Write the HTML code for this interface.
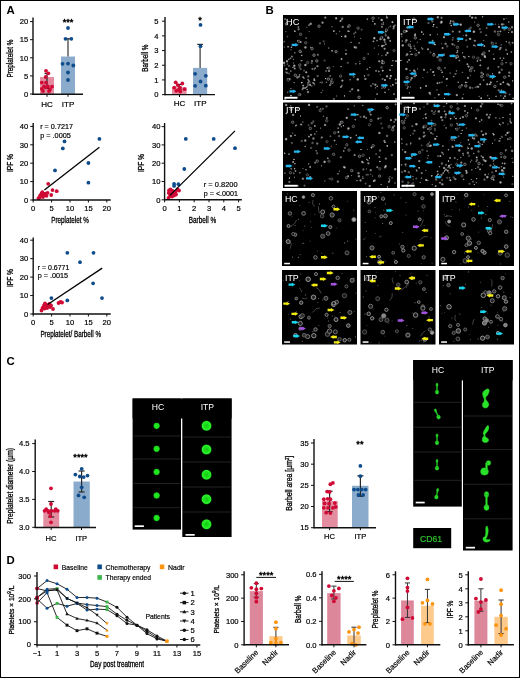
<!DOCTYPE html>
<html><head><meta charset="utf-8"><title>Figure</title>
<style>html,body{margin:0;padding:0;background:#fff;} svg{display:block;font-family:"Liberation Sans",sans-serif;will-change:transform;} text{stroke-linejoin:round;}</style>
</head><body>
<svg width="520" height="678" viewBox="0 0 520 678"><defs><radialGradient id="gc"><stop offset="0" stop-color="#22ee22"/><stop offset="0.6" stop-color="#1ee41e"/><stop offset="0.82" stop-color="#18c018"/><stop offset="1" stop-color="#064006"/></radialGradient><radialGradient id="gi"><stop offset="0" stop-color="#14c814"/><stop offset="0.55" stop-color="#1ee41e"/><stop offset="0.82" stop-color="#2cf42c"/><stop offset="1" stop-color="#065806"/></radialGradient><radialGradient id="spk"><stop offset="0" stop-color="#fff"/><stop offset="0.45" stop-color="#eee" stop-opacity="0.85"/><stop offset="1" stop-color="#ccc" stop-opacity="0"/></radialGradient><filter id="sp" x="0" y="0" width="100%" height="100%"><feGaussianBlur stdDeviation="0.8"/></filter><filter id="bl" x="-50%" y="-50%" width="200%" height="200%"><feGaussianBlur stdDeviation="0.8"/></filter></defs><rect x="0.5" y="0.5" width="519" height="677" fill="none" stroke="#000" stroke-width="1"/>
<text x="6.50" y="14.20" font-size="11.4" text-anchor="start" fill="#000" font-weight="bold" >A</text>
<text x="265.50" y="14.20" font-size="11.4" text-anchor="start" fill="#000" font-weight="bold" >B</text>
<text x="6.50" y="365.00" font-size="11.4" text-anchor="start" fill="#000" font-weight="bold" >C</text>
<text x="6.50" y="564.00" font-size="11.4" text-anchor="start" fill="#000" font-weight="bold" >D</text>
<rect x="40.00" y="76.99" width="14.00" height="17.31" fill="#e48ca0"/>
<rect x="61.00" y="56.53" width="14.00" height="37.77" fill="#8aabcb"/>
<line x1="47.00" y1="73.50" x2="47.00" y2="88.50" stroke="#2a2a2a" stroke-width="1.2"/>
<line x1="44.50" y1="73.50" x2="49.50" y2="73.50" stroke="#2a2a2a" stroke-width="1.2"/>
<line x1="44.50" y1="88.50" x2="49.50" y2="88.50" stroke="#2a2a2a" stroke-width="1.2"/>
<line x1="68.00" y1="38.80" x2="68.00" y2="56.53" stroke="#444" stroke-width="1.3"/>
<line x1="65.30" y1="38.80" x2="70.70" y2="38.80" stroke="#222" stroke-width="1.2"/>
<circle cx="46.00" cy="70.80" r="1.9" fill="#cf0a35"/>
<circle cx="48.30" cy="73.30" r="1.9" fill="#cf0a35"/>
<circle cx="45.70" cy="77.00" r="1.9" fill="#cf0a35"/>
<circle cx="41.80" cy="82.60" r="1.9" fill="#cf0a35"/>
<circle cx="46.00" cy="82.60" r="1.9" fill="#cf0a35"/>
<circle cx="44.00" cy="86.40" r="1.9" fill="#cf0a35"/>
<circle cx="47.90" cy="86.40" r="1.9" fill="#cf0a35"/>
<circle cx="52.10" cy="86.60" r="1.9" fill="#cf0a35"/>
<circle cx="41.80" cy="88.80" r="1.9" fill="#cf0a35"/>
<circle cx="50.00" cy="89.40" r="1.9" fill="#cf0a35"/>
<circle cx="46.20" cy="87.30" r="1.9" fill="#cf0a35"/>
<circle cx="43.00" cy="91.00" r="1.9" fill="#cf0a35"/>
<circle cx="49.00" cy="91.20" r="1.9" fill="#cf0a35"/>
<circle cx="68.00" cy="28.00" r="1.9" fill="#0f4c8c"/>
<circle cx="65.50" cy="38.80" r="1.9" fill="#0f4c8c"/>
<circle cx="71.30" cy="38.80" r="1.9" fill="#0f4c8c"/>
<circle cx="62.50" cy="63.80" r="1.9" fill="#0f4c8c"/>
<circle cx="68.00" cy="63.60" r="1.9" fill="#0f4c8c"/>
<circle cx="73.30" cy="65.50" r="1.9" fill="#0f4c8c"/>
<circle cx="68.00" cy="72.50" r="1.9" fill="#0f4c8c"/>
<circle cx="68.00" cy="80.00" r="1.9" fill="#0f4c8c"/>
<line x1="33.00" y1="17.50" x2="33.00" y2="94.90" stroke="#111" stroke-width="1.4"/>
<line x1="30.00" y1="94.00" x2="33.00" y2="94.00" stroke="#111" stroke-width="1.0"/>
<text x="28.30" y="96.72" font-size="7.6" text-anchor="end" fill="#000" font-weight="normal" stroke="#000" stroke-width="0.2" >0</text>
<line x1="30.00" y1="75.90" x2="33.00" y2="75.90" stroke="#111" stroke-width="1.0"/>
<text x="28.30" y="78.62" font-size="7.6" text-anchor="end" fill="#000" font-weight="normal" stroke="#000" stroke-width="0.2" >5</text>
<line x1="30.00" y1="57.80" x2="33.00" y2="57.80" stroke="#111" stroke-width="1.0"/>
<text x="28.30" y="60.52" font-size="7.6" text-anchor="end" fill="#000" font-weight="normal" stroke="#000" stroke-width="0.2" >10</text>
<line x1="30.00" y1="39.70" x2="33.00" y2="39.70" stroke="#111" stroke-width="1.0"/>
<text x="28.30" y="42.42" font-size="7.6" text-anchor="end" fill="#000" font-weight="normal" stroke="#000" stroke-width="0.2" >15</text>
<line x1="30.00" y1="21.60" x2="33.00" y2="21.60" stroke="#111" stroke-width="1.0"/>
<text x="28.30" y="24.32" font-size="7.6" text-anchor="end" fill="#000" font-weight="normal" stroke="#000" stroke-width="0.2" >20</text>
<line x1="32.40" y1="94.30" x2="83.00" y2="94.30" stroke="#111" stroke-width="1.4"/>
<line x1="47.00" y1="94.30" x2="47.00" y2="96.80" stroke="#111" stroke-width="1.0"/>
<line x1="68.00" y1="94.30" x2="68.00" y2="96.80" stroke="#111" stroke-width="1.0"/>
<text x="68.10" y="25.26" font-size="9.2" text-anchor="middle" fill="#000" stroke="#000" stroke-width="0.45">***</text>
<text x="47.00" y="106.66" font-size="8" text-anchor="middle" fill="#000" font-weight="normal" stroke="#000" stroke-width="0.2" >HC</text>
<text x="68.00" y="106.66" font-size="8" text-anchor="middle" fill="#000" font-weight="normal" stroke="#000" stroke-width="0.2" >ITP</text>
<text transform="translate(12.70,58.60) rotate(-90)" font-size="8.3" text-anchor="middle" fill="#000" stroke="#000" stroke-width="0.3" textLength="38.0" lengthAdjust="spacingAndGlyphs">Preplatelet %</text>
<rect x="172.00" y="87.26" width="14.60" height="7.34" fill="#e48ca0"/>
<rect x="193.00" y="67.88" width="14.20" height="26.72" fill="#8aabcb"/>
<line x1="200.10" y1="44.40" x2="200.10" y2="67.88" stroke="#444" stroke-width="1.3"/>
<line x1="197.30" y1="44.40" x2="202.90" y2="44.40" stroke="#222" stroke-width="1.2"/>
<line x1="179.30" y1="84.50" x2="179.30" y2="90.00" stroke="#2a2a2a" stroke-width="1.2"/>
<line x1="176.80" y1="84.50" x2="181.80" y2="84.50" stroke="#2a2a2a" stroke-width="1.2"/>
<line x1="176.80" y1="90.00" x2="181.80" y2="90.00" stroke="#2a2a2a" stroke-width="1.2"/>
<circle cx="175.70" cy="82.30" r="1.9" fill="#cf0a35"/>
<circle cx="182.30" cy="83.50" r="1.9" fill="#cf0a35"/>
<circle cx="177.70" cy="85.10" r="1.9" fill="#cf0a35"/>
<circle cx="174.20" cy="87.70" r="1.9" fill="#cf0a35"/>
<circle cx="180.00" cy="87.70" r="1.9" fill="#cf0a35"/>
<circle cx="184.60" cy="89.20" r="1.9" fill="#cf0a35"/>
<circle cx="176.20" cy="90.80" r="1.9" fill="#cf0a35"/>
<circle cx="180.30" cy="91.50" r="1.9" fill="#cf0a35"/>
<circle cx="178.50" cy="90.00" r="1.9" fill="#cf0a35"/>
<circle cx="200.50" cy="24.90" r="1.9" fill="#0f4c8c"/>
<circle cx="200.50" cy="46.20" r="1.9" fill="#0f4c8c"/>
<circle cx="195.10" cy="73.80" r="1.9" fill="#0f4c8c"/>
<circle cx="205.80" cy="75.80" r="1.9" fill="#0f4c8c"/>
<circle cx="200.50" cy="81.50" r="1.9" fill="#0f4c8c"/>
<circle cx="195.10" cy="85.80" r="1.9" fill="#0f4c8c"/>
<circle cx="205.80" cy="85.70" r="1.9" fill="#0f4c8c"/>
<line x1="165.00" y1="17.00" x2="165.00" y2="95.20" stroke="#111" stroke-width="1.4"/>
<line x1="162.00" y1="94.60" x2="165.00" y2="94.60" stroke="#111" stroke-width="1.0"/>
<text x="158.50" y="97.32" font-size="7.6" text-anchor="end" fill="#000" font-weight="normal" stroke="#000" stroke-width="0.2" >0</text>
<line x1="162.00" y1="79.92" x2="165.00" y2="79.92" stroke="#111" stroke-width="1.0"/>
<text x="158.50" y="82.64" font-size="7.6" text-anchor="end" fill="#000" font-weight="normal" stroke="#000" stroke-width="0.2" >1</text>
<line x1="162.00" y1="65.24" x2="165.00" y2="65.24" stroke="#111" stroke-width="1.0"/>
<text x="158.50" y="67.96" font-size="7.6" text-anchor="end" fill="#000" font-weight="normal" stroke="#000" stroke-width="0.2" >2</text>
<line x1="162.00" y1="50.56" x2="165.00" y2="50.56" stroke="#111" stroke-width="1.0"/>
<text x="158.50" y="53.28" font-size="7.6" text-anchor="end" fill="#000" font-weight="normal" stroke="#000" stroke-width="0.2" >3</text>
<line x1="162.00" y1="35.88" x2="165.00" y2="35.88" stroke="#111" stroke-width="1.0"/>
<text x="158.50" y="38.60" font-size="7.6" text-anchor="end" fill="#000" font-weight="normal" stroke="#000" stroke-width="0.2" >4</text>
<line x1="162.00" y1="21.20" x2="165.00" y2="21.20" stroke="#111" stroke-width="1.0"/>
<text x="158.50" y="23.92" font-size="7.6" text-anchor="end" fill="#000" font-weight="normal" stroke="#000" stroke-width="0.2" >5</text>
<line x1="164.40" y1="94.60" x2="215.00" y2="94.60" stroke="#111" stroke-width="1.4"/>
<line x1="179.50" y1="94.60" x2="179.50" y2="97.10" stroke="#111" stroke-width="1.0"/>
<line x1="200.30" y1="94.60" x2="200.30" y2="97.10" stroke="#111" stroke-width="1.0"/>
<text x="200.10" y="22.51" font-size="9.2" text-anchor="middle" fill="#000" stroke="#000" stroke-width="0.45">*</text>
<text x="179.50" y="106.46" font-size="8" text-anchor="middle" fill="#000" font-weight="normal" stroke="#000" stroke-width="0.2" >HC</text>
<text x="200.30" y="106.46" font-size="8" text-anchor="middle" fill="#000" font-weight="normal" stroke="#000" stroke-width="0.2" >ITP</text>
<text transform="translate(148.40,58.15) rotate(-90)" font-size="8.5" text-anchor="middle" fill="#000" stroke="#000" stroke-width="0.3" textLength="27.3" lengthAdjust="spacingAndGlyphs">Barbell %</text>
<circle cx="48.20" cy="183.80" r="1.9" fill="#cf0a35"/>
<circle cx="52.50" cy="190.10" r="1.9" fill="#cf0a35"/>
<circle cx="56.70" cy="191.20" r="1.9" fill="#cf0a35"/>
<circle cx="51.20" cy="195.00" r="1.9" fill="#cf0a35"/>
<circle cx="42.30" cy="192.20" r="1.9" fill="#cf0a35"/>
<circle cx="45.50" cy="193.70" r="1.9" fill="#cf0a35"/>
<circle cx="47.60" cy="192.80" r="1.9" fill="#cf0a35"/>
<circle cx="40.20" cy="195.40" r="1.9" fill="#cf0a35"/>
<circle cx="39.80" cy="197.50" r="1.9" fill="#cf0a35"/>
<circle cx="43.50" cy="195.50" r="1.9" fill="#cf0a35"/>
<circle cx="44.50" cy="194.00" r="1.9" fill="#cf0a35"/>
<circle cx="41.50" cy="193.50" r="1.9" fill="#cf0a35"/>
<circle cx="38.50" cy="198.20" r="1.9" fill="#cf0a35"/>
<circle cx="46.50" cy="195.80" r="1.9" fill="#cf0a35"/>
<circle cx="43.00" cy="197.00" r="1.9" fill="#cf0a35"/>
<circle cx="64.50" cy="141.40" r="1.9" fill="#0f4c8c"/>
<circle cx="62.80" cy="148.40" r="1.9" fill="#0f4c8c"/>
<circle cx="99.40" cy="138.90" r="1.9" fill="#0f4c8c"/>
<circle cx="88.40" cy="163.00" r="1.9" fill="#0f4c8c"/>
<circle cx="88.40" cy="182.70" r="1.9" fill="#0f4c8c"/>
<circle cx="55.00" cy="170.40" r="1.9" fill="#0f4c8c"/>
<line x1="44.40" y1="190.00" x2="99.40" y2="147.20" stroke="#000" stroke-width="1.3"/>
<line x1="33.20" y1="123.00" x2="33.20" y2="200.60" stroke="#111" stroke-width="1.4"/>
<line x1="30.20" y1="200.00" x2="33.20" y2="200.00" stroke="#111" stroke-width="1.0"/>
<text x="28.30" y="202.72" font-size="7.6" text-anchor="end" fill="#000" font-weight="normal" stroke="#000" stroke-width="0.2" >0</text>
<line x1="30.20" y1="181.60" x2="33.20" y2="181.60" stroke="#111" stroke-width="1.0"/>
<text x="28.30" y="184.32" font-size="7.6" text-anchor="end" fill="#000" font-weight="normal" stroke="#000" stroke-width="0.2" >10</text>
<line x1="30.20" y1="163.20" x2="33.20" y2="163.20" stroke="#111" stroke-width="1.0"/>
<text x="28.30" y="165.92" font-size="7.6" text-anchor="end" fill="#000" font-weight="normal" stroke="#000" stroke-width="0.2" >20</text>
<line x1="30.20" y1="144.80" x2="33.20" y2="144.80" stroke="#111" stroke-width="1.0"/>
<text x="28.30" y="147.52" font-size="7.6" text-anchor="end" fill="#000" font-weight="normal" stroke="#000" stroke-width="0.2" >30</text>
<line x1="30.20" y1="126.40" x2="33.20" y2="126.40" stroke="#111" stroke-width="1.0"/>
<text x="28.30" y="129.12" font-size="7.6" text-anchor="end" fill="#000" font-weight="normal" stroke="#000" stroke-width="0.2" >40</text>
<line x1="32.60" y1="200.00" x2="110.70" y2="200.00" stroke="#111" stroke-width="1.4"/>
<line x1="33.20" y1="200.00" x2="33.20" y2="202.50" stroke="#111" stroke-width="1.0"/>
<line x1="51.60" y1="200.00" x2="51.60" y2="202.50" stroke="#111" stroke-width="1.0"/>
<line x1="70.00" y1="200.00" x2="70.00" y2="202.50" stroke="#111" stroke-width="1.0"/>
<line x1="88.40" y1="200.00" x2="88.40" y2="202.50" stroke="#111" stroke-width="1.0"/>
<line x1="106.80" y1="200.00" x2="106.80" y2="202.50" stroke="#111" stroke-width="1.0"/>
<text x="33.20" y="210.72" font-size="7.6" text-anchor="middle" fill="#000" font-weight="normal" stroke="#000" stroke-width="0.2" >0</text>
<text x="51.60" y="210.72" font-size="7.6" text-anchor="middle" fill="#000" font-weight="normal" stroke="#000" stroke-width="0.2" >5</text>
<text x="70.00" y="210.72" font-size="7.6" text-anchor="middle" fill="#000" font-weight="normal" stroke="#000" stroke-width="0.2" >10</text>
<text x="88.40" y="210.72" font-size="7.6" text-anchor="middle" fill="#000" font-weight="normal" stroke="#000" stroke-width="0.2" >15</text>
<text x="106.80" y="210.72" font-size="7.6" text-anchor="middle" fill="#000" font-weight="normal" stroke="#000" stroke-width="0.2" >20</text>
<text x="40.20" y="128.81" font-size="7.8" fill="#000" stroke="#000" stroke-width="0.2" textLength="32.8" lengthAdjust="spacingAndGlyphs">r = 0.7217</text>
<text x="40.20" y="137.81" font-size="7.8" fill="#000" stroke="#000" stroke-width="0.2" textLength="30.7" lengthAdjust="spacingAndGlyphs">p = .0005</text>
<text x="70.00" y="222.69" font-size="8.3" text-anchor="middle" fill="#000" stroke="#000" stroke-width="0.3" textLength="37.5" lengthAdjust="spacingAndGlyphs">Preplatelet %</text>
<text transform="translate(12.70,163.00) rotate(-90)" font-size="8.2" text-anchor="middle" fill="#000" stroke="#000" stroke-width="0.3" textLength="18.0" lengthAdjust="spacingAndGlyphs">IPF %</text>
<circle cx="169.00" cy="190.50" r="1.9" fill="#cf0a35"/>
<circle cx="170.50" cy="189.50" r="1.9" fill="#cf0a35"/>
<circle cx="172.50" cy="191.00" r="1.9" fill="#cf0a35"/>
<circle cx="168.80" cy="193.00" r="1.9" fill="#cf0a35"/>
<circle cx="171.00" cy="194.00" r="1.9" fill="#cf0a35"/>
<circle cx="173.50" cy="193.50" r="1.9" fill="#cf0a35"/>
<circle cx="175.50" cy="192.00" r="1.9" fill="#cf0a35"/>
<circle cx="177.50" cy="189.50" r="1.9" fill="#cf0a35"/>
<circle cx="179.00" cy="190.50" r="1.9" fill="#cf0a35"/>
<circle cx="170.00" cy="196.00" r="1.9" fill="#cf0a35"/>
<circle cx="168.50" cy="198.00" r="1.9" fill="#cf0a35"/>
<circle cx="172.00" cy="196.50" r="1.9" fill="#cf0a35"/>
<circle cx="174.00" cy="195.50" r="1.9" fill="#cf0a35"/>
<circle cx="176.00" cy="194.50" r="1.9" fill="#cf0a35"/>
<circle cx="185.80" cy="138.90" r="1.9" fill="#0f4c8c"/>
<circle cx="213.70" cy="138.90" r="1.9" fill="#0f4c8c"/>
<circle cx="235.00" cy="148.20" r="1.9" fill="#0f4c8c"/>
<circle cx="184.30" cy="169.00" r="1.9" fill="#0f4c8c"/>
<circle cx="174.10" cy="183.80" r="1.9" fill="#0f4c8c"/>
<circle cx="174.10" cy="185.90" r="1.9" fill="#0f4c8c"/>
<circle cx="178.40" cy="184.20" r="1.9" fill="#0f4c8c"/>
<line x1="169.90" y1="195.40" x2="235.00" y2="130.90" stroke="#000" stroke-width="1.3"/>
<line x1="164.60" y1="123.00" x2="164.60" y2="200.40" stroke="#111" stroke-width="1.4"/>
<line x1="161.60" y1="199.80" x2="164.60" y2="199.80" stroke="#111" stroke-width="1.0"/>
<text x="160.40" y="202.52" font-size="7.6" text-anchor="end" fill="#000" font-weight="normal" stroke="#000" stroke-width="0.2" >0</text>
<line x1="161.60" y1="181.50" x2="164.60" y2="181.50" stroke="#111" stroke-width="1.0"/>
<text x="160.40" y="184.22" font-size="7.6" text-anchor="end" fill="#000" font-weight="normal" stroke="#000" stroke-width="0.2" >10</text>
<line x1="161.60" y1="163.20" x2="164.60" y2="163.20" stroke="#111" stroke-width="1.0"/>
<text x="160.40" y="165.92" font-size="7.6" text-anchor="end" fill="#000" font-weight="normal" stroke="#000" stroke-width="0.2" >20</text>
<line x1="161.60" y1="144.90" x2="164.60" y2="144.90" stroke="#111" stroke-width="1.0"/>
<text x="160.40" y="147.62" font-size="7.6" text-anchor="end" fill="#000" font-weight="normal" stroke="#000" stroke-width="0.2" >30</text>
<line x1="161.60" y1="126.60" x2="164.60" y2="126.60" stroke="#111" stroke-width="1.0"/>
<text x="160.40" y="129.32" font-size="7.6" text-anchor="end" fill="#000" font-weight="normal" stroke="#000" stroke-width="0.2" >40</text>
<line x1="164.00" y1="199.80" x2="241.80" y2="199.80" stroke="#111" stroke-width="1.4"/>
<line x1="164.60" y1="199.80" x2="164.60" y2="202.30" stroke="#111" stroke-width="1.0"/>
<line x1="179.40" y1="199.80" x2="179.40" y2="202.30" stroke="#111" stroke-width="1.0"/>
<line x1="194.20" y1="199.80" x2="194.20" y2="202.30" stroke="#111" stroke-width="1.0"/>
<line x1="209.00" y1="199.80" x2="209.00" y2="202.30" stroke="#111" stroke-width="1.0"/>
<line x1="223.80" y1="199.80" x2="223.80" y2="202.30" stroke="#111" stroke-width="1.0"/>
<line x1="238.60" y1="199.80" x2="238.60" y2="202.30" stroke="#111" stroke-width="1.0"/>
<text x="164.60" y="210.72" font-size="7.6" text-anchor="middle" fill="#000" font-weight="normal" stroke="#000" stroke-width="0.2" >0</text>
<text x="179.40" y="210.72" font-size="7.6" text-anchor="middle" fill="#000" font-weight="normal" stroke="#000" stroke-width="0.2" >1</text>
<text x="194.20" y="210.72" font-size="7.6" text-anchor="middle" fill="#000" font-weight="normal" stroke="#000" stroke-width="0.2" >2</text>
<text x="209.00" y="210.72" font-size="7.6" text-anchor="middle" fill="#000" font-weight="normal" stroke="#000" stroke-width="0.2" >3</text>
<text x="223.80" y="210.72" font-size="7.6" text-anchor="middle" fill="#000" font-weight="normal" stroke="#000" stroke-width="0.2" >4</text>
<text x="238.60" y="210.72" font-size="7.6" text-anchor="middle" fill="#000" font-weight="normal" stroke="#000" stroke-width="0.2" >5</text>
<text x="203.80" y="186.61" font-size="7.8" fill="#000" stroke="#000" stroke-width="0.2" textLength="33.8" lengthAdjust="spacingAndGlyphs">r = 0.8200</text>
<text x="203.80" y="195.61" font-size="7.8" fill="#000" stroke="#000" stroke-width="0.2" textLength="34.2" lengthAdjust="spacingAndGlyphs">p = &lt;.0001</text>
<text x="202.40" y="222.99" font-size="8.3" text-anchor="middle" fill="#000" stroke="#000" stroke-width="0.3" textLength="27.4" lengthAdjust="spacingAndGlyphs">Barbell %</text>
<text transform="translate(143.80,163.00) rotate(-90)" font-size="8.2" text-anchor="middle" fill="#000" stroke="#000" stroke-width="0.3" textLength="18.0" lengthAdjust="spacingAndGlyphs">IPF %</text>
<circle cx="41.50" cy="310.50" r="1.9" fill="#cf0a35"/>
<circle cx="42.50" cy="308.00" r="1.9" fill="#cf0a35"/>
<circle cx="44.00" cy="305.50" r="1.9" fill="#cf0a35"/>
<circle cx="45.00" cy="303.50" r="1.9" fill="#cf0a35"/>
<circle cx="46.50" cy="305.00" r="1.9" fill="#cf0a35"/>
<circle cx="48.00" cy="306.50" r="1.9" fill="#cf0a35"/>
<circle cx="49.50" cy="304.00" r="1.9" fill="#cf0a35"/>
<circle cx="51.00" cy="305.50" r="1.9" fill="#cf0a35"/>
<circle cx="47.00" cy="308.00" r="1.9" fill="#cf0a35"/>
<circle cx="44.50" cy="308.50" r="1.9" fill="#cf0a35"/>
<circle cx="53.00" cy="309.00" r="1.9" fill="#cf0a35"/>
<circle cx="58.50" cy="303.00" r="1.9" fill="#cf0a35"/>
<circle cx="60.50" cy="302.00" r="1.9" fill="#cf0a35"/>
<circle cx="62.00" cy="302.50" r="1.9" fill="#cf0a35"/>
<circle cx="50.00" cy="307.00" r="1.9" fill="#cf0a35"/>
<circle cx="67.30" cy="252.80" r="1.9" fill="#0f4c8c"/>
<circle cx="93.50" cy="252.80" r="1.9" fill="#0f4c8c"/>
<circle cx="80.00" cy="262.20" r="1.9" fill="#0f4c8c"/>
<circle cx="93.10" cy="283.30" r="1.9" fill="#0f4c8c"/>
<circle cx="102.00" cy="298.10" r="1.9" fill="#0f4c8c"/>
<circle cx="51.40" cy="298.10" r="1.9" fill="#0f4c8c"/>
<circle cx="67.30" cy="300.40" r="1.9" fill="#0f4c8c"/>
<line x1="47.60" y1="304.50" x2="102.20" y2="268.10" stroke="#000" stroke-width="1.3"/>
<line x1="33.20" y1="237.50" x2="33.20" y2="314.60" stroke="#111" stroke-width="1.4"/>
<line x1="30.20" y1="314.00" x2="33.20" y2="314.00" stroke="#111" stroke-width="1.0"/>
<text x="28.30" y="316.72" font-size="7.6" text-anchor="end" fill="#000" font-weight="normal" stroke="#000" stroke-width="0.2" >0</text>
<line x1="30.20" y1="295.55" x2="33.20" y2="295.55" stroke="#111" stroke-width="1.0"/>
<text x="28.30" y="298.27" font-size="7.6" text-anchor="end" fill="#000" font-weight="normal" stroke="#000" stroke-width="0.2" >10</text>
<line x1="30.20" y1="277.10" x2="33.20" y2="277.10" stroke="#111" stroke-width="1.0"/>
<text x="28.30" y="279.82" font-size="7.6" text-anchor="end" fill="#000" font-weight="normal" stroke="#000" stroke-width="0.2" >20</text>
<line x1="30.20" y1="258.65" x2="33.20" y2="258.65" stroke="#111" stroke-width="1.0"/>
<text x="28.30" y="261.37" font-size="7.6" text-anchor="end" fill="#000" font-weight="normal" stroke="#000" stroke-width="0.2" >30</text>
<line x1="30.20" y1="240.20" x2="33.20" y2="240.20" stroke="#111" stroke-width="1.0"/>
<text x="28.30" y="242.92" font-size="7.6" text-anchor="end" fill="#000" font-weight="normal" stroke="#000" stroke-width="0.2" >40</text>
<line x1="32.60" y1="314.00" x2="110.70" y2="314.00" stroke="#111" stroke-width="1.4"/>
<line x1="33.20" y1="314.00" x2="33.20" y2="316.50" stroke="#111" stroke-width="1.0"/>
<line x1="51.60" y1="314.00" x2="51.60" y2="316.50" stroke="#111" stroke-width="1.0"/>
<line x1="70.00" y1="314.00" x2="70.00" y2="316.50" stroke="#111" stroke-width="1.0"/>
<line x1="88.40" y1="314.00" x2="88.40" y2="316.50" stroke="#111" stroke-width="1.0"/>
<line x1="106.80" y1="314.00" x2="106.80" y2="316.50" stroke="#111" stroke-width="1.0"/>
<text x="33.20" y="325.42" font-size="7.6" text-anchor="middle" fill="#000" font-weight="normal" stroke="#000" stroke-width="0.2" >0</text>
<text x="51.60" y="325.42" font-size="7.6" text-anchor="middle" fill="#000" font-weight="normal" stroke="#000" stroke-width="0.2" >5</text>
<text x="70.00" y="325.42" font-size="7.6" text-anchor="middle" fill="#000" font-weight="normal" stroke="#000" stroke-width="0.2" >10</text>
<text x="88.40" y="325.42" font-size="7.6" text-anchor="middle" fill="#000" font-weight="normal" stroke="#000" stroke-width="0.2" >15</text>
<text x="106.80" y="325.42" font-size="7.6" text-anchor="middle" fill="#000" font-weight="normal" stroke="#000" stroke-width="0.2" >20</text>
<text x="37.70" y="269.81" font-size="7.8" fill="#000" stroke="#000" stroke-width="0.2" textLength="31.7" lengthAdjust="spacingAndGlyphs">r = 0.6771</text>
<text x="37.70" y="278.31" font-size="7.8" fill="#000" stroke="#000" stroke-width="0.2" textLength="30.4" lengthAdjust="spacingAndGlyphs">p = .0015</text>
<text x="70.70" y="337.19" font-size="8.3" text-anchor="middle" fill="#000" stroke="#000" stroke-width="0.3" textLength="60.6" lengthAdjust="spacingAndGlyphs">Preplatelet/ Barbell %</text>
<text transform="translate(12.70,278.00) rotate(-90)" font-size="8.2" text-anchor="middle" fill="#000" stroke="#000" stroke-width="0.3" textLength="18.0" lengthAdjust="spacingAndGlyphs">IPF %</text>
<rect x="283.00" y="15.00" width="114.00" height="85.00" fill="#000"/>
<circle cx="354.1" cy="33.6" r="1.44" fill="url(#spk)" opacity="0.38"/>
<circle cx="384.6" cy="92.1" r="1.16" fill="url(#spk)" opacity="0.34"/>
<circle cx="371.0" cy="85.9" r="1.25" fill="url(#spk)" opacity="0.50"/>
<circle cx="309.1" cy="25.2" r="1.57" fill="url(#spk)" opacity="0.45"/>
<circle cx="317.5" cy="66.2" r="1.62" fill="url(#spk)" opacity="0.56"/>
<circle cx="382.0" cy="55.8" r="1.05" fill="url(#spk)" opacity="0.41"/>
<circle cx="284.4" cy="65.4" r="1.59" fill="url(#spk)" opacity="0.30"/>
<circle cx="376.1" cy="70.8" r="1.65" fill="url(#spk)" opacity="0.44"/>
<circle cx="373.4" cy="41.4" r="1.36" fill="url(#spk)" opacity="0.63"/>
<circle cx="336.4" cy="96.0" r="1.05" fill="url(#spk)" opacity="0.40"/>
<circle cx="317.9" cy="54.7" r="1.55" fill="url(#spk)" opacity="0.47"/>
<circle cx="315.1" cy="68.2" r="1.20" fill="url(#spk)" opacity="0.63"/>
<circle cx="312.4" cy="68.8" r="1.51" fill="url(#spk)" opacity="0.47"/>
<circle cx="333.8" cy="31.1" r="1.30" fill="url(#spk)" opacity="0.70"/>
<circle cx="340.5" cy="21.0" r="1.51" fill="url(#spk)" opacity="0.71"/>
<circle cx="346.0" cy="50.1" r="1.21" fill="url(#spk)" opacity="0.43"/>
<circle cx="395.7" cy="79.5" r="1.38" fill="url(#spk)" opacity="0.63"/>
<circle cx="372.9" cy="83.8" r="1.42" fill="url(#spk)" opacity="0.40"/>
<circle cx="353.7" cy="76.7" r="1.50" fill="url(#spk)" opacity="0.35"/>
<circle cx="395.0" cy="25.2" r="1.16" fill="url(#spk)" opacity="0.49"/>
<circle cx="308.0" cy="92.0" r="1.77" fill="url(#spk)" opacity="0.56"/>
<circle cx="301.8" cy="82.7" r="1.23" fill="url(#spk)" opacity="0.72"/>
<circle cx="352.6" cy="89.0" r="1.24" fill="url(#spk)" opacity="0.35"/>
<circle cx="288.7" cy="59.4" r="1.21" fill="url(#spk)" opacity="0.61"/>
<circle cx="287.8" cy="92.2" r="1.05" fill="url(#spk)" opacity="0.50"/>
<circle cx="341.7" cy="19.7" r="1.34" fill="url(#spk)" opacity="0.34"/>
<circle cx="336.2" cy="18.3" r="1.62" fill="url(#spk)" opacity="0.74"/>
<circle cx="386.9" cy="17.5" r="1.57" fill="url(#spk)" opacity="0.61"/>
<circle cx="354.5" cy="36.9" r="1.16" fill="url(#spk)" opacity="0.34"/>
<circle cx="341.6" cy="36.5" r="1.11" fill="url(#spk)" opacity="0.71"/>
<circle cx="339.6" cy="31.4" r="1.26" fill="url(#spk)" opacity="0.33"/>
<circle cx="311.6" cy="63.1" r="1.61" fill="url(#spk)" opacity="0.32"/>
<circle cx="285.1" cy="19.1" r="1.39" fill="url(#spk)" opacity="0.44"/>
<circle cx="305.4" cy="65.0" r="1.74" fill="url(#spk)" opacity="0.72"/>
<circle cx="361.6" cy="29.6" r="1.53" fill="url(#spk)" opacity="0.30"/>
<circle cx="306.3" cy="72.3" r="1.50" fill="url(#spk)" opacity="0.71"/>
<circle cx="325.3" cy="17.6" r="1.61" fill="url(#spk)" opacity="0.57"/>
<circle cx="284.2" cy="41.7" r="1.60" fill="url(#spk)" opacity="0.31"/>
<circle cx="377.1" cy="94.1" r="1.28" fill="url(#spk)" opacity="0.55"/>
<circle cx="301.2" cy="60.7" r="1.21" fill="url(#spk)" opacity="0.50"/>
<circle cx="313.9" cy="83.5" r="1.35" fill="url(#spk)" opacity="0.55"/>
<circle cx="382.7" cy="70.7" r="1.39" fill="url(#spk)" opacity="0.63"/>
<circle cx="341.1" cy="66.7" r="1.11" fill="url(#spk)" opacity="0.60"/>
<circle cx="379.0" cy="31.8" r="1.35" fill="url(#spk)" opacity="0.75"/>
<circle cx="355.7" cy="63.7" r="1.51" fill="url(#spk)" opacity="0.35"/>
<circle cx="367.2" cy="19.1" r="1.11" fill="url(#spk)" opacity="0.66"/>
<circle cx="294.1" cy="82.7" r="1.11" fill="url(#spk)" opacity="0.47"/>
<circle cx="344.6" cy="95.9" r="1.14" fill="url(#spk)" opacity="0.65"/>
<circle cx="340.9" cy="87.0" r="1.23" fill="url(#spk)" opacity="0.70"/>
<circle cx="381.7" cy="20.0" r="1.77" fill="url(#spk)" opacity="0.75"/>
<circle cx="324.4" cy="44.0" r="1.02" fill="url(#spk)" opacity="0.41"/>
<circle cx="351.0" cy="42.3" r="1.15" fill="url(#spk)" opacity="0.49"/>
<circle cx="290.5" cy="25.2" r="1.13" fill="url(#spk)" opacity="0.72"/>
<circle cx="327.4" cy="68.1" r="1.38" fill="url(#spk)" opacity="0.72"/>
<circle cx="320.1" cy="82.3" r="1.01" fill="url(#spk)" opacity="0.46"/>
<circle cx="300.7" cy="42.0" r="1.37" fill="url(#spk)" opacity="0.72"/>
<circle cx="375.6" cy="87.8" r="1.13" fill="url(#spk)" opacity="0.47"/>
<circle cx="326.4" cy="82.3" r="1.22" fill="url(#spk)" opacity="0.46"/>
<circle cx="393.8" cy="26.6" r="1.63" fill="url(#spk)" opacity="0.64"/>
<circle cx="350.1" cy="79.8" r="1.15" fill="url(#spk)" opacity="0.50"/>
<circle cx="351.8" cy="89.4" r="1.49" fill="url(#spk)" opacity="0.49"/>
<circle cx="355.5" cy="32.3" r="1.33" fill="url(#spk)" opacity="0.46"/>
<circle cx="359.8" cy="63.6" r="1.33" fill="url(#spk)" opacity="0.48"/>
<circle cx="300.7" cy="69.1" r="1.65" fill="url(#spk)" opacity="0.35"/>
<circle cx="333.3" cy="66.6" r="1.13" fill="url(#spk)" opacity="0.31"/>
<circle cx="310.7" cy="23.8" r="1.74" fill="url(#spk)" opacity="0.63"/>
<circle cx="329.0" cy="70.9" r="1.71" fill="url(#spk)" opacity="0.55"/>
<circle cx="294.7" cy="68.5" r="1.53" fill="url(#spk)" opacity="0.60"/>
<circle cx="392.6" cy="84.5" r="1.04" fill="url(#spk)" opacity="0.66"/>
<circle cx="308.0" cy="82.8" r="1.53" fill="url(#spk)" opacity="0.39"/>
<circle cx="359.3" cy="43.1" r="1.48" fill="url(#spk)" opacity="0.39"/>
<circle cx="317.6" cy="76.0" r="1.62" fill="url(#spk)" opacity="0.41"/>
<circle cx="382.0" cy="88.1" r="1.17" fill="url(#spk)" opacity="0.42"/>
<circle cx="358.2" cy="90.3" r="1.76" fill="url(#spk)" opacity="0.64"/>
<circle cx="298.6" cy="29.3" r="1.71" fill="url(#spk)" opacity="0.46"/>
<circle cx="378.8" cy="18.0" r="1.09" fill="url(#spk)" opacity="0.43"/>
<circle cx="390.0" cy="70.1" r="1.25" fill="url(#spk)" opacity="0.58"/>
<circle cx="385.4" cy="33.7" r="1.03" fill="url(#spk)" opacity="0.37"/>
<circle cx="347.8" cy="62.8" r="1.66" fill="url(#spk)" opacity="0.33"/>
<circle cx="300.1" cy="94.6" r="1.73" fill="url(#spk)" opacity="0.61"/>
<circle cx="305.4" cy="47.4" r="1.79" fill="url(#spk)" opacity="0.64"/>
<circle cx="388.1" cy="36.9" r="1.49" fill="url(#spk)" opacity="0.42"/>
<circle cx="345.9" cy="53.9" r="1.53" fill="url(#spk)" opacity="0.58"/>
<circle cx="304.1" cy="70.6" r="1.54" fill="url(#spk)" opacity="0.30"/>
<circle cx="383.2" cy="24.2" r="1.46" fill="url(#spk)" opacity="0.47"/>
<circle cx="355.9" cy="47.5" r="1.76" fill="url(#spk)" opacity="0.55"/>
<circle cx="347.8" cy="27.0" r="1.49" fill="url(#spk)" opacity="0.40"/>
<circle cx="326.1" cy="71.0" r="1.27" fill="url(#spk)" opacity="0.44"/>
<circle cx="330.0" cy="85.1" r="1.41" fill="url(#spk)" opacity="0.57"/>
<circle cx="310.7" cy="47.2" r="1.01" fill="url(#spk)" opacity="0.56"/>
<circle cx="288.1" cy="46.8" r="1.58" fill="url(#spk)" opacity="0.35"/>
<circle cx="382.3" cy="60.8" r="1.56" fill="url(#spk)" opacity="0.61"/>
<circle cx="336.4" cy="33.7" r="1.34" fill="url(#spk)" opacity="0.32"/>
<circle cx="345.4" cy="36.4" r="1.68" fill="url(#spk)" opacity="0.74"/>
<circle cx="320.0" cy="43.3" r="1.60" fill="url(#spk)" opacity="0.38"/>
<circle cx="368.2" cy="53.9" r="1.27" fill="url(#spk)" opacity="0.40"/>
<circle cx="286.6" cy="22.6" r="1.06" fill="url(#spk)" opacity="0.37"/>
<circle cx="325.6" cy="78.6" r="1.11" fill="url(#spk)" opacity="0.75"/>
<circle cx="287.2" cy="64.1" r="1.15" fill="url(#spk)" opacity="0.41"/>
<circle cx="297.6" cy="40.8" r="1.24" fill="url(#spk)" opacity="0.56"/>
<circle cx="392.5" cy="22.3" r="1.36" fill="url(#spk)" opacity="0.75"/>
<circle cx="357.7" cy="79.4" r="1.74" fill="url(#spk)" opacity="0.73"/>
<circle cx="331.9" cy="26.7" r="1.22" fill="url(#spk)" opacity="0.30"/>
<circle cx="342.7" cy="26.9" r="1.72" fill="url(#spk)" opacity="0.52"/>
<circle cx="381.9" cy="26.7" r="1.54" fill="url(#spk)" opacity="0.56"/>
<circle cx="322.5" cy="22.6" r="1.68" fill="url(#spk)" opacity="0.61"/>
<circle cx="350.1" cy="91.4" r="1.32" fill="url(#spk)" opacity="0.44"/>
<circle cx="360.6" cy="38.3" r="1.00" fill="url(#spk)" opacity="0.43"/>
<circle cx="323.7" cy="41.4" r="1.63" fill="url(#spk)" opacity="0.28"/>
<circle cx="342.1" cy="85.3" r="1.20" fill="url(#spk)" opacity="0.30"/>
<circle cx="369.8" cy="67.5" r="1.11" fill="url(#spk)" opacity="0.54"/>
<circle cx="386.0" cy="31.4" r="1.64" fill="url(#spk)" opacity="0.32"/>
<circle cx="300.8" cy="52.1" r="1.55" fill="url(#spk)" opacity="0.38"/>
<circle cx="388.7" cy="89.5" r="1.17" fill="url(#spk)" opacity="0.44"/>
<circle cx="284.4" cy="47.1" r="1.21" fill="url(#spk)" opacity="0.31"/>
<circle cx="368.4" cy="75.1" r="1.75" fill="url(#spk)" opacity="0.29"/>
<circle cx="374.9" cy="23.9" r="1.21" fill="url(#spk)" opacity="0.72"/>
<circle cx="299.2" cy="76.5" r="1.56" fill="url(#spk)" opacity="0.48"/>
<circle cx="330.9" cy="80.6" r="1.10" fill="url(#spk)" opacity="0.38"/>
<circle cx="375.4" cy="84.7" r="1.65" fill="url(#spk)" opacity="0.61"/>
<circle cx="285.4" cy="72.0" r="1.09" fill="url(#spk)" opacity="0.28"/>
<circle cx="354.4" cy="46.7" r="1.41" fill="url(#spk)" opacity="0.40"/>
<circle cx="372.9" cy="21.2" r="1.03" fill="url(#spk)" opacity="0.73"/>
<circle cx="341.5" cy="59.1" r="1.44" fill="url(#spk)" opacity="0.70"/>
<circle cx="365.4" cy="79.0" r="1.68" fill="url(#spk)" opacity="0.58"/>
<circle cx="309.2" cy="31.7" r="1.07" fill="url(#spk)" opacity="0.32"/>
<circle cx="306.1" cy="38.0" r="1.22" fill="url(#spk)" opacity="0.43"/>
<circle cx="324.6" cy="60.5" r="1.61" fill="url(#spk)" opacity="0.29"/>
<circle cx="304.0" cy="78.2" r="1.49" fill="url(#spk)" opacity="0.38"/>
<circle cx="322.7" cy="90.6" r="1.25" fill="url(#spk)" opacity="0.29"/>
<circle cx="390.4" cy="26.3" r="1.50" fill="url(#spk)" opacity="0.34"/>
<circle cx="348.2" cy="31.2" r="1.36" fill="url(#spk)" opacity="0.58"/>
<circle cx="322.0" cy="82.5" r="1.69" fill="url(#spk)" opacity="0.33"/>
<circle cx="314.3" cy="69.6" r="1.23" fill="url(#spk)" opacity="0.35"/>
<circle cx="390.8" cy="75.9" r="1.61" fill="url(#spk)" opacity="0.70"/>
<circle cx="333.8" cy="98.9" r="1.51" fill="url(#spk)" opacity="0.44"/>
<circle cx="394.0" cy="94.1" r="1.59" fill="url(#spk)" opacity="0.44"/>
<circle cx="341.7" cy="86.1" r="1.30" fill="url(#spk)" opacity="0.32"/>
<circle cx="342.4" cy="80.6" r="1.58" fill="url(#spk)" opacity="0.65"/>
<circle cx="384.6" cy="48.7" r="1.56" fill="url(#spk)" opacity="0.60"/>
<circle cx="367.3" cy="69.3" r="1.31" fill="url(#spk)" opacity="0.54"/>
<circle cx="349.1" cy="31.2" r="1.02" fill="url(#spk)" opacity="0.57"/>
<circle cx="331.8" cy="79.1" r="1.77" fill="url(#spk)" opacity="0.33"/>
<circle cx="382.5" cy="79.0" r="1.57" fill="url(#spk)" opacity="0.40"/>
<circle cx="330.1" cy="76.0" r="1.16" fill="url(#spk)" opacity="0.55"/>
<circle cx="387.5" cy="52.9" r="1.58" fill="url(#spk)" opacity="0.73"/>
<circle cx="291.5" cy="47.3" r="1.22" fill="url(#spk)" opacity="0.66"/>
<circle cx="332.1" cy="50.8" r="1.38" fill="url(#spk)" opacity="0.58"/>
<circle cx="342.2" cy="18.6" r="1.69" fill="url(#spk)" opacity="0.52"/>
<circle cx="390.7" cy="86.2" r="1.36" fill="url(#spk)" opacity="0.29"/>
<circle cx="312.0" cy="61.0" r="1.23" fill="url(#spk)" opacity="0.70"/>
<circle cx="374.4" cy="48.1" r="1.24" fill="url(#spk)" opacity="0.31"/>
<circle cx="359.8" cy="61.5" r="1.06" fill="url(#spk)" opacity="0.34"/>
<circle cx="364.4" cy="76.0" r="1.18" fill="url(#spk)" opacity="0.61"/>
<circle cx="354.6" cy="47.6" r="1.22" fill="url(#spk)" opacity="0.66"/>
<circle cx="393.0" cy="85.1" r="1.14" fill="url(#spk)" opacity="0.65"/>
<circle cx="321.2" cy="92.5" r="1.05" fill="url(#spk)" opacity="0.49"/>
<circle cx="328.6" cy="48.1" r="1.37" fill="url(#spk)" opacity="0.36"/>
<circle cx="306.6" cy="27.3" r="1.17" fill="url(#spk)" opacity="0.30"/>
<circle cx="289.5" cy="79.2" r="1.59" fill="url(#spk)" opacity="0.68"/>
<circle cx="284.0" cy="62.8" r="1.74" fill="url(#spk)" opacity="0.74"/>
<circle cx="290.8" cy="88.6" r="1.22" fill="url(#spk)" opacity="0.39"/>
<circle cx="287.7" cy="79.3" r="1.46" fill="url(#spk)" opacity="0.69"/>
<circle cx="296.4" cy="45.0" r="1.41" fill="url(#spk)" opacity="0.47"/>
<circle cx="288.1" cy="46.6" r="1.06" fill="url(#spk)" opacity="0.43"/>
<circle cx="294.9" cy="52.9" r="1.10" fill="url(#spk)" opacity="0.52"/>
<circle cx="299.6" cy="67.3" r="1.71" fill="url(#spk)" opacity="0.28"/>
<circle cx="290.4" cy="58.3" r="1.38" fill="url(#spk)" opacity="0.49"/>
<circle cx="289.0" cy="65.9" r="1.64" fill="url(#spk)" opacity="0.37"/>
<circle cx="293.0" cy="67.3" r="1.05" fill="url(#spk)" opacity="0.61"/>
<circle cx="292.0" cy="56.6" r="1.48" fill="url(#spk)" opacity="0.52"/>
<circle cx="287.0" cy="61.3" r="1.69" fill="url(#spk)" opacity="0.69"/>
<circle cx="294.3" cy="65.7" r="1.69" fill="url(#spk)" opacity="0.70"/>
<circle cx="302.1" cy="60.5" r="1.00" fill="url(#spk)" opacity="0.43"/>
<circle cx="290.7" cy="71.1" r="1.42" fill="url(#spk)" opacity="0.41"/>
<circle cx="291.0" cy="95.7" r="1.30" fill="url(#spk)" opacity="0.72"/>
<circle cx="286.8" cy="72.7" r="1.61" fill="url(#spk)" opacity="0.52"/>
<circle cx="293.6" cy="63.0" r="1.06" fill="url(#spk)" opacity="0.33"/>
<circle cx="285.8" cy="31.6" r="1.21" fill="url(#spk)" opacity="0.30"/>
<circle cx="286.5" cy="69.0" r="1.65" fill="url(#spk)" opacity="0.75"/>
<circle cx="298.4" cy="27.0" r="1.38" fill="url(#spk)" opacity="0.55"/>
<circle cx="287.5" cy="36.6" r="1.36" fill="url(#spk)" opacity="0.31"/>
<circle cx="297.4" cy="77.4" r="1.77" fill="url(#spk)" opacity="0.52"/>
<circle cx="299.6" cy="74.7" r="1.26" fill="url(#spk)" opacity="0.52"/>
<circle cx="293.3" cy="59.3" r="1.03" fill="url(#spk)" opacity="0.48"/>
<circle cx="294.8" cy="31.2" r="1.31" fill="url(#spk)" opacity="0.73"/>
<circle cx="301.8" cy="55.3" r="1.12" fill="url(#spk)" opacity="0.73"/>
<circle cx="291.0" cy="49.8" r="1.07" fill="url(#spk)" opacity="0.34"/>
<circle cx="289.0" cy="73.5" r="1.45" fill="url(#spk)" opacity="0.35"/>
<circle cx="285.2" cy="99.0" r="1.76" fill="url(#spk)" opacity="0.47"/>
<circle cx="310.1" cy="84.9" r="1.46" fill="url(#spk)" opacity="0.67"/>
<circle cx="305.1" cy="88.0" r="1.52" fill="url(#spk)" opacity="0.57"/>
<circle cx="303.1" cy="77.1" r="1.26" fill="url(#spk)" opacity="0.62"/>
<circle cx="308.7" cy="80.9" r="1.46" fill="url(#spk)" opacity="0.55"/>
<circle cx="308.1" cy="84.7" r="1.60" fill="url(#spk)" opacity="0.38"/>
<circle cx="303.2" cy="85.6" r="1.47" fill="url(#spk)" opacity="0.66"/>
<circle cx="309.6" cy="82.5" r="1.64" fill="url(#spk)" opacity="0.29"/>
<circle cx="303.2" cy="88.1" r="1.44" fill="url(#spk)" opacity="0.61"/>
<circle cx="314.6" cy="84.8" r="1.16" fill="url(#spk)" opacity="0.37"/>
<circle cx="314.3" cy="79.1" r="1.47" fill="url(#spk)" opacity="0.50"/>
<circle cx="314.4" cy="80.3" r="1.39" fill="url(#spk)" opacity="0.74"/>
<circle cx="306.6" cy="87.2" r="1.13" fill="url(#spk)" opacity="0.53"/>
<circle cx="311.6" cy="85.9" r="1.50" fill="url(#spk)" opacity="0.31"/>
<circle cx="308.3" cy="76.4" r="1.65" fill="url(#spk)" opacity="0.48"/>
<circle cx="307.1" cy="89.4" r="1.11" fill="url(#spk)" opacity="0.59"/>
<circle cx="307.3" cy="86.4" r="1.44" fill="url(#spk)" opacity="0.31"/>
<circle cx="302.5" cy="89.4" r="1.59" fill="url(#spk)" opacity="0.40"/>
<circle cx="301.8" cy="82.5" r="1.32" fill="url(#spk)" opacity="0.29"/>
<circle cx="313.0" cy="82.8" r="1.22" fill="url(#spk)" opacity="0.53"/>
<circle cx="308.0" cy="79.5" r="1.30" fill="url(#spk)" opacity="0.46"/>
<circle cx="396.0" cy="83.1" r="1.43" fill="url(#spk)" opacity="0.52"/>
<circle cx="384.8" cy="42.1" r="1.55" fill="url(#spk)" opacity="0.42"/>
<circle cx="396.0" cy="61.1" r="1.45" fill="url(#spk)" opacity="0.59"/>
<circle cx="381.5" cy="24.1" r="1.09" fill="url(#spk)" opacity="0.36"/>
<circle cx="387.1" cy="76.3" r="1.65" fill="url(#spk)" opacity="0.71"/>
<circle cx="374.3" cy="38.2" r="1.74" fill="url(#spk)" opacity="0.73"/>
<circle cx="383.3" cy="22.3" r="1.08" fill="url(#spk)" opacity="0.51"/>
<circle cx="392.9" cy="60.7" r="1.20" fill="url(#spk)" opacity="0.50"/>
<circle cx="377.2" cy="86.3" r="1.14" fill="url(#spk)" opacity="0.68"/>
<circle cx="393.5" cy="28.5" r="1.68" fill="url(#spk)" opacity="0.42"/>
<circle cx="388.4" cy="38.1" r="1.73" fill="url(#spk)" opacity="0.66"/>
<circle cx="378.7" cy="45.6" r="1.04" fill="url(#spk)" opacity="0.42"/>
<circle cx="382.5" cy="37.2" r="1.27" fill="url(#spk)" opacity="0.62"/>
<circle cx="382.8" cy="70.3" r="1.15" fill="url(#spk)" opacity="0.44"/>
<circle cx="385.7" cy="44.2" r="1.38" fill="url(#spk)" opacity="0.56"/>
<circle cx="382.2" cy="46.1" r="1.74" fill="url(#spk)" opacity="0.72"/>
<circle cx="380.2" cy="74.8" r="1.06" fill="url(#spk)" opacity="0.31"/>
<circle cx="383.9" cy="45.4" r="1.14" fill="url(#spk)" opacity="0.66"/>
<circle cx="378.8" cy="71.5" r="1.39" fill="url(#spk)" opacity="0.53"/>
<circle cx="377.0" cy="40.6" r="1.42" fill="url(#spk)" opacity="0.46"/>
<circle cx="385.7" cy="35.3" r="1.60" fill="url(#spk)" opacity="0.44"/>
<circle cx="392.2" cy="21.6" r="1.35" fill="url(#spk)" opacity="0.31"/>
<circle cx="375.3" cy="99.0" r="1.11" fill="url(#spk)" opacity="0.40"/>
<circle cx="386.0" cy="55.0" r="1.28" fill="url(#spk)" opacity="0.57"/>
<circle cx="381.5" cy="67.4" r="1.79" fill="url(#spk)" opacity="0.33"/>
<circle cx="379.2" cy="61.3" r="1.60" fill="url(#spk)" opacity="0.59"/>
<circle cx="392.0" cy="65.5" r="1.09" fill="url(#spk)" opacity="0.73"/>
<circle cx="382.4" cy="63.1" r="1.65" fill="url(#spk)" opacity="0.74"/>
<circle cx="396.0" cy="99.0" r="1.25" fill="url(#spk)" opacity="0.70"/>
<circle cx="380.5" cy="39.1" r="1.63" fill="url(#spk)" opacity="0.66"/>
<circle cx="388.7" cy="27.7" r="1.01" fill="url(#spk)" opacity="0.36"/>
<circle cx="384.4" cy="39.7" r="1.70" fill="url(#spk)" opacity="0.74"/>
<circle cx="380.7" cy="32.6" r="1.13" fill="url(#spk)" opacity="0.38"/>
<circle cx="390.1" cy="78.4" r="1.36" fill="url(#spk)" opacity="0.69"/>
<circle cx="384.9" cy="80.0" r="1.53" fill="url(#spk)" opacity="0.69"/>
<circle cx="390.2" cy="40.9" r="1.41" fill="url(#spk)" opacity="0.57"/>
<circle cx="385.7" cy="31.4" r="1.13" fill="url(#spk)" opacity="0.53"/>
<circle cx="378.4" cy="54.2" r="1.11" fill="url(#spk)" opacity="0.37"/>
<circle cx="385.3" cy="92.6" r="1.23" fill="url(#spk)" opacity="0.52"/>
<circle cx="386.4" cy="16.0" r="1.04" fill="url(#spk)" opacity="0.42"/>
<circle cx="298.8" cy="41.4" r="1.25" fill="rgb(30,30,30)" stroke="rgb(148,148,148)" stroke-width="0.55"/>
<circle cx="299.1" cy="94.7" r="1.25" fill="rgb(30,30,30)" stroke="rgb(115,115,115)" stroke-width="0.55"/>
<circle cx="373.1" cy="18.2" r="1.25" fill="rgb(30,30,30)" stroke="rgb(174,174,174)" stroke-width="0.55"/>
<circle cx="386.5" cy="30.1" r="1.25" fill="rgb(30,30,30)" stroke="rgb(157,157,157)" stroke-width="0.55"/>
<circle cx="300.6" cy="34.3" r="1.25" fill="rgb(30,30,30)" stroke="rgb(151,151,151)" stroke-width="0.55"/>
<circle cx="286.5" cy="24.0" r="1.25" fill="rgb(30,30,30)" stroke="rgb(164,164,164)" stroke-width="0.55"/>
<circle cx="314.0" cy="55.2" r="1.25" fill="rgb(30,30,30)" stroke="rgb(189,189,189)" stroke-width="0.55"/>
<circle cx="299.8" cy="65.0" r="1.25" fill="rgb(30,30,30)" stroke="rgb(146,146,146)" stroke-width="0.55"/>
<circle cx="305.7" cy="42.8" r="1.25" fill="rgb(30,30,30)" stroke="rgb(134,134,134)" stroke-width="0.55"/>
<circle cx="349.2" cy="25.8" r="1.25" fill="rgb(30,30,30)" stroke="rgb(178,178,178)" stroke-width="0.55"/>
<circle cx="331.5" cy="82.7" r="1.25" fill="rgb(30,30,30)" stroke="rgb(158,158,158)" stroke-width="0.55"/>
<circle cx="332.2" cy="82.2" r="1.25" fill="rgb(30,30,30)" stroke="rgb(142,142,142)" stroke-width="0.55"/>
<circle cx="307.6" cy="62.5" r="1.25" fill="rgb(30,30,30)" stroke="rgb(116,116,116)" stroke-width="0.55"/>
<circle cx="358.1" cy="28.2" r="1.25" fill="rgb(30,30,30)" stroke="rgb(141,141,141)" stroke-width="0.55"/>
<circle cx="316.8" cy="60.9" r="1.25" fill="rgb(30,30,30)" stroke="rgb(184,184,184)" stroke-width="0.55"/>
<circle cx="328.9" cy="68.0" r="1.25" fill="rgb(30,30,30)" stroke="rgb(125,125,125)" stroke-width="0.55"/>
<circle cx="336.0" cy="51.7" r="1.25" fill="rgb(30,30,30)" stroke="rgb(186,186,186)" stroke-width="0.55"/>
<circle cx="384.5" cy="87.0" r="1.25" fill="rgb(30,30,30)" stroke="rgb(182,182,182)" stroke-width="0.55"/>
<circle cx="312.1" cy="48.6" r="1.25" fill="rgb(30,30,30)" stroke="rgb(176,176,176)" stroke-width="0.55"/>
<circle cx="364.1" cy="58.4" r="1.25" fill="rgb(30,30,30)" stroke="rgb(128,128,128)" stroke-width="0.55"/>
<circle cx="319.0" cy="26.2" r="1.25" fill="rgb(30,30,30)" stroke="rgb(171,171,171)" stroke-width="0.55"/>
<circle cx="383.4" cy="62.6" r="1.25" fill="rgb(30,30,30)" stroke="rgb(162,162,162)" stroke-width="0.55"/>
<circle cx="328.3" cy="79.1" r="1.25" fill="rgb(30,30,30)" stroke="rgb(180,180,180)" stroke-width="0.55"/>
<circle cx="340.6" cy="76.2" r="1.25" fill="rgb(30,30,30)" stroke="rgb(136,136,136)" stroke-width="0.55"/>
<circle cx="381.5" cy="37.8" r="1.25" fill="rgb(30,30,30)" stroke="rgb(155,155,155)" stroke-width="0.55"/>
<circle cx="359.0" cy="97.3" r="1.25" fill="rgb(30,30,30)" stroke="rgb(184,184,184)" stroke-width="0.55"/>
<circle cx="295.4" cy="75.3" r="1.25" fill="rgb(30,30,30)" stroke="rgb(182,182,182)" stroke-width="0.55"/>
<circle cx="300.1" cy="51.3" r="1.25" fill="rgb(30,30,30)" stroke="rgb(185,185,185)" stroke-width="0.55"/>
<circle cx="394.0" cy="50.6" r="1.25" fill="rgb(30,30,30)" stroke="rgb(109,109,109)" stroke-width="0.55"/>
<circle cx="288.2" cy="80.1" r="1.25" fill="rgb(30,30,30)" stroke="rgb(102,102,102)" stroke-width="0.55"/>
<polygon points="377.95,31.10 381.71,31.10 381.71,30.46 384.95,32.26 381.71,34.06 381.71,33.41 377.95,33.41" fill="#25b5ec"/>
<polygon points="291.67,43.72 295.43,43.72 295.43,43.07 298.67,44.87 295.43,46.67 295.43,46.02 291.67,46.02" fill="#25b5ec"/>
<polygon points="349.19,73.14 352.95,73.14 352.95,72.49 356.19,74.29 352.95,76.09 352.95,75.44 349.19,75.44" fill="#25b5ec"/>
<polygon points="381.27,84.20 385.03,84.20 385.03,83.55 388.27,85.35 385.03,87.15 385.03,86.51 381.27,86.51" fill="#25b5ec"/>
<polygon points="289.46,90.18 293.22,90.18 293.22,89.53 296.46,91.33 293.22,93.13 293.22,92.48 289.46,92.48" fill="#25b5ec"/>
<text x="286.00" y="25.00" font-size="9.2" text-anchor="start" fill="#fff" font-weight="normal" >HC</text>
<rect x="284.50" y="96.80" width="13.00" height="1.90" fill="#fff"/>
<rect x="400.00" y="15.00" width="114.00" height="85.00" fill="#000"/>
<circle cx="512.6" cy="42.7" r="1.54" fill="url(#spk)" opacity="0.49"/>
<circle cx="468.8" cy="56.5" r="1.22" fill="url(#spk)" opacity="0.62"/>
<circle cx="409.1" cy="60.0" r="1.30" fill="url(#spk)" opacity="0.65"/>
<circle cx="456.7" cy="73.7" r="1.00" fill="url(#spk)" opacity="0.29"/>
<circle cx="406.4" cy="69.0" r="1.67" fill="url(#spk)" opacity="0.72"/>
<circle cx="462.5" cy="72.4" r="1.22" fill="url(#spk)" opacity="0.40"/>
<circle cx="421.6" cy="47.8" r="1.06" fill="url(#spk)" opacity="0.42"/>
<circle cx="442.2" cy="72.3" r="1.25" fill="url(#spk)" opacity="0.67"/>
<circle cx="435.0" cy="44.6" r="1.26" fill="url(#spk)" opacity="0.70"/>
<circle cx="468.5" cy="66.5" r="1.58" fill="url(#spk)" opacity="0.63"/>
<circle cx="493.2" cy="54.1" r="1.00" fill="url(#spk)" opacity="0.44"/>
<circle cx="506.1" cy="62.7" r="1.18" fill="url(#spk)" opacity="0.50"/>
<circle cx="437.8" cy="17.3" r="1.72" fill="url(#spk)" opacity="0.67"/>
<circle cx="464.8" cy="57.4" r="1.68" fill="url(#spk)" opacity="0.45"/>
<circle cx="401.5" cy="34.1" r="1.50" fill="url(#spk)" opacity="0.66"/>
<circle cx="442.6" cy="48.0" r="1.45" fill="url(#spk)" opacity="0.65"/>
<circle cx="508.8" cy="22.0" r="1.18" fill="url(#spk)" opacity="0.50"/>
<circle cx="414.2" cy="70.6" r="1.70" fill="url(#spk)" opacity="0.70"/>
<circle cx="498.6" cy="90.3" r="1.61" fill="url(#spk)" opacity="0.46"/>
<circle cx="474.1" cy="45.4" r="1.41" fill="url(#spk)" opacity="0.63"/>
<circle cx="433.8" cy="24.6" r="1.13" fill="url(#spk)" opacity="0.58"/>
<circle cx="488.3" cy="67.5" r="1.17" fill="url(#spk)" opacity="0.44"/>
<circle cx="433.3" cy="26.4" r="1.30" fill="url(#spk)" opacity="0.53"/>
<circle cx="501.4" cy="90.2" r="1.26" fill="url(#spk)" opacity="0.56"/>
<circle cx="410.1" cy="26.0" r="1.05" fill="url(#spk)" opacity="0.53"/>
<circle cx="414.2" cy="46.0" r="1.33" fill="url(#spk)" opacity="0.33"/>
<circle cx="485.1" cy="57.1" r="1.36" fill="url(#spk)" opacity="0.75"/>
<circle cx="451.3" cy="25.6" r="1.23" fill="url(#spk)" opacity="0.73"/>
<circle cx="417.4" cy="42.4" r="1.31" fill="url(#spk)" opacity="0.30"/>
<circle cx="458.5" cy="38.8" r="1.27" fill="url(#spk)" opacity="0.72"/>
<circle cx="434.2" cy="75.3" r="1.30" fill="url(#spk)" opacity="0.53"/>
<circle cx="462.5" cy="98.1" r="1.50" fill="url(#spk)" opacity="0.34"/>
<circle cx="484.4" cy="46.1" r="1.40" fill="url(#spk)" opacity="0.67"/>
<circle cx="497.1" cy="81.7" r="1.16" fill="url(#spk)" opacity="0.48"/>
<circle cx="407.4" cy="27.5" r="1.64" fill="url(#spk)" opacity="0.62"/>
<circle cx="467.4" cy="64.2" r="1.41" fill="url(#spk)" opacity="0.67"/>
<circle cx="511.4" cy="51.9" r="1.37" fill="url(#spk)" opacity="0.53"/>
<circle cx="452.5" cy="39.8" r="1.57" fill="url(#spk)" opacity="0.30"/>
<circle cx="487.3" cy="84.3" r="1.60" fill="url(#spk)" opacity="0.67"/>
<circle cx="411.7" cy="78.1" r="1.68" fill="url(#spk)" opacity="0.61"/>
<circle cx="499.0" cy="27.0" r="1.65" fill="url(#spk)" opacity="0.71"/>
<circle cx="466.2" cy="40.2" r="1.54" fill="url(#spk)" opacity="0.41"/>
<circle cx="500.6" cy="84.1" r="1.58" fill="url(#spk)" opacity="0.65"/>
<circle cx="489.3" cy="98.6" r="1.13" fill="url(#spk)" opacity="0.69"/>
<circle cx="498.5" cy="66.8" r="1.56" fill="url(#spk)" opacity="0.45"/>
<circle cx="407.2" cy="88.5" r="1.20" fill="url(#spk)" opacity="0.47"/>
<circle cx="481.2" cy="97.9" r="1.21" fill="url(#spk)" opacity="0.44"/>
<circle cx="422.9" cy="77.6" r="1.10" fill="url(#spk)" opacity="0.28"/>
<circle cx="430.7" cy="69.6" r="1.32" fill="url(#spk)" opacity="0.39"/>
<circle cx="437.3" cy="34.3" r="1.02" fill="url(#spk)" opacity="0.44"/>
<circle cx="467.3" cy="46.7" r="1.53" fill="url(#spk)" opacity="0.33"/>
<circle cx="471.4" cy="67.8" r="1.60" fill="url(#spk)" opacity="0.64"/>
<circle cx="505.5" cy="93.1" r="1.62" fill="url(#spk)" opacity="0.48"/>
<circle cx="402.2" cy="41.0" r="1.10" fill="url(#spk)" opacity="0.55"/>
<circle cx="422.5" cy="48.8" r="1.51" fill="url(#spk)" opacity="0.41"/>
<circle cx="441.5" cy="17.7" r="1.67" fill="url(#spk)" opacity="0.45"/>
<circle cx="492.7" cy="73.9" r="1.03" fill="url(#spk)" opacity="0.63"/>
<circle cx="462.6" cy="52.8" r="1.15" fill="url(#spk)" opacity="0.50"/>
<circle cx="458.3" cy="82.3" r="1.21" fill="url(#spk)" opacity="0.56"/>
<circle cx="486.2" cy="35.3" r="1.37" fill="url(#spk)" opacity="0.48"/>
<circle cx="474.4" cy="70.8" r="1.14" fill="url(#spk)" opacity="0.54"/>
<circle cx="433.4" cy="71.9" r="1.43" fill="url(#spk)" opacity="0.70"/>
<circle cx="410.6" cy="54.5" r="1.28" fill="url(#spk)" opacity="0.41"/>
<circle cx="452.8" cy="31.5" r="1.52" fill="url(#spk)" opacity="0.52"/>
<circle cx="499.7" cy="49.4" r="1.43" fill="url(#spk)" opacity="0.60"/>
<circle cx="468.0" cy="77.9" r="1.55" fill="url(#spk)" opacity="0.32"/>
<circle cx="406.8" cy="31.6" r="1.20" fill="url(#spk)" opacity="0.73"/>
<circle cx="450.3" cy="23.3" r="1.57" fill="url(#spk)" opacity="0.51"/>
<circle cx="444.0" cy="54.4" r="1.59" fill="url(#spk)" opacity="0.40"/>
<circle cx="466.3" cy="35.4" r="1.58" fill="url(#spk)" opacity="0.64"/>
<circle cx="466.8" cy="82.6" r="1.05" fill="url(#spk)" opacity="0.66"/>
<circle cx="507.7" cy="84.0" r="1.76" fill="url(#spk)" opacity="0.58"/>
<circle cx="438.8" cy="94.6" r="1.46" fill="url(#spk)" opacity="0.71"/>
<circle cx="446.7" cy="85.8" r="1.22" fill="url(#spk)" opacity="0.32"/>
<circle cx="469.8" cy="69.8" r="1.35" fill="url(#spk)" opacity="0.53"/>
<circle cx="500.4" cy="31.4" r="1.41" fill="url(#spk)" opacity="0.63"/>
<circle cx="480.2" cy="84.4" r="1.41" fill="url(#spk)" opacity="0.71"/>
<circle cx="453.7" cy="76.5" r="1.20" fill="url(#spk)" opacity="0.58"/>
<circle cx="492.4" cy="78.1" r="1.21" fill="url(#spk)" opacity="0.56"/>
<circle cx="455.3" cy="74.0" r="1.29" fill="url(#spk)" opacity="0.46"/>
<circle cx="509.1" cy="85.0" r="1.62" fill="url(#spk)" opacity="0.55"/>
<circle cx="432.6" cy="40.6" r="1.35" fill="url(#spk)" opacity="0.54"/>
<circle cx="415.1" cy="71.9" r="1.03" fill="url(#spk)" opacity="0.71"/>
<circle cx="494.1" cy="58.9" r="1.36" fill="url(#spk)" opacity="0.67"/>
<circle cx="434.2" cy="44.0" r="1.16" fill="url(#spk)" opacity="0.63"/>
<circle cx="496.0" cy="43.1" r="1.01" fill="url(#spk)" opacity="0.71"/>
<circle cx="469.3" cy="28.8" r="1.78" fill="url(#spk)" opacity="0.31"/>
<circle cx="458.0" cy="56.8" r="1.23" fill="url(#spk)" opacity="0.64"/>
<circle cx="410.6" cy="46.6" r="1.43" fill="url(#spk)" opacity="0.50"/>
<circle cx="489.2" cy="51.0" r="1.29" fill="url(#spk)" opacity="0.63"/>
<circle cx="408.2" cy="86.8" r="1.04" fill="url(#spk)" opacity="0.42"/>
<circle cx="509.3" cy="72.6" r="1.72" fill="url(#spk)" opacity="0.50"/>
<circle cx="499.4" cy="72.5" r="1.75" fill="url(#spk)" opacity="0.67"/>
<circle cx="434.9" cy="97.9" r="1.15" fill="url(#spk)" opacity="0.30"/>
<circle cx="415.2" cy="34.0" r="1.33" fill="url(#spk)" opacity="0.42"/>
<circle cx="500.3" cy="58.2" r="1.30" fill="url(#spk)" opacity="0.51"/>
<circle cx="454.7" cy="23.5" r="1.13" fill="url(#spk)" opacity="0.68"/>
<circle cx="414.8" cy="48.6" r="1.53" fill="url(#spk)" opacity="0.41"/>
<circle cx="456.8" cy="95.1" r="1.63" fill="url(#spk)" opacity="0.67"/>
<circle cx="428.5" cy="23.0" r="1.61" fill="url(#spk)" opacity="0.39"/>
<circle cx="446.6" cy="79.0" r="1.54" fill="url(#spk)" opacity="0.42"/>
<circle cx="472.8" cy="88.0" r="1.01" fill="url(#spk)" opacity="0.54"/>
<circle cx="503.7" cy="58.2" r="1.18" fill="url(#spk)" opacity="0.59"/>
<circle cx="490.8" cy="82.3" r="1.41" fill="url(#spk)" opacity="0.69"/>
<circle cx="418.9" cy="52.6" r="1.56" fill="url(#spk)" opacity="0.69"/>
<circle cx="454.5" cy="45.3" r="1.31" fill="url(#spk)" opacity="0.40"/>
<circle cx="456.1" cy="58.0" r="1.36" fill="url(#spk)" opacity="0.63"/>
<circle cx="512.0" cy="32.0" r="1.67" fill="url(#spk)" opacity="0.58"/>
<circle cx="410.6" cy="41.4" r="1.02" fill="url(#spk)" opacity="0.46"/>
<circle cx="458.2" cy="41.3" r="1.21" fill="url(#spk)" opacity="0.64"/>
<circle cx="503.6" cy="98.2" r="1.23" fill="url(#spk)" opacity="0.70"/>
<circle cx="445.6" cy="43.8" r="1.79" fill="url(#spk)" opacity="0.51"/>
<circle cx="430.2" cy="34.9" r="1.18" fill="url(#spk)" opacity="0.71"/>
<circle cx="463.3" cy="94.2" r="1.04" fill="url(#spk)" opacity="0.34"/>
<circle cx="436.8" cy="27.4" r="1.33" fill="url(#spk)" opacity="0.36"/>
<circle cx="505.0" cy="96.3" r="1.52" fill="url(#spk)" opacity="0.64"/>
<circle cx="410.3" cy="87.0" r="1.12" fill="url(#spk)" opacity="0.42"/>
<circle cx="424.0" cy="69.8" r="1.67" fill="url(#spk)" opacity="0.56"/>
<circle cx="410.2" cy="51.5" r="1.16" fill="url(#spk)" opacity="0.51"/>
<circle cx="480.8" cy="32.2" r="1.56" fill="url(#spk)" opacity="0.35"/>
<circle cx="433.7" cy="24.7" r="1.13" fill="url(#spk)" opacity="0.63"/>
<circle cx="502.0" cy="24.4" r="1.71" fill="url(#spk)" opacity="0.63"/>
<circle cx="501.2" cy="44.9" r="1.16" fill="url(#spk)" opacity="0.35"/>
<circle cx="506.0" cy="49.8" r="1.59" fill="url(#spk)" opacity="0.40"/>
<circle cx="429.6" cy="92.8" r="1.67" fill="url(#spk)" opacity="0.66"/>
<circle cx="400.9" cy="60.5" r="1.20" fill="url(#spk)" opacity="0.71"/>
<circle cx="444.4" cy="98.4" r="1.07" fill="url(#spk)" opacity="0.69"/>
<circle cx="509.0" cy="75.9" r="1.47" fill="url(#spk)" opacity="0.52"/>
<circle cx="486.6" cy="28.0" r="1.40" fill="url(#spk)" opacity="0.45"/>
<circle cx="407.5" cy="62.0" r="1.38" fill="url(#spk)" opacity="0.49"/>
<circle cx="479.8" cy="29.1" r="1.63" fill="url(#spk)" opacity="0.36"/>
<circle cx="503.9" cy="19.1" r="1.37" fill="url(#spk)" opacity="0.51"/>
<circle cx="509.6" cy="94.5" r="1.40" fill="url(#spk)" opacity="0.39"/>
<circle cx="481.3" cy="44.0" r="1.39" fill="url(#spk)" opacity="0.36"/>
<circle cx="497.8" cy="31.6" r="1.36" fill="url(#spk)" opacity="0.46"/>
<circle cx="495.4" cy="24.3" r="1.32" fill="url(#spk)" opacity="0.31"/>
<circle cx="441.1" cy="70.2" r="1.13" fill="url(#spk)" opacity="0.50"/>
<circle cx="411.9" cy="54.3" r="1.24" fill="url(#spk)" opacity="0.61"/>
<circle cx="482.6" cy="16.8" r="1.21" fill="url(#spk)" opacity="0.59"/>
<circle cx="416.2" cy="75.4" r="1.20" fill="url(#spk)" opacity="0.74"/>
<circle cx="444.0" cy="37.2" r="1.63" fill="url(#spk)" opacity="0.70"/>
<circle cx="512.7" cy="80.9" r="1.09" fill="url(#spk)" opacity="0.58"/>
<circle cx="463.7" cy="56.5" r="1.16" fill="url(#spk)" opacity="0.70"/>
<circle cx="459.4" cy="60.5" r="1.42" fill="url(#spk)" opacity="0.49"/>
<circle cx="507.3" cy="53.9" r="1.25" fill="url(#spk)" opacity="0.66"/>
<circle cx="432.7" cy="72.2" r="1.19" fill="url(#spk)" opacity="0.41"/>
<circle cx="513.1" cy="98.4" r="1.30" fill="url(#spk)" opacity="0.53"/>
<circle cx="503.3" cy="82.3" r="1.40" fill="url(#spk)" opacity="0.74"/>
<circle cx="441.7" cy="21.6" r="1.54" fill="url(#spk)" opacity="0.56"/>
<circle cx="437.6" cy="57.1" r="1.78" fill="url(#spk)" opacity="0.52"/>
<circle cx="415.0" cy="35.3" r="1.68" fill="url(#spk)" opacity="0.65"/>
<circle cx="503.7" cy="24.3" r="1.34" fill="url(#spk)" opacity="0.43"/>
<circle cx="421.7" cy="32.1" r="1.36" fill="url(#spk)" opacity="0.67"/>
<circle cx="401.8" cy="36.5" r="1.33" fill="url(#spk)" opacity="0.29"/>
<circle cx="500.8" cy="95.8" r="1.19" fill="url(#spk)" opacity="0.39"/>
<circle cx="468.0" cy="77.9" r="1.76" fill="url(#spk)" opacity="0.36"/>
<circle cx="476.3" cy="86.9" r="1.05" fill="url(#spk)" opacity="0.40"/>
<circle cx="483.2" cy="74.1" r="1.16" fill="url(#spk)" opacity="0.72"/>
<circle cx="405.6" cy="42.1" r="1.53" fill="url(#spk)" opacity="0.29"/>
<circle cx="411.1" cy="48.4" r="1.47" fill="url(#spk)" opacity="0.42"/>
<circle cx="457.0" cy="52.6" r="1.22" fill="url(#spk)" opacity="0.55"/>
<circle cx="406.4" cy="40.3" r="1.75" fill="url(#spk)" opacity="0.61"/>
<circle cx="457.5" cy="50.9" r="1.33" fill="url(#spk)" opacity="0.64"/>
<circle cx="483.6" cy="80.1" r="1.48" fill="url(#spk)" opacity="0.46"/>
<circle cx="474.7" cy="22.1" r="1.07" fill="url(#spk)" opacity="0.38"/>
<circle cx="470.1" cy="38.9" r="1.71" fill="url(#spk)" opacity="0.68"/>
<circle cx="406.0" cy="55.8" r="1.08" fill="url(#spk)" opacity="0.34"/>
<circle cx="427.4" cy="72.2" r="1.32" fill="url(#spk)" opacity="0.31"/>
<circle cx="501.7" cy="69.7" r="1.71" fill="url(#spk)" opacity="0.39"/>
<circle cx="414.6" cy="76.3" r="1.76" fill="url(#spk)" opacity="0.51"/>
<circle cx="460.7" cy="24.6" r="1.72" fill="url(#spk)" opacity="0.72"/>
<circle cx="406.4" cy="30.9" r="1.66" fill="url(#spk)" opacity="0.62"/>
<circle cx="506.4" cy="41.6" r="1.19" fill="url(#spk)" opacity="0.55"/>
<circle cx="420.1" cy="39.3" r="1.03" fill="url(#spk)" opacity="0.52"/>
<circle cx="446.9" cy="78.8" r="1.36" fill="url(#spk)" opacity="0.61"/>
<circle cx="462.3" cy="98.6" r="1.05" fill="url(#spk)" opacity="0.57"/>
<circle cx="481.6" cy="72.8" r="1.77" fill="url(#spk)" opacity="0.44"/>
<circle cx="506.2" cy="18.6" r="1.01" fill="url(#spk)" opacity="0.32"/>
<circle cx="483.6" cy="40.6" r="1.26" fill="url(#spk)" opacity="0.37"/>
<circle cx="439.8" cy="82.8" r="1.16" fill="url(#spk)" opacity="0.65"/>
<circle cx="409.3" cy="92.9" r="1.01" fill="url(#spk)" opacity="0.58"/>
<circle cx="480.3" cy="65.4" r="1.40" fill="url(#spk)" opacity="0.65"/>
<circle cx="510.1" cy="44.9" r="1.06" fill="url(#spk)" opacity="0.30"/>
<circle cx="402.7" cy="45.4" r="1.72" fill="url(#spk)" opacity="0.70"/>
<circle cx="487.9" cy="68.6" r="1.55" fill="url(#spk)" opacity="0.46"/>
<circle cx="420.6" cy="87.9" r="1.30" fill="url(#spk)" opacity="0.72"/>
<circle cx="452.5" cy="44.2" r="1.67" fill="url(#spk)" opacity="0.56"/>
<circle cx="459.5" cy="31.7" r="1.64" fill="url(#spk)" opacity="0.54"/>
<circle cx="469.9" cy="16.0" r="1.26" fill="url(#spk)" opacity="0.66"/>
<circle cx="512.0" cy="27.3" r="1.68" fill="url(#spk)" opacity="0.57"/>
<circle cx="478.1" cy="86.8" r="1.74" fill="url(#spk)" opacity="0.60"/>
<circle cx="444.9" cy="67.9" r="1.50" fill="url(#spk)" opacity="0.35"/>
<circle cx="481.2" cy="98.4" r="1.28" fill="url(#spk)" opacity="0.56"/>
<circle cx="453.3" cy="21.6" r="1.72" fill="url(#spk)" opacity="0.45"/>
<circle cx="447.2" cy="46.3" r="1.75" fill="url(#spk)" opacity="0.32"/>
<circle cx="441.9" cy="82.2" r="1.28" fill="url(#spk)" opacity="0.34"/>
<circle cx="456.3" cy="70.9" r="1.07" fill="url(#spk)" opacity="0.51"/>
<circle cx="432.4" cy="21.4" r="1.69" fill="url(#spk)" opacity="0.40"/>
<circle cx="428.0" cy="49.3" r="1.53" fill="url(#spk)" opacity="0.64"/>
<circle cx="417.5" cy="69.0" r="1.19" fill="url(#spk)" opacity="0.34"/>
<circle cx="450.3" cy="73.2" r="1.45" fill="url(#spk)" opacity="0.29"/>
<circle cx="433.8" cy="53.5" r="1.25" fill="url(#spk)" opacity="0.75"/>
<circle cx="494.9" cy="31.5" r="1.74" fill="url(#spk)" opacity="0.43"/>
<circle cx="496.1" cy="96.4" r="1.27" fill="url(#spk)" opacity="0.52"/>
<circle cx="439.5" cy="54.7" r="1.16" fill="url(#spk)" opacity="0.38"/>
<circle cx="470.4" cy="75.6" r="1.03" fill="url(#spk)" opacity="0.38"/>
<circle cx="502.2" cy="60.4" r="1.27" fill="url(#spk)" opacity="0.47"/>
<circle cx="441.2" cy="22.5" r="1.79" fill="url(#spk)" opacity="0.65"/>
<circle cx="463.2" cy="35.5" r="1.17" fill="url(#spk)" opacity="0.30"/>
<circle cx="450.7" cy="21.1" r="1.37" fill="url(#spk)" opacity="0.67"/>
<circle cx="473.9" cy="31.7" r="1.78" fill="url(#spk)" opacity="0.75"/>
<circle cx="508.7" cy="32.5" r="1.01" fill="url(#spk)" opacity="0.54"/>
<circle cx="416.4" cy="50.4" r="1.24" fill="url(#spk)" opacity="0.45"/>
<circle cx="509.3" cy="42.6" r="1.66" fill="url(#spk)" opacity="0.39"/>
<circle cx="475.6" cy="46.0" r="1.08" fill="url(#spk)" opacity="0.37"/>
<circle cx="490.3" cy="83.9" r="1.74" fill="url(#spk)" opacity="0.43"/>
<circle cx="472.2" cy="17.6" r="1.67" fill="url(#spk)" opacity="0.68"/>
<circle cx="498.6" cy="24.4" r="1.11" fill="url(#spk)" opacity="0.28"/>
<circle cx="437.5" cy="83.2" r="1.47" fill="url(#spk)" opacity="0.65"/>
<circle cx="480.4" cy="60.3" r="1.44" fill="url(#spk)" opacity="0.59"/>
<circle cx="430.5" cy="52.4" r="1.55" fill="url(#spk)" opacity="0.29"/>
<circle cx="458.0" cy="38.1" r="1.25" fill="url(#spk)" opacity="0.31"/>
<circle cx="477.4" cy="61.0" r="1.31" fill="url(#spk)" opacity="0.63"/>
<circle cx="423.4" cy="34.3" r="1.19" fill="url(#spk)" opacity="0.60"/>
<circle cx="407.7" cy="87.4" r="1.23" fill="url(#spk)" opacity="0.43"/>
<circle cx="489.7" cy="84.5" r="1.14" fill="url(#spk)" opacity="0.68"/>
<circle cx="491.7" cy="42.6" r="1.72" fill="url(#spk)" opacity="0.38"/>
<circle cx="475.6" cy="17.8" r="1.71" fill="url(#spk)" opacity="0.48"/>
<circle cx="436.9" cy="89.8" r="1.29" fill="url(#spk)" opacity="0.33"/>
<circle cx="474.8" cy="40.7" r="1.55" fill="url(#spk)" opacity="0.58"/>
<circle cx="410.2" cy="70.6" r="1.39" fill="url(#spk)" opacity="0.32"/>
<circle cx="475.3" cy="87.4" r="1.22" fill="url(#spk)" opacity="0.36"/>
<circle cx="465.6" cy="82.4" r="1.28" fill="url(#spk)" opacity="0.64"/>
<circle cx="470.2" cy="87.7" r="1.77" fill="url(#spk)" opacity="0.52"/>
<circle cx="451.0" cy="56.6" r="1.27" fill="url(#spk)" opacity="0.59"/>
<circle cx="426.1" cy="86.0" r="1.46" fill="url(#spk)" opacity="0.62"/>
<circle cx="482.4" cy="54.3" r="1.76" fill="url(#spk)" opacity="0.57"/>
<circle cx="453.0" cy="37.8" r="1.24" fill="url(#spk)" opacity="0.37"/>
<circle cx="484.6" cy="55.9" r="1.65" fill="url(#spk)" opacity="0.61"/>
<circle cx="441.7" cy="43.8" r="1.09" fill="url(#spk)" opacity="0.33"/>
<circle cx="410.7" cy="79.8" r="1.59" fill="url(#spk)" opacity="0.41"/>
<circle cx="461.8" cy="85.2" r="1.65" fill="url(#spk)" opacity="0.49"/>
<circle cx="470.8" cy="27.6" r="1.67" fill="url(#spk)" opacity="0.33"/>
<circle cx="504.4" cy="29.5" r="1.78" fill="url(#spk)" opacity="0.33"/>
<circle cx="500.6" cy="47.8" r="1.57" fill="url(#spk)" opacity="0.59"/>
<circle cx="407.2" cy="54.4" r="1.78" fill="url(#spk)" opacity="0.63"/>
<circle cx="487.6" cy="95.6" r="1.22" fill="url(#spk)" opacity="0.45"/>
<circle cx="430.2" cy="94.3" r="1.42" fill="url(#spk)" opacity="0.46"/>
<circle cx="479.2" cy="96.5" r="1.17" fill="url(#spk)" opacity="0.38"/>
<circle cx="443.5" cy="76.7" r="1.07" fill="url(#spk)" opacity="0.53"/>
<circle cx="465.8" cy="85.9" r="1.25" fill="rgb(30,30,30)" stroke="rgb(186,186,186)" stroke-width="0.55"/>
<circle cx="504.7" cy="77.2" r="1.25" fill="rgb(30,30,30)" stroke="rgb(162,162,162)" stroke-width="0.55"/>
<circle cx="406.5" cy="84.6" r="1.25" fill="rgb(30,30,30)" stroke="rgb(105,105,105)" stroke-width="0.55"/>
<circle cx="502.0" cy="63.8" r="1.25" fill="rgb(30,30,30)" stroke="rgb(128,128,128)" stroke-width="0.55"/>
<circle cx="511.0" cy="63.7" r="1.25" fill="rgb(30,30,30)" stroke="rgb(127,127,127)" stroke-width="0.55"/>
<circle cx="440.1" cy="60.0" r="1.25" fill="rgb(30,30,30)" stroke="rgb(151,151,151)" stroke-width="0.55"/>
<circle cx="481.8" cy="76.5" r="1.25" fill="rgb(30,30,30)" stroke="rgb(189,189,189)" stroke-width="0.55"/>
<circle cx="492.7" cy="43.7" r="1.25" fill="rgb(30,30,30)" stroke="rgb(123,123,123)" stroke-width="0.55"/>
<circle cx="473.6" cy="57.2" r="1.25" fill="rgb(30,30,30)" stroke="rgb(115,115,115)" stroke-width="0.55"/>
<circle cx="433.8" cy="55.1" r="1.25" fill="rgb(30,30,30)" stroke="rgb(167,167,167)" stroke-width="0.55"/>
<circle cx="470.5" cy="70.6" r="1.25" fill="rgb(30,30,30)" stroke="rgb(156,156,156)" stroke-width="0.55"/>
<circle cx="498.5" cy="34.5" r="1.25" fill="rgb(30,30,30)" stroke="rgb(133,133,133)" stroke-width="0.55"/>
<circle cx="413.8" cy="19.0" r="1.25" fill="rgb(30,30,30)" stroke="rgb(162,162,162)" stroke-width="0.55"/>
<circle cx="454.8" cy="24.2" r="1.25" fill="rgb(30,30,30)" stroke="rgb(143,143,143)" stroke-width="0.55"/>
<circle cx="404.5" cy="31.5" r="1.25" fill="rgb(30,30,30)" stroke="rgb(179,179,179)" stroke-width="0.55"/>
<circle cx="494.9" cy="86.4" r="1.25" fill="rgb(30,30,30)" stroke="rgb(183,183,183)" stroke-width="0.55"/>
<circle cx="487.6" cy="75.1" r="1.25" fill="rgb(30,30,30)" stroke="rgb(128,128,128)" stroke-width="0.55"/>
<circle cx="407.1" cy="77.7" r="1.25" fill="rgb(30,30,30)" stroke="rgb(164,164,164)" stroke-width="0.55"/>
<circle cx="484.0" cy="53.0" r="1.25" fill="rgb(30,30,30)" stroke="rgb(145,145,145)" stroke-width="0.55"/>
<circle cx="478.1" cy="25.3" r="1.25" fill="rgb(30,30,30)" stroke="rgb(166,166,166)" stroke-width="0.55"/>
<circle cx="415.9" cy="54.7" r="1.25" fill="rgb(30,30,30)" stroke="rgb(133,133,133)" stroke-width="0.55"/>
<circle cx="459.8" cy="86.9" r="1.25" fill="rgb(30,30,30)" stroke="rgb(130,130,130)" stroke-width="0.55"/>
<circle cx="477.8" cy="58.2" r="1.25" fill="rgb(30,30,30)" stroke="rgb(101,101,101)" stroke-width="0.55"/>
<circle cx="438.9" cy="68.2" r="1.25" fill="rgb(30,30,30)" stroke="rgb(175,175,175)" stroke-width="0.55"/>
<circle cx="457.4" cy="47.3" r="1.25" fill="rgb(30,30,30)" stroke="rgb(146,146,146)" stroke-width="0.55"/>
<circle cx="509.4" cy="29.2" r="1.25" fill="rgb(30,30,30)" stroke="rgb(134,134,134)" stroke-width="0.55"/>
<circle cx="471.9" cy="67.8" r="1.25" fill="rgb(30,30,30)" stroke="rgb(148,148,148)" stroke-width="0.55"/>
<circle cx="457.2" cy="56.3" r="1.25" fill="rgb(30,30,30)" stroke="rgb(188,188,188)" stroke-width="0.55"/>
<circle cx="409.3" cy="45.0" r="1.25" fill="rgb(30,30,30)" stroke="rgb(174,174,174)" stroke-width="0.55"/>
<circle cx="415.3" cy="37.9" r="1.25" fill="rgb(30,30,30)" stroke="rgb(180,180,180)" stroke-width="0.55"/>
<polygon points="427.47,17.83 431.23,17.83 431.23,17.18 434.47,18.98 431.23,20.78 431.23,20.13 427.47,20.13" fill="#25b5ec"/>
<polygon points="413.46,26.02 409.70,26.02 409.70,25.37 406.46,27.17 409.70,28.97 409.70,28.32 413.46,28.32" fill="#25b5ec"/>
<polygon points="452.92,23.14 456.68,23.14 456.68,22.49 459.92,24.29 456.68,26.09 456.68,25.44 452.92,25.44" fill="#25b5ec"/>
<polygon points="487.21,23.14 490.97,23.14 490.97,22.49 494.21,24.29 490.97,26.09 490.97,25.44 487.21,25.44" fill="#25b5ec"/>
<polygon points="501.59,26.46 505.35,26.46 505.35,25.81 508.59,27.61 505.35,29.41 505.35,28.76 501.59,28.76" fill="#25b5ec"/>
<polygon points="470.98,29.78 467.22,29.78 467.22,29.13 463.98,30.93 467.22,32.73 467.22,32.08 470.98,32.08" fill="#25b5ec"/>
<polygon points="444.07,33.10 447.83,33.10 447.83,32.45 451.07,34.25 447.83,36.05 447.83,35.40 444.07,35.40" fill="#25b5ec"/>
<polygon points="463.23,37.74 459.47,37.74 459.47,37.09 456.23,38.89 459.47,40.69 459.47,40.05 463.23,40.05" fill="#25b5ec"/>
<polygon points="428.58,41.50 432.34,41.50 432.34,40.85 435.58,42.65 432.34,44.45 432.34,43.81 428.58,43.81" fill="#25b5ec"/>
<polygon points="477.25,43.72 481.01,43.72 481.01,43.07 484.25,44.87 481.01,46.67 481.01,46.02 477.25,46.02" fill="#25b5ec"/>
<polygon points="491.63,45.49 495.39,45.49 495.39,44.84 498.63,46.64 495.39,48.44 495.39,47.79 491.63,47.79" fill="#25b5ec"/>
<polygon points="438.09,54.11 441.85,54.11 441.85,53.47 445.09,55.27 441.85,57.07 441.85,56.42 438.09,56.42" fill="#25b5ec"/>
<polygon points="449.60,54.78 453.36,54.78 453.36,54.13 456.60,55.93 453.36,57.73 453.36,57.08 449.60,57.08" fill="#25b5ec"/>
<polygon points="416.33,72.48 412.57,72.48 412.57,71.83 409.33,73.63 412.57,75.43 412.57,74.78 416.33,74.78" fill="#25b5ec"/>
<polygon points="489.42,75.35 493.18,75.35 493.18,74.70 496.42,76.50 493.18,78.30 493.18,77.66 489.42,77.66" fill="#25b5ec"/>
<polygon points="403.58,80.66 407.34,80.66 407.34,80.01 410.58,81.81 407.34,83.61 407.34,82.97 403.58,82.97" fill="#25b5ec"/>
<polygon points="444.07,93.05 447.83,93.05 447.83,92.40 451.07,94.20 447.83,96.00 447.83,95.36 444.07,95.36" fill="#25b5ec"/>
<polygon points="499.38,90.84 503.14,90.84 503.14,90.19 506.38,91.99 503.14,93.79 503.14,93.14 499.38,93.14" fill="#25b5ec"/>
<text x="403.00" y="25.00" font-size="9.2" text-anchor="start" fill="#fff" font-weight="normal" >ITP</text>
<rect x="401.50" y="96.80" width="13.00" height="1.90" fill="#fff"/>
<rect x="283.00" y="102.50" width="114.00" height="85.50" fill="#000"/>
<circle cx="357.9" cy="114.7" r="1.23" fill="url(#spk)" opacity="0.68"/>
<circle cx="377.3" cy="167.2" r="1.51" fill="url(#spk)" opacity="0.56"/>
<circle cx="345.0" cy="148.0" r="1.65" fill="url(#spk)" opacity="0.35"/>
<circle cx="366.2" cy="117.9" r="1.49" fill="url(#spk)" opacity="0.47"/>
<circle cx="297.8" cy="185.7" r="1.53" fill="url(#spk)" opacity="0.41"/>
<circle cx="394.9" cy="183.1" r="1.49" fill="url(#spk)" opacity="0.29"/>
<circle cx="373.7" cy="181.1" r="1.20" fill="url(#spk)" opacity="0.73"/>
<circle cx="299.8" cy="172.7" r="1.30" fill="url(#spk)" opacity="0.50"/>
<circle cx="311.1" cy="147.9" r="1.68" fill="url(#spk)" opacity="0.34"/>
<circle cx="348.4" cy="128.5" r="1.76" fill="url(#spk)" opacity="0.70"/>
<circle cx="369.5" cy="158.0" r="1.14" fill="url(#spk)" opacity="0.74"/>
<circle cx="300.5" cy="116.0" r="1.01" fill="url(#spk)" opacity="0.66"/>
<circle cx="391.8" cy="155.1" r="1.77" fill="url(#spk)" opacity="0.40"/>
<circle cx="322.7" cy="108.8" r="1.69" fill="url(#spk)" opacity="0.37"/>
<circle cx="395.6" cy="104.4" r="1.49" fill="url(#spk)" opacity="0.53"/>
<circle cx="368.4" cy="163.3" r="1.65" fill="url(#spk)" opacity="0.55"/>
<circle cx="338.4" cy="132.1" r="1.48" fill="url(#spk)" opacity="0.69"/>
<circle cx="324.6" cy="161.8" r="1.72" fill="url(#spk)" opacity="0.73"/>
<circle cx="294.6" cy="168.7" r="1.19" fill="url(#spk)" opacity="0.71"/>
<circle cx="293.7" cy="173.4" r="1.36" fill="url(#spk)" opacity="0.44"/>
<circle cx="354.6" cy="155.0" r="1.54" fill="url(#spk)" opacity="0.56"/>
<circle cx="370.7" cy="174.3" r="1.17" fill="url(#spk)" opacity="0.34"/>
<circle cx="385.8" cy="158.6" r="1.57" fill="url(#spk)" opacity="0.52"/>
<circle cx="324.8" cy="181.1" r="1.21" fill="url(#spk)" opacity="0.31"/>
<circle cx="389.2" cy="178.5" r="1.57" fill="url(#spk)" opacity="0.33"/>
<circle cx="317.2" cy="106.9" r="1.64" fill="url(#spk)" opacity="0.34"/>
<circle cx="389.4" cy="125.8" r="1.34" fill="url(#spk)" opacity="0.42"/>
<circle cx="387.1" cy="135.9" r="1.79" fill="url(#spk)" opacity="0.43"/>
<circle cx="301.2" cy="124.5" r="1.51" fill="url(#spk)" opacity="0.61"/>
<circle cx="380.6" cy="118.1" r="1.61" fill="url(#spk)" opacity="0.32"/>
<circle cx="362.9" cy="176.6" r="1.02" fill="url(#spk)" opacity="0.33"/>
<circle cx="362.8" cy="105.4" r="1.09" fill="url(#spk)" opacity="0.59"/>
<circle cx="378.3" cy="118.6" r="1.57" fill="url(#spk)" opacity="0.60"/>
<circle cx="344.1" cy="167.1" r="1.75" fill="url(#spk)" opacity="0.61"/>
<circle cx="340.8" cy="122.0" r="1.50" fill="url(#spk)" opacity="0.62"/>
<circle cx="325.1" cy="125.0" r="1.73" fill="url(#spk)" opacity="0.59"/>
<circle cx="381.1" cy="184.5" r="1.05" fill="url(#spk)" opacity="0.54"/>
<circle cx="385.1" cy="167.3" r="1.71" fill="url(#spk)" opacity="0.63"/>
<circle cx="301.8" cy="140.9" r="1.70" fill="url(#spk)" opacity="0.32"/>
<circle cx="370.6" cy="114.7" r="1.50" fill="url(#spk)" opacity="0.38"/>
<circle cx="314.8" cy="125.9" r="1.34" fill="url(#spk)" opacity="0.63"/>
<circle cx="304.5" cy="185.6" r="1.56" fill="url(#spk)" opacity="0.37"/>
<circle cx="306.0" cy="169.7" r="1.20" fill="url(#spk)" opacity="0.53"/>
<circle cx="348.2" cy="109.2" r="1.53" fill="url(#spk)" opacity="0.40"/>
<circle cx="315.2" cy="162.6" r="1.56" fill="url(#spk)" opacity="0.48"/>
<circle cx="311.0" cy="134.8" r="1.43" fill="url(#spk)" opacity="0.67"/>
<circle cx="294.9" cy="163.7" r="1.21" fill="url(#spk)" opacity="0.59"/>
<circle cx="320.3" cy="128.1" r="1.00" fill="url(#spk)" opacity="0.49"/>
<circle cx="370.8" cy="114.2" r="1.16" fill="url(#spk)" opacity="0.41"/>
<circle cx="286.2" cy="105.0" r="1.67" fill="url(#spk)" opacity="0.66"/>
<circle cx="338.1" cy="128.1" r="1.17" fill="url(#spk)" opacity="0.59"/>
<circle cx="351.6" cy="175.5" r="1.06" fill="url(#spk)" opacity="0.49"/>
<circle cx="289.4" cy="178.1" r="1.20" fill="url(#spk)" opacity="0.69"/>
<circle cx="316.8" cy="160.6" r="1.42" fill="url(#spk)" opacity="0.61"/>
<circle cx="385.7" cy="166.0" r="1.47" fill="url(#spk)" opacity="0.74"/>
<circle cx="395.6" cy="119.6" r="1.70" fill="url(#spk)" opacity="0.59"/>
<circle cx="379.4" cy="133.0" r="1.68" fill="url(#spk)" opacity="0.70"/>
<circle cx="302.9" cy="178.7" r="1.77" fill="url(#spk)" opacity="0.54"/>
<circle cx="369.7" cy="186.0" r="1.71" fill="url(#spk)" opacity="0.61"/>
<circle cx="334.5" cy="140.5" r="1.36" fill="url(#spk)" opacity="0.68"/>
<circle cx="303.0" cy="168.4" r="1.11" fill="url(#spk)" opacity="0.32"/>
<circle cx="337.9" cy="181.6" r="1.76" fill="url(#spk)" opacity="0.50"/>
<circle cx="387.5" cy="186.9" r="1.18" fill="url(#spk)" opacity="0.56"/>
<circle cx="382.4" cy="128.1" r="1.50" fill="url(#spk)" opacity="0.31"/>
<circle cx="327.8" cy="158.2" r="1.21" fill="url(#spk)" opacity="0.65"/>
<circle cx="290.9" cy="136.0" r="1.65" fill="url(#spk)" opacity="0.62"/>
<circle cx="385.0" cy="142.3" r="1.16" fill="url(#spk)" opacity="0.72"/>
<circle cx="394.7" cy="142.1" r="1.34" fill="url(#spk)" opacity="0.45"/>
<circle cx="341.3" cy="126.7" r="1.18" fill="url(#spk)" opacity="0.50"/>
<circle cx="309.1" cy="104.9" r="1.69" fill="url(#spk)" opacity="0.71"/>
<circle cx="344.9" cy="167.6" r="1.50" fill="url(#spk)" opacity="0.47"/>
<circle cx="362.1" cy="161.7" r="1.50" fill="url(#spk)" opacity="0.67"/>
<circle cx="338.0" cy="173.8" r="1.25" fill="url(#spk)" opacity="0.48"/>
<circle cx="323.4" cy="116.2" r="1.14" fill="url(#spk)" opacity="0.44"/>
<circle cx="311.7" cy="123.2" r="1.69" fill="url(#spk)" opacity="0.41"/>
<circle cx="317.2" cy="153.3" r="1.61" fill="url(#spk)" opacity="0.38"/>
<circle cx="289.4" cy="181.9" r="1.59" fill="url(#spk)" opacity="0.48"/>
<circle cx="312.5" cy="142.9" r="1.80" fill="url(#spk)" opacity="0.36"/>
<circle cx="390.9" cy="120.1" r="1.45" fill="url(#spk)" opacity="0.67"/>
<circle cx="284.7" cy="153.2" r="1.14" fill="url(#spk)" opacity="0.74"/>
<circle cx="365.6" cy="183.6" r="1.49" fill="url(#spk)" opacity="0.33"/>
<circle cx="372.5" cy="176.1" r="1.23" fill="url(#spk)" opacity="0.31"/>
<circle cx="329.3" cy="178.7" r="1.41" fill="url(#spk)" opacity="0.28"/>
<circle cx="350.7" cy="137.7" r="1.37" fill="url(#spk)" opacity="0.72"/>
<circle cx="308.6" cy="125.3" r="1.45" fill="url(#spk)" opacity="0.31"/>
<circle cx="358.9" cy="176.3" r="1.74" fill="url(#spk)" opacity="0.60"/>
<circle cx="363.4" cy="169.4" r="1.65" fill="url(#spk)" opacity="0.42"/>
<circle cx="366.4" cy="174.7" r="1.33" fill="url(#spk)" opacity="0.37"/>
<circle cx="339.1" cy="136.1" r="1.65" fill="url(#spk)" opacity="0.40"/>
<circle cx="392.9" cy="127.3" r="1.69" fill="url(#spk)" opacity="0.60"/>
<circle cx="381.2" cy="123.5" r="1.62" fill="url(#spk)" opacity="0.29"/>
<circle cx="348.1" cy="176.3" r="1.44" fill="url(#spk)" opacity="0.69"/>
<circle cx="360.5" cy="180.4" r="1.72" fill="url(#spk)" opacity="0.55"/>
<circle cx="314.7" cy="134.1" r="1.39" fill="url(#spk)" opacity="0.39"/>
<circle cx="389.9" cy="176.7" r="1.08" fill="url(#spk)" opacity="0.38"/>
<circle cx="356.3" cy="135.3" r="1.22" fill="url(#spk)" opacity="0.59"/>
<circle cx="384.4" cy="140.9" r="1.53" fill="url(#spk)" opacity="0.58"/>
<circle cx="316.2" cy="150.8" r="1.30" fill="url(#spk)" opacity="0.43"/>
<circle cx="394.2" cy="121.9" r="1.34" fill="url(#spk)" opacity="0.44"/>
<circle cx="295.7" cy="125.7" r="1.32" fill="url(#spk)" opacity="0.50"/>
<circle cx="343.4" cy="125.7" r="1.15" fill="url(#spk)" opacity="0.71"/>
<circle cx="296.2" cy="125.1" r="1.07" fill="url(#spk)" opacity="0.53"/>
<circle cx="305.1" cy="146.6" r="1.04" fill="url(#spk)" opacity="0.67"/>
<circle cx="369.7" cy="111.7" r="1.54" fill="url(#spk)" opacity="0.58"/>
<circle cx="291.2" cy="168.8" r="1.26" fill="url(#spk)" opacity="0.54"/>
<circle cx="326.8" cy="118.0" r="1.37" fill="url(#spk)" opacity="0.51"/>
<circle cx="305.3" cy="140.5" r="1.75" fill="url(#spk)" opacity="0.60"/>
<circle cx="379.4" cy="157.1" r="1.50" fill="url(#spk)" opacity="0.51"/>
<circle cx="293.1" cy="114.9" r="1.65" fill="url(#spk)" opacity="0.62"/>
<circle cx="321.6" cy="137.6" r="1.61" fill="url(#spk)" opacity="0.37"/>
<circle cx="380.0" cy="150.5" r="1.76" fill="url(#spk)" opacity="0.43"/>
<circle cx="361.0" cy="149.5" r="1.05" fill="url(#spk)" opacity="0.69"/>
<circle cx="362.9" cy="178.2" r="1.31" fill="url(#spk)" opacity="0.47"/>
<circle cx="395.2" cy="169.2" r="1.76" fill="url(#spk)" opacity="0.68"/>
<circle cx="286.4" cy="113.4" r="1.37" fill="url(#spk)" opacity="0.72"/>
<circle cx="358.5" cy="173.2" r="1.76" fill="url(#spk)" opacity="0.55"/>
<circle cx="367.5" cy="149.4" r="1.15" fill="url(#spk)" opacity="0.33"/>
<circle cx="367.9" cy="160.2" r="1.05" fill="url(#spk)" opacity="0.64"/>
<circle cx="364.1" cy="116.7" r="1.72" fill="url(#spk)" opacity="0.59"/>
<circle cx="291.9" cy="142.9" r="1.33" fill="url(#spk)" opacity="0.42"/>
<circle cx="293.2" cy="162.0" r="1.41" fill="url(#spk)" opacity="0.69"/>
<circle cx="370.7" cy="170.2" r="1.75" fill="url(#spk)" opacity="0.51"/>
<circle cx="352.6" cy="170.9" r="1.18" fill="url(#spk)" opacity="0.31"/>
<circle cx="313.3" cy="121.5" r="1.77" fill="url(#spk)" opacity="0.31"/>
<circle cx="284.8" cy="173.2" r="1.32" fill="url(#spk)" opacity="0.39"/>
<circle cx="343.8" cy="151.0" r="1.20" fill="url(#spk)" opacity="0.57"/>
<circle cx="294.0" cy="159.4" r="1.19" fill="url(#spk)" opacity="0.66"/>
<circle cx="367.9" cy="174.7" r="1.41" fill="url(#spk)" opacity="0.33"/>
<circle cx="322.1" cy="137.3" r="1.37" fill="url(#spk)" opacity="0.29"/>
<circle cx="374.6" cy="180.5" r="1.71" fill="url(#spk)" opacity="0.57"/>
<circle cx="294.5" cy="177.2" r="1.04" fill="url(#spk)" opacity="0.47"/>
<circle cx="339.3" cy="171.1" r="1.04" fill="url(#spk)" opacity="0.49"/>
<circle cx="295.0" cy="135.2" r="1.12" fill="url(#spk)" opacity="0.67"/>
<circle cx="371.5" cy="147.6" r="1.48" fill="url(#spk)" opacity="0.71"/>
<circle cx="346.7" cy="117.8" r="1.63" fill="url(#spk)" opacity="0.73"/>
<circle cx="310.2" cy="167.0" r="1.38" fill="url(#spk)" opacity="0.65"/>
<circle cx="392.0" cy="178.0" r="1.49" fill="url(#spk)" opacity="0.28"/>
<circle cx="360.5" cy="116.8" r="1.51" fill="url(#spk)" opacity="0.35"/>
<circle cx="321.6" cy="165.8" r="1.02" fill="url(#spk)" opacity="0.56"/>
<circle cx="379.9" cy="161.5" r="1.20" fill="url(#spk)" opacity="0.73"/>
<circle cx="326.5" cy="106.4" r="1.80" fill="url(#spk)" opacity="0.32"/>
<circle cx="389.7" cy="180.2" r="1.26" fill="url(#spk)" opacity="0.52"/>
<circle cx="317.2" cy="143.5" r="1.76" fill="url(#spk)" opacity="0.47"/>
<circle cx="394.4" cy="125.9" r="1.39" fill="url(#spk)" opacity="0.47"/>
<circle cx="290.8" cy="105.8" r="1.18" fill="url(#spk)" opacity="0.41"/>
<circle cx="366.4" cy="168.9" r="1.00" fill="url(#spk)" opacity="0.41"/>
<circle cx="316.6" cy="131.6" r="1.17" fill="url(#spk)" opacity="0.39"/>
<circle cx="331.4" cy="146.4" r="1.26" fill="url(#spk)" opacity="0.33"/>
<circle cx="355.3" cy="119.6" r="1.35" fill="url(#spk)" opacity="0.54"/>
<circle cx="289.0" cy="154.2" r="1.36" fill="url(#spk)" opacity="0.49"/>
<circle cx="308.9" cy="136.6" r="1.44" fill="url(#spk)" opacity="0.62"/>
<circle cx="295.5" cy="171.0" r="1.38" fill="url(#spk)" opacity="0.58"/>
<circle cx="366.9" cy="159.2" r="1.03" fill="url(#spk)" opacity="0.73"/>
<circle cx="308.7" cy="163.9" r="1.21" fill="url(#spk)" opacity="0.44"/>
<circle cx="339.8" cy="124.4" r="1.77" fill="url(#spk)" opacity="0.69"/>
<circle cx="320.7" cy="108.7" r="1.02" fill="url(#spk)" opacity="0.46"/>
<circle cx="310.3" cy="177.1" r="1.59" fill="url(#spk)" opacity="0.59"/>
<circle cx="388.9" cy="181.8" r="1.38" fill="url(#spk)" opacity="0.66"/>
<circle cx="340.8" cy="157.3" r="1.57" fill="url(#spk)" opacity="0.47"/>
<circle cx="356.9" cy="180.6" r="1.27" fill="url(#spk)" opacity="0.49"/>
<circle cx="363.0" cy="162.6" r="1.30" fill="url(#spk)" opacity="0.58"/>
<circle cx="376.1" cy="154.1" r="1.41" fill="url(#spk)" opacity="0.33"/>
<circle cx="313.4" cy="138.5" r="1.73" fill="url(#spk)" opacity="0.53"/>
<circle cx="292.6" cy="133.1" r="1.26" fill="url(#spk)" opacity="0.32"/>
<circle cx="336.3" cy="144.4" r="1.07" fill="url(#spk)" opacity="0.39"/>
<circle cx="302.9" cy="122.0" r="1.03" fill="url(#spk)" opacity="0.57"/>
<circle cx="286.1" cy="139.2" r="1.71" fill="url(#spk)" opacity="0.74"/>
<circle cx="387.2" cy="145.9" r="1.25" fill="url(#spk)" opacity="0.75"/>
<circle cx="354.2" cy="105.9" r="1.10" fill="url(#spk)" opacity="0.40"/>
<circle cx="330.4" cy="136.3" r="1.48" fill="url(#spk)" opacity="0.35"/>
<circle cx="342.0" cy="122.2" r="1.25" fill="rgb(30,30,30)" stroke="rgb(157,157,157)" stroke-width="0.55"/>
<circle cx="333.6" cy="154.3" r="1.25" fill="rgb(30,30,30)" stroke="rgb(149,149,149)" stroke-width="0.55"/>
<circle cx="326.7" cy="120.7" r="1.25" fill="rgb(30,30,30)" stroke="rgb(124,124,124)" stroke-width="0.55"/>
<circle cx="369.5" cy="124.7" r="1.25" fill="rgb(30,30,30)" stroke="rgb(104,104,104)" stroke-width="0.55"/>
<circle cx="363.1" cy="155.3" r="1.25" fill="rgb(30,30,30)" stroke="rgb(105,105,105)" stroke-width="0.55"/>
<circle cx="346.8" cy="144.8" r="1.25" fill="rgb(30,30,30)" stroke="rgb(138,138,138)" stroke-width="0.55"/>
<circle cx="353.4" cy="126.4" r="1.25" fill="rgb(30,30,30)" stroke="rgb(142,142,142)" stroke-width="0.55"/>
<circle cx="349.0" cy="150.1" r="1.25" fill="rgb(30,30,30)" stroke="rgb(133,133,133)" stroke-width="0.55"/>
<circle cx="359.5" cy="156.2" r="1.25" fill="rgb(30,30,30)" stroke="rgb(176,176,176)" stroke-width="0.55"/>
<circle cx="387.1" cy="107.7" r="1.25" fill="rgb(30,30,30)" stroke="rgb(189,189,189)" stroke-width="0.55"/>
<circle cx="389.1" cy="126.8" r="1.25" fill="rgb(30,30,30)" stroke="rgb(108,108,108)" stroke-width="0.55"/>
<circle cx="392.7" cy="129.6" r="1.25" fill="rgb(30,30,30)" stroke="rgb(161,161,161)" stroke-width="0.55"/>
<circle cx="379.6" cy="176.1" r="1.25" fill="rgb(30,30,30)" stroke="rgb(165,165,165)" stroke-width="0.55"/>
<circle cx="296.5" cy="108.7" r="1.25" fill="rgb(30,30,30)" stroke="rgb(136,136,136)" stroke-width="0.55"/>
<circle cx="334.7" cy="132.8" r="1.25" fill="rgb(30,30,30)" stroke="rgb(135,135,135)" stroke-width="0.55"/>
<circle cx="371.0" cy="120.4" r="1.25" fill="rgb(30,30,30)" stroke="rgb(132,132,132)" stroke-width="0.55"/>
<circle cx="317.4" cy="161.2" r="1.25" fill="rgb(30,30,30)" stroke="rgb(136,136,136)" stroke-width="0.55"/>
<circle cx="351.7" cy="170.6" r="1.25" fill="rgb(30,30,30)" stroke="rgb(169,169,169)" stroke-width="0.55"/>
<circle cx="291.1" cy="109.2" r="1.25" fill="rgb(30,30,30)" stroke="rgb(180,180,180)" stroke-width="0.55"/>
<circle cx="307.4" cy="174.9" r="1.25" fill="rgb(30,30,30)" stroke="rgb(108,108,108)" stroke-width="0.55"/>
<circle cx="329.0" cy="161.2" r="1.25" fill="rgb(30,30,30)" stroke="rgb(112,112,112)" stroke-width="0.55"/>
<circle cx="292.7" cy="122.2" r="1.25" fill="rgb(30,30,30)" stroke="rgb(173,173,173)" stroke-width="0.55"/>
<circle cx="331.7" cy="179.1" r="1.25" fill="rgb(30,30,30)" stroke="rgb(111,111,111)" stroke-width="0.55"/>
<circle cx="310.3" cy="128.4" r="1.25" fill="rgb(30,30,30)" stroke="rgb(160,160,160)" stroke-width="0.55"/>
<circle cx="379.8" cy="168.8" r="1.25" fill="rgb(30,30,30)" stroke="rgb(105,105,105)" stroke-width="0.55"/>
<circle cx="320.1" cy="110.6" r="1.25" fill="rgb(30,30,30)" stroke="rgb(139,139,139)" stroke-width="0.55"/>
<circle cx="326.9" cy="141.7" r="1.25" fill="rgb(30,30,30)" stroke="rgb(103,103,103)" stroke-width="0.55"/>
<circle cx="373.2" cy="145.7" r="1.25" fill="rgb(30,30,30)" stroke="rgb(163,163,163)" stroke-width="0.55"/>
<circle cx="346.6" cy="177.6" r="1.25" fill="rgb(30,30,30)" stroke="rgb(150,150,150)" stroke-width="0.55"/>
<circle cx="290.5" cy="172.7" r="1.25" fill="rgb(30,30,30)" stroke="rgb(135,135,135)" stroke-width="0.55"/>
<polygon points="367.55,108.43 371.31,108.43 371.31,107.78 374.55,109.58 371.31,111.38 371.31,110.73 367.55,110.73" fill="#25b5ec"/>
<polygon points="350.74,113.52 354.50,113.52 354.50,112.87 357.74,114.67 354.50,116.47 354.50,115.82 350.74,115.82" fill="#25b5ec"/>
<polygon points="342.55,135.64 346.31,135.64 346.31,134.99 349.55,136.79 346.31,138.59 346.31,137.94 342.55,137.94" fill="#25b5ec"/>
<polygon points="363.93,136.75 360.17,136.75 360.17,136.10 356.93,137.90 360.17,139.70 360.17,139.05 363.93,139.05" fill="#25b5ec"/>
<polygon points="361.72,140.73 357.96,140.73 357.96,140.08 354.72,141.88 357.96,143.68 357.96,143.03 361.72,143.03" fill="#25b5ec"/>
<polygon points="323.75,147.37 327.51,147.37 327.51,146.72 330.75,148.52 327.51,150.32 327.51,149.67 323.75,149.67" fill="#25b5ec"/>
<polygon points="293.88,150.46 297.64,150.46 297.64,149.82 300.88,151.62 297.64,153.42 297.64,152.77 293.88,152.77" fill="#25b5ec"/>
<polygon points="285.69,164.84 289.45,164.84 289.45,164.20 292.69,166.00 289.45,167.80 289.45,167.15 285.69,167.15" fill="#25b5ec"/>
<polygon points="306.05,177.23 309.81,177.23 309.81,176.58 313.05,178.38 309.81,180.18 309.81,179.54 306.05,179.54" fill="#25b5ec"/>
<text x="286.00" y="112.50" font-size="9.2" text-anchor="start" fill="#fff" font-weight="normal" >ITP</text>
<rect x="284.50" y="184.80" width="13.00" height="1.90" fill="#fff"/>
<rect x="400.00" y="102.50" width="114.00" height="85.50" fill="#000"/>
<circle cx="416.9" cy="170.9" r="1.12" fill="url(#spk)" opacity="0.62"/>
<circle cx="447.7" cy="170.7" r="1.48" fill="url(#spk)" opacity="0.73"/>
<circle cx="406.6" cy="144.4" r="1.62" fill="url(#spk)" opacity="0.36"/>
<circle cx="410.6" cy="175.6" r="1.10" fill="url(#spk)" opacity="0.39"/>
<circle cx="450.1" cy="158.0" r="1.43" fill="url(#spk)" opacity="0.57"/>
<circle cx="493.5" cy="160.8" r="1.43" fill="url(#spk)" opacity="0.47"/>
<circle cx="423.7" cy="125.9" r="1.09" fill="url(#spk)" opacity="0.43"/>
<circle cx="457.1" cy="123.6" r="1.42" fill="url(#spk)" opacity="0.52"/>
<circle cx="510.8" cy="122.4" r="1.22" fill="url(#spk)" opacity="0.61"/>
<circle cx="493.8" cy="179.9" r="1.16" fill="url(#spk)" opacity="0.71"/>
<circle cx="502.2" cy="170.4" r="1.79" fill="url(#spk)" opacity="0.72"/>
<circle cx="476.7" cy="178.7" r="1.07" fill="url(#spk)" opacity="0.67"/>
<circle cx="467.0" cy="172.3" r="1.27" fill="url(#spk)" opacity="0.44"/>
<circle cx="466.2" cy="170.8" r="1.49" fill="url(#spk)" opacity="0.70"/>
<circle cx="468.4" cy="139.9" r="1.32" fill="url(#spk)" opacity="0.61"/>
<circle cx="453.1" cy="167.5" r="1.01" fill="url(#spk)" opacity="0.36"/>
<circle cx="441.3" cy="117.3" r="1.69" fill="url(#spk)" opacity="0.73"/>
<circle cx="427.6" cy="158.3" r="1.19" fill="url(#spk)" opacity="0.40"/>
<circle cx="408.1" cy="106.9" r="1.33" fill="url(#spk)" opacity="0.60"/>
<circle cx="442.3" cy="184.3" r="1.73" fill="url(#spk)" opacity="0.61"/>
<circle cx="487.3" cy="177.1" r="1.78" fill="url(#spk)" opacity="0.71"/>
<circle cx="462.9" cy="117.1" r="1.73" fill="url(#spk)" opacity="0.59"/>
<circle cx="419.2" cy="167.8" r="1.33" fill="url(#spk)" opacity="0.74"/>
<circle cx="492.3" cy="172.4" r="1.60" fill="url(#spk)" opacity="0.31"/>
<circle cx="405.5" cy="106.8" r="1.68" fill="url(#spk)" opacity="0.30"/>
<circle cx="505.5" cy="150.8" r="1.16" fill="url(#spk)" opacity="0.37"/>
<circle cx="474.1" cy="138.5" r="1.78" fill="url(#spk)" opacity="0.55"/>
<circle cx="463.3" cy="155.2" r="1.08" fill="url(#spk)" opacity="0.48"/>
<circle cx="447.2" cy="177.7" r="1.53" fill="url(#spk)" opacity="0.32"/>
<circle cx="493.5" cy="164.0" r="1.19" fill="url(#spk)" opacity="0.37"/>
<circle cx="401.6" cy="121.0" r="1.17" fill="url(#spk)" opacity="0.55"/>
<circle cx="402.6" cy="149.8" r="1.11" fill="url(#spk)" opacity="0.47"/>
<circle cx="459.3" cy="150.4" r="1.75" fill="url(#spk)" opacity="0.64"/>
<circle cx="434.2" cy="104.3" r="1.10" fill="url(#spk)" opacity="0.50"/>
<circle cx="445.9" cy="114.4" r="1.73" fill="url(#spk)" opacity="0.69"/>
<circle cx="461.1" cy="133.5" r="1.13" fill="url(#spk)" opacity="0.64"/>
<circle cx="405.7" cy="118.2" r="1.26" fill="url(#spk)" opacity="0.51"/>
<circle cx="511.3" cy="123.2" r="1.17" fill="url(#spk)" opacity="0.45"/>
<circle cx="477.0" cy="160.0" r="1.79" fill="url(#spk)" opacity="0.38"/>
<circle cx="411.9" cy="184.0" r="1.07" fill="url(#spk)" opacity="0.42"/>
<circle cx="483.8" cy="141.7" r="1.69" fill="url(#spk)" opacity="0.45"/>
<circle cx="460.7" cy="157.5" r="1.24" fill="url(#spk)" opacity="0.45"/>
<circle cx="478.0" cy="167.2" r="1.76" fill="url(#spk)" opacity="0.36"/>
<circle cx="483.7" cy="159.8" r="1.60" fill="url(#spk)" opacity="0.50"/>
<circle cx="512.2" cy="158.4" r="1.21" fill="url(#spk)" opacity="0.33"/>
<circle cx="414.1" cy="103.4" r="1.41" fill="url(#spk)" opacity="0.69"/>
<circle cx="512.8" cy="176.3" r="1.13" fill="url(#spk)" opacity="0.54"/>
<circle cx="454.4" cy="116.8" r="1.33" fill="url(#spk)" opacity="0.32"/>
<circle cx="423.4" cy="118.4" r="1.02" fill="url(#spk)" opacity="0.43"/>
<circle cx="442.8" cy="146.1" r="1.55" fill="url(#spk)" opacity="0.40"/>
<circle cx="441.7" cy="152.5" r="1.47" fill="url(#spk)" opacity="0.35"/>
<circle cx="501.4" cy="166.7" r="1.22" fill="url(#spk)" opacity="0.51"/>
<circle cx="459.7" cy="127.9" r="1.01" fill="url(#spk)" opacity="0.37"/>
<circle cx="408.3" cy="182.6" r="1.75" fill="url(#spk)" opacity="0.35"/>
<circle cx="481.2" cy="156.0" r="1.10" fill="url(#spk)" opacity="0.61"/>
<circle cx="456.7" cy="174.1" r="1.26" fill="url(#spk)" opacity="0.48"/>
<circle cx="492.4" cy="143.3" r="1.02" fill="url(#spk)" opacity="0.60"/>
<circle cx="406.0" cy="109.3" r="1.31" fill="url(#spk)" opacity="0.50"/>
<circle cx="498.0" cy="104.3" r="1.32" fill="url(#spk)" opacity="0.52"/>
<circle cx="501.2" cy="157.0" r="1.43" fill="url(#spk)" opacity="0.43"/>
<circle cx="401.7" cy="139.1" r="1.26" fill="url(#spk)" opacity="0.48"/>
<circle cx="454.4" cy="140.3" r="1.20" fill="url(#spk)" opacity="0.51"/>
<circle cx="414.5" cy="130.7" r="1.63" fill="url(#spk)" opacity="0.44"/>
<circle cx="460.3" cy="118.3" r="1.22" fill="url(#spk)" opacity="0.67"/>
<circle cx="410.8" cy="143.0" r="1.27" fill="url(#spk)" opacity="0.40"/>
<circle cx="500.5" cy="124.7" r="1.39" fill="url(#spk)" opacity="0.38"/>
<circle cx="421.4" cy="178.2" r="1.22" fill="url(#spk)" opacity="0.44"/>
<circle cx="475.9" cy="118.3" r="1.58" fill="url(#spk)" opacity="0.65"/>
<circle cx="474.3" cy="184.5" r="1.07" fill="url(#spk)" opacity="0.68"/>
<circle cx="436.9" cy="175.5" r="1.26" fill="url(#spk)" opacity="0.55"/>
<circle cx="424.9" cy="135.5" r="1.34" fill="url(#spk)" opacity="0.45"/>
<circle cx="503.7" cy="168.1" r="1.21" fill="url(#spk)" opacity="0.58"/>
<circle cx="405.3" cy="152.0" r="1.67" fill="url(#spk)" opacity="0.67"/>
<circle cx="429.4" cy="142.4" r="1.28" fill="url(#spk)" opacity="0.39"/>
<circle cx="437.5" cy="171.4" r="1.34" fill="url(#spk)" opacity="0.59"/>
<circle cx="466.5" cy="173.0" r="1.38" fill="url(#spk)" opacity="0.61"/>
<circle cx="442.3" cy="120.2" r="1.66" fill="url(#spk)" opacity="0.46"/>
<circle cx="413.3" cy="179.3" r="1.17" fill="url(#spk)" opacity="0.35"/>
<circle cx="464.9" cy="106.0" r="1.66" fill="url(#spk)" opacity="0.57"/>
<circle cx="482.2" cy="103.8" r="1.76" fill="url(#spk)" opacity="0.38"/>
<circle cx="480.0" cy="143.9" r="1.21" fill="url(#spk)" opacity="0.45"/>
<circle cx="455.8" cy="128.6" r="1.14" fill="url(#spk)" opacity="0.54"/>
<circle cx="435.3" cy="138.8" r="1.63" fill="url(#spk)" opacity="0.73"/>
<circle cx="402.0" cy="143.5" r="1.25" fill="url(#spk)" opacity="0.35"/>
<circle cx="460.7" cy="142.6" r="1.18" fill="url(#spk)" opacity="0.31"/>
<circle cx="471.4" cy="179.5" r="1.06" fill="url(#spk)" opacity="0.53"/>
<circle cx="450.4" cy="180.3" r="1.49" fill="url(#spk)" opacity="0.72"/>
<circle cx="508.6" cy="132.3" r="1.75" fill="url(#spk)" opacity="0.30"/>
<circle cx="423.5" cy="127.4" r="1.71" fill="url(#spk)" opacity="0.58"/>
<circle cx="492.3" cy="158.2" r="1.47" fill="url(#spk)" opacity="0.29"/>
<circle cx="481.6" cy="119.9" r="1.35" fill="url(#spk)" opacity="0.54"/>
<circle cx="501.9" cy="136.9" r="1.78" fill="url(#spk)" opacity="0.34"/>
<circle cx="504.7" cy="163.5" r="1.53" fill="url(#spk)" opacity="0.59"/>
<circle cx="427.4" cy="103.8" r="1.76" fill="url(#spk)" opacity="0.45"/>
<circle cx="504.4" cy="168.1" r="1.55" fill="url(#spk)" opacity="0.59"/>
<circle cx="446.1" cy="164.9" r="1.56" fill="url(#spk)" opacity="0.40"/>
<circle cx="477.1" cy="135.8" r="1.56" fill="url(#spk)" opacity="0.32"/>
<circle cx="507.9" cy="124.1" r="1.10" fill="url(#spk)" opacity="0.37"/>
<circle cx="467.7" cy="148.6" r="1.20" fill="url(#spk)" opacity="0.41"/>
<circle cx="466.3" cy="128.1" r="1.05" fill="url(#spk)" opacity="0.36"/>
<circle cx="408.8" cy="172.2" r="1.75" fill="url(#spk)" opacity="0.37"/>
<circle cx="467.9" cy="152.9" r="1.80" fill="url(#spk)" opacity="0.54"/>
<circle cx="427.9" cy="129.0" r="1.48" fill="url(#spk)" opacity="0.49"/>
<circle cx="444.4" cy="171.1" r="1.12" fill="url(#spk)" opacity="0.67"/>
<circle cx="443.3" cy="154.3" r="1.10" fill="url(#spk)" opacity="0.51"/>
<circle cx="510.2" cy="114.4" r="1.36" fill="url(#spk)" opacity="0.53"/>
<circle cx="472.5" cy="138.0" r="1.31" fill="url(#spk)" opacity="0.61"/>
<circle cx="482.3" cy="144.4" r="1.16" fill="url(#spk)" opacity="0.68"/>
<circle cx="420.2" cy="182.6" r="1.07" fill="url(#spk)" opacity="0.55"/>
<circle cx="435.0" cy="130.2" r="1.52" fill="url(#spk)" opacity="0.30"/>
<circle cx="499.4" cy="140.9" r="1.63" fill="url(#spk)" opacity="0.50"/>
<circle cx="414.3" cy="185.3" r="1.05" fill="url(#spk)" opacity="0.30"/>
<circle cx="507.9" cy="139.1" r="1.25" fill="url(#spk)" opacity="0.56"/>
<circle cx="448.8" cy="172.7" r="1.24" fill="url(#spk)" opacity="0.31"/>
<circle cx="444.6" cy="111.4" r="1.43" fill="url(#spk)" opacity="0.53"/>
<circle cx="458.6" cy="136.3" r="1.48" fill="url(#spk)" opacity="0.35"/>
<circle cx="450.6" cy="118.7" r="1.33" fill="url(#spk)" opacity="0.68"/>
<circle cx="453.7" cy="177.5" r="1.69" fill="url(#spk)" opacity="0.32"/>
<circle cx="448.5" cy="149.7" r="1.31" fill="url(#spk)" opacity="0.59"/>
<circle cx="479.7" cy="121.6" r="1.24" fill="url(#spk)" opacity="0.61"/>
<circle cx="431.9" cy="111.0" r="1.61" fill="url(#spk)" opacity="0.41"/>
<circle cx="419.5" cy="138.6" r="1.67" fill="url(#spk)" opacity="0.56"/>
<circle cx="449.6" cy="111.4" r="1.70" fill="url(#spk)" opacity="0.44"/>
<circle cx="410.7" cy="144.0" r="1.14" fill="url(#spk)" opacity="0.40"/>
<circle cx="451.1" cy="164.4" r="1.16" fill="url(#spk)" opacity="0.40"/>
<circle cx="456.4" cy="129.3" r="1.37" fill="url(#spk)" opacity="0.29"/>
<circle cx="489.0" cy="117.4" r="1.77" fill="url(#spk)" opacity="0.60"/>
<circle cx="413.1" cy="133.6" r="1.50" fill="url(#spk)" opacity="0.31"/>
<circle cx="445.4" cy="117.2" r="1.50" fill="url(#spk)" opacity="0.37"/>
<circle cx="488.5" cy="174.1" r="1.26" fill="url(#spk)" opacity="0.32"/>
<circle cx="438.8" cy="111.4" r="1.79" fill="url(#spk)" opacity="0.66"/>
<circle cx="494.8" cy="165.5" r="1.15" fill="url(#spk)" opacity="0.53"/>
<circle cx="481.5" cy="131.3" r="1.45" fill="url(#spk)" opacity="0.50"/>
<circle cx="405.5" cy="164.4" r="1.54" fill="url(#spk)" opacity="0.55"/>
<circle cx="444.1" cy="168.0" r="1.65" fill="url(#spk)" opacity="0.66"/>
<circle cx="486.9" cy="114.6" r="1.65" fill="url(#spk)" opacity="0.57"/>
<circle cx="460.0" cy="166.8" r="1.31" fill="url(#spk)" opacity="0.52"/>
<circle cx="476.4" cy="182.6" r="1.22" fill="url(#spk)" opacity="0.43"/>
<circle cx="512.1" cy="150.9" r="1.78" fill="url(#spk)" opacity="0.52"/>
<circle cx="476.7" cy="157.4" r="1.44" fill="url(#spk)" opacity="0.74"/>
<circle cx="462.2" cy="130.4" r="1.23" fill="url(#spk)" opacity="0.55"/>
<circle cx="495.9" cy="117.9" r="1.11" fill="url(#spk)" opacity="0.50"/>
<circle cx="449.2" cy="165.8" r="1.64" fill="url(#spk)" opacity="0.70"/>
<circle cx="402.0" cy="172.1" r="1.68" fill="url(#spk)" opacity="0.31"/>
<circle cx="431.4" cy="120.6" r="1.46" fill="url(#spk)" opacity="0.31"/>
<circle cx="467.6" cy="112.8" r="1.31" fill="url(#spk)" opacity="0.65"/>
<circle cx="507.4" cy="132.9" r="1.53" fill="url(#spk)" opacity="0.72"/>
<circle cx="469.0" cy="155.8" r="1.78" fill="url(#spk)" opacity="0.30"/>
<circle cx="432.7" cy="133.9" r="1.46" fill="url(#spk)" opacity="0.29"/>
<circle cx="512.4" cy="184.2" r="1.63" fill="url(#spk)" opacity="0.28"/>
<circle cx="445.8" cy="169.7" r="1.71" fill="url(#spk)" opacity="0.55"/>
<circle cx="426.4" cy="180.2" r="1.61" fill="url(#spk)" opacity="0.34"/>
<circle cx="462.9" cy="153.6" r="1.39" fill="url(#spk)" opacity="0.54"/>
<circle cx="439.5" cy="166.7" r="1.14" fill="url(#spk)" opacity="0.59"/>
<circle cx="413.3" cy="183.1" r="1.56" fill="url(#spk)" opacity="0.29"/>
<circle cx="480.9" cy="106.3" r="1.67" fill="url(#spk)" opacity="0.69"/>
<circle cx="478.5" cy="151.5" r="1.77" fill="url(#spk)" opacity="0.40"/>
<circle cx="510.1" cy="119.0" r="1.12" fill="url(#spk)" opacity="0.54"/>
<circle cx="416.2" cy="170.0" r="1.09" fill="url(#spk)" opacity="0.45"/>
<circle cx="503.1" cy="122.8" r="1.51" fill="url(#spk)" opacity="0.44"/>
<circle cx="490.4" cy="165.5" r="1.66" fill="url(#spk)" opacity="0.47"/>
<circle cx="429.2" cy="131.2" r="1.06" fill="url(#spk)" opacity="0.28"/>
<circle cx="454.7" cy="158.0" r="1.49" fill="url(#spk)" opacity="0.48"/>
<circle cx="471.6" cy="160.3" r="1.21" fill="url(#spk)" opacity="0.40"/>
<circle cx="436.2" cy="179.5" r="1.80" fill="url(#spk)" opacity="0.45"/>
<circle cx="412.9" cy="176.5" r="1.29" fill="url(#spk)" opacity="0.36"/>
<circle cx="494.9" cy="140.0" r="1.07" fill="url(#spk)" opacity="0.44"/>
<circle cx="419.3" cy="161.1" r="1.63" fill="url(#spk)" opacity="0.61"/>
<circle cx="456.0" cy="118.6" r="1.24" fill="url(#spk)" opacity="0.74"/>
<circle cx="450.0" cy="111.5" r="1.34" fill="url(#spk)" opacity="0.37"/>
<circle cx="502.3" cy="163.2" r="1.10" fill="url(#spk)" opacity="0.69"/>
<circle cx="463.6" cy="179.4" r="1.26" fill="url(#spk)" opacity="0.57"/>
<circle cx="448.5" cy="165.9" r="1.11" fill="url(#spk)" opacity="0.33"/>
<circle cx="510.6" cy="146.7" r="1.21" fill="url(#spk)" opacity="0.29"/>
<circle cx="440.4" cy="156.1" r="1.46" fill="url(#spk)" opacity="0.70"/>
<circle cx="482.5" cy="164.6" r="1.24" fill="url(#spk)" opacity="0.39"/>
<circle cx="427.1" cy="151.1" r="1.53" fill="url(#spk)" opacity="0.33"/>
<circle cx="485.9" cy="133.8" r="1.72" fill="url(#spk)" opacity="0.59"/>
<circle cx="485.2" cy="174.7" r="1.46" fill="url(#spk)" opacity="0.61"/>
<circle cx="493.9" cy="134.3" r="1.02" fill="url(#spk)" opacity="0.70"/>
<circle cx="455.3" cy="179.1" r="1.77" fill="url(#spk)" opacity="0.52"/>
<circle cx="425.8" cy="170.4" r="1.16" fill="url(#spk)" opacity="0.43"/>
<circle cx="471.8" cy="169.8" r="1.28" fill="url(#spk)" opacity="0.43"/>
<circle cx="503.1" cy="173.3" r="1.42" fill="url(#spk)" opacity="0.38"/>
<circle cx="435.6" cy="186.1" r="1.50" fill="url(#spk)" opacity="0.58"/>
<circle cx="403.1" cy="186.3" r="1.27" fill="url(#spk)" opacity="0.72"/>
<circle cx="421.6" cy="145.4" r="1.35" fill="url(#spk)" opacity="0.32"/>
<circle cx="505.7" cy="135.0" r="1.50" fill="url(#spk)" opacity="0.46"/>
<circle cx="401.5" cy="164.8" r="1.37" fill="url(#spk)" opacity="0.45"/>
<circle cx="406.9" cy="184.5" r="1.23" fill="url(#spk)" opacity="0.32"/>
<circle cx="411.9" cy="156.2" r="1.33" fill="url(#spk)" opacity="0.56"/>
<circle cx="501.0" cy="105.5" r="1.31" fill="url(#spk)" opacity="0.74"/>
<circle cx="443.9" cy="106.5" r="1.23" fill="url(#spk)" opacity="0.41"/>
<circle cx="478.5" cy="142.2" r="1.48" fill="url(#spk)" opacity="0.62"/>
<circle cx="480.1" cy="169.4" r="1.41" fill="url(#spk)" opacity="0.70"/>
<circle cx="449.6" cy="177.8" r="1.33" fill="url(#spk)" opacity="0.41"/>
<circle cx="483.1" cy="134.8" r="1.57" fill="url(#spk)" opacity="0.71"/>
<circle cx="452.6" cy="146.7" r="1.65" fill="url(#spk)" opacity="0.63"/>
<circle cx="461.7" cy="146.3" r="1.52" fill="url(#spk)" opacity="0.58"/>
<circle cx="435.3" cy="111.2" r="1.27" fill="url(#spk)" opacity="0.37"/>
<circle cx="401.0" cy="103.4" r="1.75" fill="url(#spk)" opacity="0.41"/>
<circle cx="467.5" cy="147.2" r="1.08" fill="url(#spk)" opacity="0.33"/>
<circle cx="430.7" cy="145.6" r="1.64" fill="url(#spk)" opacity="0.70"/>
<circle cx="431.7" cy="175.8" r="1.34" fill="url(#spk)" opacity="0.66"/>
<circle cx="499.6" cy="118.5" r="1.32" fill="url(#spk)" opacity="0.32"/>
<circle cx="441.5" cy="174.8" r="1.67" fill="url(#spk)" opacity="0.53"/>
<circle cx="412.3" cy="126.1" r="1.52" fill="url(#spk)" opacity="0.38"/>
<circle cx="471.7" cy="148.5" r="1.78" fill="url(#spk)" opacity="0.64"/>
<circle cx="461.3" cy="162.6" r="1.70" fill="url(#spk)" opacity="0.55"/>
<circle cx="407.3" cy="115.5" r="1.09" fill="url(#spk)" opacity="0.72"/>
<circle cx="440.0" cy="182.7" r="1.40" fill="url(#spk)" opacity="0.62"/>
<circle cx="469.5" cy="183.7" r="1.61" fill="url(#spk)" opacity="0.33"/>
<circle cx="432.2" cy="184.7" r="1.07" fill="url(#spk)" opacity="0.46"/>
<circle cx="511.6" cy="103.5" r="1.43" fill="url(#spk)" opacity="0.55"/>
<circle cx="490.6" cy="157.3" r="1.79" fill="url(#spk)" opacity="0.71"/>
<circle cx="457.5" cy="159.6" r="1.19" fill="url(#spk)" opacity="0.45"/>
<circle cx="503.7" cy="177.1" r="1.09" fill="url(#spk)" opacity="0.37"/>
<circle cx="404.7" cy="120.2" r="1.23" fill="url(#spk)" opacity="0.41"/>
<circle cx="426.0" cy="113.7" r="1.28" fill="url(#spk)" opacity="0.40"/>
<circle cx="503.6" cy="171.2" r="1.23" fill="url(#spk)" opacity="0.35"/>
<circle cx="458.0" cy="125.3" r="1.35" fill="url(#spk)" opacity="0.44"/>
<circle cx="419.9" cy="108.8" r="1.67" fill="url(#spk)" opacity="0.40"/>
<circle cx="464.9" cy="111.0" r="1.41" fill="url(#spk)" opacity="0.52"/>
<circle cx="482.9" cy="157.4" r="1.47" fill="url(#spk)" opacity="0.70"/>
<circle cx="468.6" cy="148.3" r="1.09" fill="url(#spk)" opacity="0.73"/>
<circle cx="406.0" cy="166.0" r="1.05" fill="url(#spk)" opacity="0.35"/>
<circle cx="404.9" cy="171.0" r="1.76" fill="url(#spk)" opacity="0.55"/>
<circle cx="446.6" cy="103.5" r="1.28" fill="url(#spk)" opacity="0.60"/>
<circle cx="402.6" cy="181.6" r="1.76" fill="url(#spk)" opacity="0.35"/>
<circle cx="410.3" cy="177.1" r="1.27" fill="url(#spk)" opacity="0.53"/>
<circle cx="473.0" cy="181.6" r="1.51" fill="url(#spk)" opacity="0.37"/>
<circle cx="450.1" cy="167.8" r="1.53" fill="url(#spk)" opacity="0.45"/>
<circle cx="410.4" cy="135.5" r="1.07" fill="url(#spk)" opacity="0.43"/>
<circle cx="499.3" cy="124.1" r="1.06" fill="url(#spk)" opacity="0.66"/>
<circle cx="442.2" cy="179.9" r="1.35" fill="url(#spk)" opacity="0.39"/>
<circle cx="500.1" cy="138.6" r="1.10" fill="url(#spk)" opacity="0.53"/>
<circle cx="469.3" cy="144.2" r="1.24" fill="url(#spk)" opacity="0.56"/>
<circle cx="470.6" cy="161.9" r="1.16" fill="url(#spk)" opacity="0.44"/>
<circle cx="448.5" cy="161.1" r="1.25" fill="url(#spk)" opacity="0.72"/>
<circle cx="476.3" cy="161.5" r="1.36" fill="url(#spk)" opacity="0.44"/>
<circle cx="428.2" cy="155.6" r="1.25" fill="url(#spk)" opacity="0.43"/>
<circle cx="429.7" cy="146.0" r="1.27" fill="url(#spk)" opacity="0.61"/>
<circle cx="499.1" cy="167.7" r="1.39" fill="url(#spk)" opacity="0.51"/>
<circle cx="423.7" cy="136.5" r="1.55" fill="url(#spk)" opacity="0.62"/>
<circle cx="444.2" cy="125.3" r="1.03" fill="url(#spk)" opacity="0.35"/>
<circle cx="484.5" cy="179.6" r="1.80" fill="url(#spk)" opacity="0.35"/>
<circle cx="437.9" cy="174.3" r="1.34" fill="url(#spk)" opacity="0.63"/>
<circle cx="441.9" cy="163.5" r="1.74" fill="url(#spk)" opacity="0.46"/>
<circle cx="503.0" cy="117.4" r="1.01" fill="url(#spk)" opacity="0.68"/>
<circle cx="424.0" cy="107.1" r="1.05" fill="url(#spk)" opacity="0.39"/>
<circle cx="427.9" cy="180.7" r="1.08" fill="url(#spk)" opacity="0.39"/>
<circle cx="500.5" cy="182.4" r="1.73" fill="url(#spk)" opacity="0.69"/>
<circle cx="431.7" cy="126.2" r="1.33" fill="url(#spk)" opacity="0.45"/>
<circle cx="438.0" cy="156.1" r="1.68" fill="url(#spk)" opacity="0.33"/>
<circle cx="499.9" cy="104.8" r="1.56" fill="url(#spk)" opacity="0.38"/>
<circle cx="436.9" cy="136.3" r="1.07" fill="url(#spk)" opacity="0.64"/>
<circle cx="512.9" cy="162.4" r="1.29" fill="url(#spk)" opacity="0.40"/>
<circle cx="493.1" cy="133.6" r="1.27" fill="url(#spk)" opacity="0.54"/>
<circle cx="496.0" cy="171.0" r="1.36" fill="url(#spk)" opacity="0.67"/>
<circle cx="426.2" cy="179.9" r="1.60" fill="url(#spk)" opacity="0.57"/>
<circle cx="425.2" cy="114.8" r="1.07" fill="url(#spk)" opacity="0.63"/>
<circle cx="485.4" cy="161.0" r="1.74" fill="url(#spk)" opacity="0.74"/>
<circle cx="493.7" cy="134.8" r="1.38" fill="url(#spk)" opacity="0.42"/>
<circle cx="426.0" cy="117.9" r="1.29" fill="url(#spk)" opacity="0.69"/>
<circle cx="424.0" cy="132.6" r="1.56" fill="url(#spk)" opacity="0.54"/>
<circle cx="428.2" cy="143.7" r="1.22" fill="url(#spk)" opacity="0.37"/>
<circle cx="416.3" cy="178.5" r="1.57" fill="url(#spk)" opacity="0.34"/>
<circle cx="448.1" cy="167.5" r="1.33" fill="url(#spk)" opacity="0.43"/>
<circle cx="457.3" cy="103.7" r="1.38" fill="url(#spk)" opacity="0.34"/>
<circle cx="471.4" cy="108.0" r="1.15" fill="url(#spk)" opacity="0.64"/>
<circle cx="407.0" cy="186.7" r="1.16" fill="url(#spk)" opacity="0.54"/>
<circle cx="422.4" cy="150.0" r="1.69" fill="url(#spk)" opacity="0.30"/>
<circle cx="414.0" cy="154.5" r="1.46" fill="url(#spk)" opacity="0.69"/>
<circle cx="431.1" cy="132.9" r="1.34" fill="url(#spk)" opacity="0.56"/>
<circle cx="421.7" cy="173.1" r="1.62" fill="url(#spk)" opacity="0.49"/>
<circle cx="506.0" cy="150.0" r="1.73" fill="url(#spk)" opacity="0.35"/>
<circle cx="442.8" cy="153.0" r="1.13" fill="url(#spk)" opacity="0.50"/>
<circle cx="416.4" cy="124.2" r="1.80" fill="url(#spk)" opacity="0.71"/>
<circle cx="475.7" cy="168.5" r="1.01" fill="url(#spk)" opacity="0.55"/>
<circle cx="510.2" cy="121.3" r="1.49" fill="url(#spk)" opacity="0.50"/>
<circle cx="490.1" cy="114.8" r="1.21" fill="url(#spk)" opacity="0.57"/>
<circle cx="473.7" cy="153.4" r="1.20" fill="url(#spk)" opacity="0.54"/>
<circle cx="443.3" cy="173.1" r="1.40" fill="url(#spk)" opacity="0.57"/>
<circle cx="446.1" cy="127.9" r="1.48" fill="url(#spk)" opacity="0.37"/>
<circle cx="434.8" cy="128.6" r="1.35" fill="url(#spk)" opacity="0.35"/>
<circle cx="403.4" cy="122.6" r="1.25" fill="rgb(30,30,30)" stroke="rgb(178,178,178)" stroke-width="0.55"/>
<circle cx="493.5" cy="176.4" r="1.25" fill="rgb(30,30,30)" stroke="rgb(141,141,141)" stroke-width="0.55"/>
<circle cx="402.4" cy="121.8" r="1.25" fill="rgb(30,30,30)" stroke="rgb(106,106,106)" stroke-width="0.55"/>
<circle cx="430.2" cy="128.6" r="1.25" fill="rgb(30,30,30)" stroke="rgb(146,146,146)" stroke-width="0.55"/>
<circle cx="466.4" cy="115.7" r="1.25" fill="rgb(30,30,30)" stroke="rgb(147,147,147)" stroke-width="0.55"/>
<circle cx="457.0" cy="129.2" r="1.25" fill="rgb(30,30,30)" stroke="rgb(126,126,126)" stroke-width="0.55"/>
<circle cx="501.2" cy="153.5" r="1.25" fill="rgb(30,30,30)" stroke="rgb(121,121,121)" stroke-width="0.55"/>
<circle cx="425.5" cy="126.3" r="1.25" fill="rgb(30,30,30)" stroke="rgb(114,114,114)" stroke-width="0.55"/>
<circle cx="414.5" cy="108.4" r="1.25" fill="rgb(30,30,30)" stroke="rgb(187,187,187)" stroke-width="0.55"/>
<circle cx="419.6" cy="152.3" r="1.25" fill="rgb(30,30,30)" stroke="rgb(171,171,171)" stroke-width="0.55"/>
<circle cx="456.8" cy="164.4" r="1.25" fill="rgb(30,30,30)" stroke="rgb(115,115,115)" stroke-width="0.55"/>
<circle cx="434.0" cy="113.4" r="1.25" fill="rgb(30,30,30)" stroke="rgb(111,111,111)" stroke-width="0.55"/>
<circle cx="452.1" cy="139.1" r="1.25" fill="rgb(30,30,30)" stroke="rgb(178,178,178)" stroke-width="0.55"/>
<circle cx="477.7" cy="110.1" r="1.25" fill="rgb(30,30,30)" stroke="rgb(126,126,126)" stroke-width="0.55"/>
<circle cx="437.4" cy="105.9" r="1.25" fill="rgb(30,30,30)" stroke="rgb(127,127,127)" stroke-width="0.55"/>
<circle cx="475.2" cy="135.0" r="1.25" fill="rgb(30,30,30)" stroke="rgb(167,167,167)" stroke-width="0.55"/>
<circle cx="404.2" cy="127.9" r="1.25" fill="rgb(30,30,30)" stroke="rgb(112,112,112)" stroke-width="0.55"/>
<circle cx="462.1" cy="175.8" r="1.25" fill="rgb(30,30,30)" stroke="rgb(126,126,126)" stroke-width="0.55"/>
<circle cx="501.8" cy="105.6" r="1.25" fill="rgb(30,30,30)" stroke="rgb(122,122,122)" stroke-width="0.55"/>
<circle cx="504.8" cy="157.2" r="1.25" fill="rgb(30,30,30)" stroke="rgb(185,185,185)" stroke-width="0.55"/>
<circle cx="464.9" cy="164.3" r="1.25" fill="rgb(30,30,30)" stroke="rgb(171,171,171)" stroke-width="0.55"/>
<circle cx="510.1" cy="138.5" r="1.25" fill="rgb(30,30,30)" stroke="rgb(115,115,115)" stroke-width="0.55"/>
<circle cx="427.9" cy="145.3" r="1.25" fill="rgb(30,30,30)" stroke="rgb(141,141,141)" stroke-width="0.55"/>
<circle cx="434.7" cy="124.6" r="1.25" fill="rgb(30,30,30)" stroke="rgb(147,147,147)" stroke-width="0.55"/>
<circle cx="451.3" cy="125.1" r="1.25" fill="rgb(30,30,30)" stroke="rgb(116,116,116)" stroke-width="0.55"/>
<circle cx="458.0" cy="108.8" r="1.25" fill="rgb(30,30,30)" stroke="rgb(148,148,148)" stroke-width="0.55"/>
<circle cx="492.1" cy="178.3" r="1.25" fill="rgb(30,30,30)" stroke="rgb(187,187,187)" stroke-width="0.55"/>
<circle cx="451.2" cy="106.8" r="1.25" fill="rgb(30,30,30)" stroke="rgb(145,145,145)" stroke-width="0.55"/>
<circle cx="407.3" cy="115.7" r="1.25" fill="rgb(30,30,30)" stroke="rgb(108,108,108)" stroke-width="0.55"/>
<circle cx="479.0" cy="163.5" r="1.25" fill="rgb(30,30,30)" stroke="rgb(169,169,169)" stroke-width="0.55"/>
<polygon points="433.67,104.67 437.43,104.67 437.43,104.02 440.67,105.82 437.43,107.62 437.43,106.97 433.67,106.97" fill="#25b5ec"/>
<polygon points="399.15,113.52 402.91,113.52 402.91,112.87 406.15,114.67 402.91,116.47 402.91,115.82 399.15,115.82" fill="#25b5ec"/>
<polygon points="448.49,111.97 452.25,111.97 452.25,111.32 455.49,113.12 452.25,114.92 452.25,114.27 448.49,114.27" fill="#25b5ec"/>
<polygon points="427.47,122.37 431.23,122.37 431.23,121.72 434.47,123.52 431.23,125.32 431.23,124.67 427.47,124.67" fill="#25b5ec"/>
<polygon points="458.89,123.47 462.65,123.47 462.65,122.82 465.89,124.62 462.65,126.42 462.65,125.78 458.89,125.78" fill="#25b5ec"/>
<polygon points="450.70,136.30 454.46,136.30 454.46,135.66 457.70,137.46 454.46,139.26 454.46,138.61 450.70,138.61" fill="#25b5ec"/>
<polygon points="468.40,134.09 472.16,134.09 472.16,133.44 475.40,135.24 472.16,137.04 472.16,136.40 468.40,136.40" fill="#25b5ec"/>
<polygon points="480.13,138.29 483.89,138.29 483.89,137.65 487.13,139.45 483.89,141.25 483.89,140.60 480.13,140.60" fill="#25b5ec"/>
<polygon points="433.00,143.38 436.76,143.38 436.76,142.74 440.00,144.54 436.76,146.34 436.76,145.69 433.00,145.69" fill="#25b5ec"/>
<polygon points="455.13,144.49 458.89,144.49 458.89,143.84 462.13,145.64 458.89,147.44 458.89,146.79 455.13,146.79" fill="#25b5ec"/>
<polygon points="474.38,144.93 478.14,144.93 478.14,144.28 481.38,146.08 478.14,147.88 478.14,147.24 474.38,147.24" fill="#25b5ec"/>
<polygon points="410.88,153.34 414.64,153.34 414.64,152.69 417.88,154.49 414.64,156.29 414.64,155.64 410.88,155.64" fill="#25b5ec"/>
<polygon points="405.35,157.10 409.11,157.10 409.11,156.45 412.35,158.25 409.11,160.05 409.11,159.40 405.35,159.40" fill="#25b5ec"/>
<polygon points="432.26,161.08 428.50,161.08 428.50,160.43 425.26,162.23 428.50,164.03 428.50,163.39 432.26,163.39" fill="#25b5ec"/>
<polygon points="491.19,157.10 494.95,157.10 494.95,156.45 498.19,158.25 494.95,160.05 494.95,159.40 491.19,159.40" fill="#25b5ec"/>
<polygon points="409.33,165.06 413.09,165.06 413.09,164.42 416.33,166.22 413.09,168.02 413.09,167.37 409.33,167.37" fill="#25b5ec"/>
<polygon points="456.68,164.40 460.44,164.40 460.44,163.75 463.68,165.55 460.44,167.35 460.44,166.71 456.68,166.71" fill="#25b5ec"/>
<polygon points="492.08,166.17 495.84,166.17 495.84,165.52 499.08,167.32 495.84,169.12 495.84,168.48 492.08,168.48" fill="#25b5ec"/>
<polygon points="454.46,171.70 458.22,171.70 458.22,171.05 461.46,172.85 458.22,174.65 458.22,174.01 454.46,174.01" fill="#25b5ec"/>
<polygon points="498.71,172.81 502.47,172.81 502.47,172.16 505.71,173.96 502.47,175.76 502.47,175.11 498.71,175.11" fill="#25b5ec"/>
<polygon points="411.24,175.91 407.48,175.91 407.48,175.26 404.24,177.06 407.48,178.86 407.48,178.21 411.24,178.21" fill="#25b5ec"/>
<polygon points="435.22,175.91 438.98,175.91 438.98,175.26 442.22,177.06 438.98,178.86 438.98,178.21 435.22,178.21" fill="#25b5ec"/>
<text x="403.00" y="112.50" font-size="9.2" text-anchor="start" fill="#fff" font-weight="normal" >ITP</text>
<rect x="401.50" y="184.80" width="13.00" height="1.90" fill="#fff"/>
<rect x="282.00" y="191.00" width="75.00" height="75.00" fill="#000"/>
<circle cx="288.2" cy="241.6" r="2.02" fill="rgb(49,49,49)" stroke="rgb(186,186,186)" stroke-width="0.75"/>
<circle cx="322.7" cy="236.2" r="2.13" fill="rgb(51,51,51)" stroke="rgb(119,119,119)" stroke-width="0.75"/>
<circle cx="339.5" cy="220.4" r="1.63" fill="rgb(39,39,39)" stroke="rgb(100,100,100)" stroke-width="0.75"/>
<circle cx="288.5" cy="226.0" r="1.50" fill="rgb(27,27,27)" stroke="rgb(169,169,169)" stroke-width="0.75"/>
<circle cx="322.7" cy="211.9" r="2.01" fill="rgb(27,27,27)" stroke="rgb(172,172,172)" stroke-width="0.75"/>
<circle cx="315.4" cy="257.4" r="1.78" fill="rgb(21,21,21)" stroke="rgb(155,155,155)" stroke-width="0.75"/>
<circle cx="312.9" cy="195.1" r="1.60" fill="rgb(44,44,44)" stroke="rgb(150,150,150)" stroke-width="0.75"/>
<circle cx="322.1" cy="216.1" r="1.83" fill="rgb(26,26,26)" stroke="rgb(100,100,100)" stroke-width="0.75"/>
<circle cx="328.1" cy="233.5" r="1.87" fill="rgb(30,30,30)" stroke="rgb(159,159,159)" stroke-width="0.75"/>
<circle cx="333.5" cy="206.5" r="1.42" fill="rgb(22,22,22)" stroke="rgb(153,153,153)" stroke-width="0.75"/>
<circle cx="347.0" cy="252.9" r="2.02" fill="rgb(31,31,31)" stroke="rgb(117,117,117)" stroke-width="0.75"/>
<circle cx="330.3" cy="227.1" r="1.58" fill="rgb(49,49,49)" stroke="rgb(163,163,163)" stroke-width="0.75"/>
<circle cx="353.9" cy="219.6" r="2.11" fill="rgb(165,165,165)" stroke="rgb(116,116,116)" stroke-width="0.75"/>
<circle cx="330.9" cy="198.3" r="1.83" fill="rgb(21,21,21)" stroke="rgb(132,132,132)" stroke-width="0.75"/>
<circle cx="303.6" cy="213.4" r="1.89" fill="rgb(28,28,28)" stroke="rgb(152,152,152)" stroke-width="0.75"/>
<circle cx="295.2" cy="234.7" r="1.60" fill="rgb(33,33,33)" stroke="rgb(162,162,162)" stroke-width="0.75"/>
<circle cx="289.9" cy="213.4" r="1.75" fill="rgb(31,31,31)" stroke="rgb(139,139,139)" stroke-width="0.75"/>
<circle cx="303.5" cy="197.1" r="1.41" fill="rgb(166,166,166)" stroke="rgb(132,132,132)" stroke-width="0.75"/>
<circle cx="293.2" cy="234.0" r="1.59" fill="rgb(22,22,22)" stroke="rgb(120,120,120)" stroke-width="0.75"/>
<circle cx="332.2" cy="215.0" r="2.16" fill="rgb(50,50,50)" stroke="rgb(151,151,151)" stroke-width="0.75"/>
<path d="M313.0,199.9 q-1.3,5.2 2.0,6.4" fill="none" stroke="rgb(110,110,110)" stroke-width="0.6"/>
<path d="M290.1,242.2 q2.2,0.5 -0.1,6.5" fill="none" stroke="rgb(110,110,110)" stroke-width="0.6"/>
<path d="M319.4,213.3 q-1.3,-4.0 -1.0,-6.9" fill="none" stroke="rgb(110,110,110)" stroke-width="0.6"/>
<path d="M290.2,227.0 q5.8,-3.6 6.3,-7.0" fill="none" stroke="rgb(110,110,110)" stroke-width="0.6"/>
<circle cx="298.4" cy="257.4" r="0.6" fill="rgb(105,105,105)"/>
<circle cx="353.7" cy="210.1" r="0.6" fill="rgb(90,90,90)"/>
<circle cx="317.6" cy="251.1" r="0.6" fill="rgb(73,73,73)"/>
<circle cx="314.9" cy="214.5" r="0.6" fill="rgb(80,80,80)"/>
<circle cx="310.5" cy="221.7" r="0.6" fill="rgb(67,67,67)"/>
<circle cx="347.3" cy="201.4" r="0.6" fill="rgb(58,58,58)"/>
<circle cx="292.5" cy="257.2" r="0.6" fill="rgb(102,102,102)"/>
<circle cx="298.4" cy="219.3" r="0.6" fill="rgb(102,102,102)"/>
<circle cx="303.7" cy="243.2" r="0.6" fill="rgb(87,87,87)"/>
<circle cx="287.6" cy="193.9" r="0.6" fill="rgb(66,66,66)"/>
<circle cx="344.6" cy="242.9" r="0.6" fill="rgb(109,109,109)"/>
<circle cx="318.7" cy="208.5" r="0.6" fill="rgb(74,74,74)"/>
<circle cx="326.9" cy="225.0" r="0.6" fill="rgb(83,83,83)"/>
<circle cx="347.6" cy="241.2" r="0.6" fill="rgb(103,103,103)"/>
<circle cx="319.1" cy="204.5" r="0.6" fill="rgb(52,52,52)"/>
<circle cx="303.2" cy="230.5" r="0.6" fill="rgb(62,62,62)"/>
<circle cx="321.8" cy="253.0" r="0.6" fill="rgb(93,93,93)"/>
<circle cx="319.5" cy="203.9" r="0.6" fill="rgb(104,104,104)"/>
<circle cx="304.8" cy="226.1" r="0.6" fill="rgb(101,101,101)"/>
<circle cx="299.9" cy="205.4" r="0.6" fill="rgb(63,63,63)"/>
<circle cx="309.1" cy="202.5" r="0.6" fill="rgb(97,97,97)"/>
<circle cx="336.7" cy="227.8" r="0.6" fill="rgb(55,55,55)"/>
<circle cx="295.1" cy="225.3" r="0.6" fill="rgb(85,85,85)"/>
<circle cx="355.7" cy="239.0" r="0.6" fill="rgb(80,80,80)"/>
<circle cx="300.2" cy="254.6" r="0.6" fill="rgb(101,101,101)"/>
<circle cx="302.9" cy="243.6" r="0.6" fill="rgb(97,97,97)"/>
<circle cx="292.0" cy="216.6" r="0.6" fill="rgb(52,52,52)"/>
<circle cx="311.6" cy="227.5" r="0.6" fill="rgb(74,74,74)"/>
<circle cx="310.1" cy="241.2" r="0.6" fill="rgb(54,54,54)"/>
<circle cx="332.8" cy="253.2" r="0.6" fill="rgb(100,100,100)"/>
<polygon points="333.42,208.06 336.80,208.06 336.80,207.37 340.22,209.27 336.80,211.17 336.80,210.49 333.42,210.49" fill="#f5ec12"/>
<polygon points="321.00,224.58 324.38,224.58 324.38,223.90 327.80,225.80 324.38,227.70 324.38,227.01 321.00,227.01" fill="#19d6ee"/>
<polygon points="321.00,256.01 324.38,256.01 324.38,255.33 327.80,257.23 324.38,259.13 324.38,258.44 321.00,258.44" fill="#f5ec12"/>
<text x="285.00" y="201.50" font-size="8.8" text-anchor="start" fill="#fff" font-weight="normal" >HC</text>
<rect x="284.20" y="262.80" width="5.80" height="1.50" fill="#fff"/>
<rect x="360.50" y="191.00" width="75.00" height="75.00" fill="#000"/>
<circle cx="390.8" cy="223.1" r="1.52" fill="rgb(24,24,24)" stroke="rgb(175,175,175)" stroke-width="0.75"/>
<circle cx="419.7" cy="219.3" r="1.47" fill="rgb(49,49,49)" stroke="rgb(160,160,160)" stroke-width="0.75"/>
<circle cx="371.3" cy="199.8" r="2.20" fill="rgb(32,32,32)" stroke="rgb(169,169,169)" stroke-width="0.75"/>
<circle cx="383.1" cy="198.7" r="1.69" fill="rgb(42,42,42)" stroke="rgb(155,155,155)" stroke-width="0.75"/>
<circle cx="372.0" cy="247.9" r="2.14" fill="rgb(48,48,48)" stroke="rgb(144,144,144)" stroke-width="0.75"/>
<circle cx="414.5" cy="194.2" r="1.65" fill="rgb(30,30,30)" stroke="rgb(101,101,101)" stroke-width="0.75"/>
<circle cx="395.9" cy="262.0" r="1.51" fill="rgb(28,28,28)" stroke="rgb(180,180,180)" stroke-width="0.75"/>
<circle cx="408.7" cy="255.9" r="1.57" fill="rgb(21,21,21)" stroke="rgb(101,101,101)" stroke-width="0.75"/>
<circle cx="379.9" cy="262.1" r="2.28" fill="rgb(46,46,46)" stroke="rgb(153,153,153)" stroke-width="0.75"/>
<circle cx="414.2" cy="248.2" r="2.13" fill="rgb(21,21,21)" stroke="rgb(169,169,169)" stroke-width="0.75"/>
<circle cx="432.0" cy="194.2" r="1.42" fill="rgb(129,129,129)" stroke="rgb(159,159,159)" stroke-width="0.75"/>
<circle cx="369.0" cy="202.0" r="2.02" fill="rgb(29,29,29)" stroke="rgb(153,153,153)" stroke-width="0.75"/>
<circle cx="385.5" cy="216.0" r="1.94" fill="rgb(32,32,32)" stroke="rgb(150,150,150)" stroke-width="0.75"/>
<circle cx="423.5" cy="206.5" r="1.71" fill="rgb(25,25,25)" stroke="rgb(111,111,111)" stroke-width="0.75"/>
<circle cx="422.3" cy="198.2" r="1.56" fill="rgb(50,50,50)" stroke="rgb(149,149,149)" stroke-width="0.75"/>
<circle cx="423.7" cy="257.3" r="1.64" fill="rgb(21,21,21)" stroke="rgb(140,140,140)" stroke-width="0.75"/>
<circle cx="379.1" cy="256.8" r="1.44" fill="rgb(35,35,35)" stroke="rgb(183,183,183)" stroke-width="0.75"/>
<circle cx="402.4" cy="246.9" r="1.70" fill="rgb(36,36,36)" stroke="rgb(143,143,143)" stroke-width="0.75"/>
<circle cx="369.4" cy="211.5" r="1.43" fill="rgb(30,30,30)" stroke="rgb(102,102,102)" stroke-width="0.75"/>
<circle cx="393.2" cy="252.8" r="1.47" fill="rgb(36,36,36)" stroke="rgb(111,111,111)" stroke-width="0.75"/>
<circle cx="403.3" cy="250.5" r="1.64" fill="rgb(20,20,20)" stroke="rgb(179,179,179)" stroke-width="0.75"/>
<circle cx="381.3" cy="216.3" r="1.50" fill="rgb(33,33,33)" stroke="rgb(162,162,162)" stroke-width="0.75"/>
<path d="M386.8,216.0 q-5.1,0.7 -6.6,2.4" fill="none" stroke="rgb(110,110,110)" stroke-width="0.6"/>
<path d="M423.3,219.5 q-1.0,3.9 -2.9,6.9" fill="none" stroke="rgb(110,110,110)" stroke-width="0.6"/>
<path d="M381.6,236.8 q-1.6,-2.2 -1.9,0.7" fill="none" stroke="rgb(110,110,110)" stroke-width="0.6"/>
<path d="M420.3,239.8 q2.4,-3.7 7.3,-3.1" fill="none" stroke="rgb(110,110,110)" stroke-width="0.6"/>
<circle cx="383.8" cy="210.2" r="0.6" fill="rgb(83,83,83)"/>
<circle cx="385.2" cy="261.2" r="0.6" fill="rgb(80,80,80)"/>
<circle cx="374.9" cy="207.5" r="0.6" fill="rgb(94,94,94)"/>
<circle cx="380.8" cy="192.4" r="0.6" fill="rgb(84,84,84)"/>
<circle cx="383.0" cy="197.0" r="0.6" fill="rgb(70,70,70)"/>
<circle cx="424.1" cy="225.5" r="0.6" fill="rgb(87,87,87)"/>
<circle cx="394.1" cy="194.8" r="0.6" fill="rgb(102,102,102)"/>
<circle cx="421.3" cy="263.6" r="0.6" fill="rgb(53,53,53)"/>
<circle cx="365.1" cy="238.1" r="0.6" fill="rgb(64,64,64)"/>
<circle cx="375.3" cy="233.5" r="0.6" fill="rgb(76,76,76)"/>
<circle cx="431.0" cy="237.7" r="0.6" fill="rgb(68,68,68)"/>
<circle cx="365.2" cy="222.5" r="0.6" fill="rgb(96,96,96)"/>
<circle cx="366.6" cy="256.7" r="0.6" fill="rgb(91,91,91)"/>
<circle cx="399.3" cy="244.0" r="0.6" fill="rgb(103,103,103)"/>
<circle cx="382.7" cy="223.4" r="0.6" fill="rgb(101,101,101)"/>
<circle cx="375.7" cy="212.7" r="0.6" fill="rgb(58,58,58)"/>
<circle cx="405.9" cy="202.5" r="0.6" fill="rgb(103,103,103)"/>
<circle cx="406.0" cy="215.0" r="0.6" fill="rgb(96,96,96)"/>
<circle cx="375.2" cy="217.8" r="0.6" fill="rgb(67,67,67)"/>
<circle cx="400.9" cy="197.9" r="0.6" fill="rgb(71,71,71)"/>
<circle cx="394.7" cy="259.5" r="0.6" fill="rgb(81,81,81)"/>
<circle cx="423.3" cy="210.8" r="0.6" fill="rgb(71,71,71)"/>
<circle cx="366.5" cy="231.4" r="0.6" fill="rgb(74,74,74)"/>
<circle cx="378.5" cy="196.8" r="0.6" fill="rgb(97,97,97)"/>
<circle cx="402.7" cy="232.3" r="0.6" fill="rgb(90,90,90)"/>
<circle cx="363.9" cy="239.2" r="0.6" fill="rgb(94,94,94)"/>
<circle cx="423.2" cy="197.8" r="0.6" fill="rgb(63,63,63)"/>
<circle cx="432.2" cy="263.2" r="0.6" fill="rgb(51,51,51)"/>
<circle cx="385.5" cy="203.9" r="0.6" fill="rgb(100,100,100)"/>
<circle cx="418.1" cy="211.2" r="0.6" fill="rgb(86,86,86)"/>
<polygon points="386.34,209.23 389.72,209.23 389.72,208.54 393.14,210.44 389.72,212.34 389.72,211.66 386.34,211.66" fill="#19d6ee"/>
<polygon points="412.95,225.60 416.33,225.60 416.33,224.92 419.75,226.82 416.33,228.72 416.33,228.03 412.95,228.03" fill="#a455e0"/>
<polygon points="428.23,229.26 424.85,229.26 424.85,228.57 421.43,230.47 424.85,232.37 424.85,231.69 428.23,231.69" fill="#f5ec12"/>
<polygon points="423.84,244.17 420.46,244.17 420.46,243.49 417.04,245.39 420.46,247.29 420.46,246.60 423.84,246.60" fill="#f5ec12"/>
<polygon points="375.89,255.57 372.51,255.57 372.51,254.89 369.09,256.79 372.51,258.69 372.51,258.01 375.89,258.01" fill="#f5ec12"/>
<polygon points="384.08,261.13 380.70,261.13 380.70,260.45 377.28,262.35 380.70,264.25 380.70,263.56 384.08,263.56" fill="#f5ec12"/>
<text x="363.50" y="201.50" font-size="8.8" text-anchor="start" fill="#fff" font-weight="normal" >ITP</text>
<rect x="362.70" y="262.80" width="5.80" height="1.50" fill="#fff"/>
<rect x="439.00" y="191.00" width="75.00" height="75.00" fill="#000"/>
<circle cx="454.1" cy="252.1" r="1.70" fill="rgb(25,25,25)" stroke="rgb(164,164,164)" stroke-width="0.75"/>
<circle cx="463.7" cy="224.9" r="2.07" fill="rgb(22,22,22)" stroke="rgb(178,178,178)" stroke-width="0.75"/>
<circle cx="465.2" cy="260.9" r="2.21" fill="rgb(23,23,23)" stroke="rgb(122,122,122)" stroke-width="0.75"/>
<circle cx="506.2" cy="246.6" r="1.83" fill="rgb(35,35,35)" stroke="rgb(177,177,177)" stroke-width="0.75"/>
<circle cx="473.5" cy="219.4" r="1.84" fill="rgb(31,31,31)" stroke="rgb(148,148,148)" stroke-width="0.75"/>
<circle cx="484.5" cy="252.7" r="1.68" fill="rgb(49,49,49)" stroke="rgb(186,186,186)" stroke-width="0.75"/>
<circle cx="506.2" cy="231.8" r="1.73" fill="rgb(33,33,33)" stroke="rgb(161,161,161)" stroke-width="0.75"/>
<circle cx="469.4" cy="243.2" r="2.20" fill="rgb(48,48,48)" stroke="rgb(176,176,176)" stroke-width="0.75"/>
<circle cx="507.3" cy="255.1" r="2.28" fill="rgb(25,25,25)" stroke="rgb(107,107,107)" stroke-width="0.75"/>
<circle cx="462.2" cy="234.0" r="1.48" fill="rgb(39,39,39)" stroke="rgb(121,121,121)" stroke-width="0.75"/>
<circle cx="442.9" cy="259.4" r="2.07" fill="rgb(21,21,21)" stroke="rgb(154,154,154)" stroke-width="0.75"/>
<circle cx="449.1" cy="221.5" r="1.50" fill="rgb(157,157,157)" stroke="rgb(177,177,177)" stroke-width="0.75"/>
<circle cx="489.8" cy="220.1" r="1.61" fill="rgb(28,28,28)" stroke="rgb(141,141,141)" stroke-width="0.75"/>
<circle cx="468.3" cy="238.2" r="2.15" fill="rgb(35,35,35)" stroke="rgb(157,157,157)" stroke-width="0.75"/>
<circle cx="499.5" cy="221.9" r="2.11" fill="rgb(49,49,49)" stroke="rgb(109,109,109)" stroke-width="0.75"/>
<circle cx="478.8" cy="242.8" r="1.72" fill="rgb(29,29,29)" stroke="rgb(130,130,130)" stroke-width="0.75"/>
<circle cx="489.3" cy="230.7" r="2.10" fill="rgb(40,40,40)" stroke="rgb(126,126,126)" stroke-width="0.75"/>
<circle cx="466.3" cy="245.2" r="1.51" fill="rgb(30,30,30)" stroke="rgb(130,130,130)" stroke-width="0.75"/>
<circle cx="482.5" cy="251.0" r="1.65" fill="rgb(44,44,44)" stroke="rgb(189,189,189)" stroke-width="0.75"/>
<circle cx="490.2" cy="233.2" r="1.62" fill="rgb(20,20,20)" stroke="rgb(143,143,143)" stroke-width="0.75"/>
<circle cx="468.0" cy="257.1" r="1.45" fill="rgb(27,27,27)" stroke="rgb(174,174,174)" stroke-width="0.75"/>
<circle cx="475.9" cy="247.9" r="1.48" fill="rgb(32,32,32)" stroke="rgb(174,174,174)" stroke-width="0.75"/>
<circle cx="500.2" cy="253.1" r="2.16" fill="rgb(35,35,35)" stroke="rgb(107,107,107)" stroke-width="0.75"/>
<circle cx="506.1" cy="195.3" r="1.51" fill="rgb(34,34,34)" stroke="rgb(143,143,143)" stroke-width="0.75"/>
<circle cx="466.2" cy="195.1" r="1.77" fill="rgb(43,43,43)" stroke="rgb(165,165,165)" stroke-width="0.75"/>
<circle cx="446.6" cy="237.8" r="1.99" fill="rgb(45,45,45)" stroke="rgb(180,180,180)" stroke-width="0.75"/>
<path d="M452.1,216.5 q-3.0,-1.3 -7.5,0.3" fill="none" stroke="rgb(110,110,110)" stroke-width="0.6"/>
<path d="M450.3,226.4 q-3.4,0.2 -5.3,-4.9" fill="none" stroke="rgb(110,110,110)" stroke-width="0.6"/>
<path d="M468.2,240.8 q-3.2,-2.7 -2.0,-1.5" fill="none" stroke="rgb(110,110,110)" stroke-width="0.6"/>
<path d="M492.5,224.3 q0.6,2.5 -3.4,7.8" fill="none" stroke="rgb(110,110,110)" stroke-width="0.6"/>
<circle cx="471.7" cy="210.5" r="0.6" fill="rgb(79,79,79)"/>
<circle cx="481.4" cy="218.0" r="0.6" fill="rgb(105,105,105)"/>
<circle cx="452.1" cy="209.5" r="0.6" fill="rgb(75,75,75)"/>
<circle cx="471.2" cy="239.1" r="0.6" fill="rgb(104,104,104)"/>
<circle cx="460.7" cy="263.8" r="0.6" fill="rgb(76,76,76)"/>
<circle cx="499.2" cy="221.4" r="0.6" fill="rgb(60,60,60)"/>
<circle cx="446.9" cy="215.5" r="0.6" fill="rgb(108,108,108)"/>
<circle cx="512.4" cy="217.5" r="0.6" fill="rgb(93,93,93)"/>
<circle cx="457.2" cy="194.0" r="0.6" fill="rgb(71,71,71)"/>
<circle cx="464.2" cy="198.6" r="0.6" fill="rgb(58,58,58)"/>
<circle cx="445.5" cy="195.5" r="0.6" fill="rgb(64,64,64)"/>
<circle cx="506.6" cy="215.6" r="0.6" fill="rgb(67,67,67)"/>
<circle cx="500.5" cy="263.9" r="0.6" fill="rgb(74,74,74)"/>
<circle cx="444.9" cy="202.3" r="0.6" fill="rgb(54,54,54)"/>
<circle cx="478.6" cy="232.1" r="0.6" fill="rgb(74,74,74)"/>
<circle cx="468.5" cy="207.1" r="0.6" fill="rgb(88,88,88)"/>
<circle cx="484.2" cy="194.7" r="0.6" fill="rgb(54,54,54)"/>
<circle cx="464.5" cy="253.1" r="0.6" fill="rgb(93,93,93)"/>
<circle cx="509.8" cy="201.3" r="0.6" fill="rgb(103,103,103)"/>
<circle cx="455.9" cy="201.9" r="0.6" fill="rgb(94,94,94)"/>
<circle cx="499.9" cy="251.7" r="0.6" fill="rgb(72,72,72)"/>
<circle cx="459.5" cy="209.8" r="0.6" fill="rgb(96,96,96)"/>
<circle cx="487.4" cy="206.5" r="0.6" fill="rgb(93,93,93)"/>
<circle cx="471.2" cy="260.9" r="0.6" fill="rgb(73,73,73)"/>
<circle cx="478.4" cy="206.2" r="0.6" fill="rgb(86,86,86)"/>
<circle cx="478.1" cy="252.7" r="0.6" fill="rgb(60,60,60)"/>
<circle cx="485.7" cy="214.4" r="0.6" fill="rgb(97,97,97)"/>
<circle cx="445.0" cy="233.3" r="0.6" fill="rgb(50,50,50)"/>
<circle cx="444.3" cy="214.7" r="0.6" fill="rgb(93,93,93)"/>
<circle cx="510.9" cy="216.8" r="0.6" fill="rgb(76,76,76)"/>
<polygon points="475.29,202.94 471.91,202.94 471.91,202.26 468.49,204.16 471.91,206.06 471.91,205.37 475.29,205.37" fill="#f5ec12"/>
<polygon points="500.59,199.29 497.21,199.29 497.21,198.60 493.79,200.50 497.21,202.40 497.21,201.72 500.59,201.72" fill="#f5ec12"/>
<polygon points="478.00,211.71 481.38,211.71 481.38,211.03 484.80,212.93 481.38,214.83 481.38,214.15 478.00,214.15" fill="#19d6ee"/>
<polygon points="506.00,214.93 502.62,214.93 502.62,214.25 499.20,216.15 502.62,218.05 502.62,217.36 506.00,217.36" fill="#a455e0"/>
<polygon points="485.60,227.06 488.98,227.06 488.98,226.38 492.40,228.28 488.98,230.18 488.98,229.50 485.60,229.50" fill="#19d6ee"/>
<polygon points="441.16,237.30 444.54,237.30 444.54,236.61 447.96,238.51 444.54,240.41 444.54,239.73 441.16,239.73" fill="#a455e0"/>
<polygon points="471.64,250.16 468.26,250.16 468.26,249.48 464.84,251.38 468.26,253.28 468.26,252.60 471.64,252.60" fill="#f5ec12"/>
<polygon points="498.17,250.16 501.55,250.16 501.55,249.48 504.97,251.38 501.55,253.28 501.55,252.60 498.17,252.60" fill="#f5ec12"/>
<polygon points="472.37,259.67 468.99,259.67 468.99,258.98 465.57,260.88 468.99,262.78 468.99,262.10 472.37,262.10" fill="#f5ec12"/>
<text x="442.00" y="201.50" font-size="8.8" text-anchor="start" fill="#fff" font-weight="normal" >ITP</text>
<rect x="441.20" y="262.80" width="5.80" height="1.50" fill="#fff"/>
<rect x="282.00" y="270.00" width="75.00" height="74.50" fill="#000"/>
<circle cx="349.4" cy="339.8" r="1.56" fill="rgb(22,22,22)" stroke="rgb(136,136,136)" stroke-width="0.75"/>
<circle cx="316.0" cy="274.1" r="1.60" fill="rgb(34,34,34)" stroke="rgb(148,148,148)" stroke-width="0.75"/>
<circle cx="327.5" cy="334.1" r="2.28" fill="rgb(28,28,28)" stroke="rgb(127,127,127)" stroke-width="0.75"/>
<circle cx="348.3" cy="325.6" r="1.83" fill="rgb(50,50,50)" stroke="rgb(174,174,174)" stroke-width="0.75"/>
<circle cx="344.5" cy="295.7" r="2.23" fill="rgb(30,30,30)" stroke="rgb(102,102,102)" stroke-width="0.75"/>
<circle cx="336.0" cy="319.6" r="1.97" fill="rgb(35,35,35)" stroke="rgb(179,179,179)" stroke-width="0.75"/>
<circle cx="325.9" cy="298.3" r="2.03" fill="rgb(43,43,43)" stroke="rgb(139,139,139)" stroke-width="0.75"/>
<circle cx="301.0" cy="316.6" r="2.05" fill="rgb(20,20,20)" stroke="rgb(184,184,184)" stroke-width="0.75"/>
<circle cx="336.7" cy="302.1" r="1.85" fill="rgb(39,39,39)" stroke="rgb(133,133,133)" stroke-width="0.75"/>
<circle cx="313.8" cy="335.7" r="2.22" fill="rgb(30,30,30)" stroke="rgb(184,184,184)" stroke-width="0.75"/>
<circle cx="333.7" cy="304.3" r="2.25" fill="rgb(44,44,44)" stroke="rgb(187,187,187)" stroke-width="0.75"/>
<circle cx="300.4" cy="328.6" r="1.65" fill="rgb(46,46,46)" stroke="rgb(135,135,135)" stroke-width="0.75"/>
<circle cx="349.9" cy="312.5" r="2.03" fill="rgb(35,35,35)" stroke="rgb(141,141,141)" stroke-width="0.75"/>
<circle cx="296.3" cy="298.5" r="1.40" fill="rgb(53,53,53)" stroke="rgb(142,142,142)" stroke-width="0.75"/>
<circle cx="339.6" cy="339.2" r="1.73" fill="rgb(31,31,31)" stroke="rgb(109,109,109)" stroke-width="0.75"/>
<circle cx="346.4" cy="286.4" r="1.59" fill="rgb(20,20,20)" stroke="rgb(116,116,116)" stroke-width="0.75"/>
<circle cx="295.5" cy="335.2" r="1.74" fill="rgb(43,43,43)" stroke="rgb(187,187,187)" stroke-width="0.75"/>
<circle cx="344.7" cy="340.2" r="1.71" fill="rgb(35,35,35)" stroke="rgb(185,185,185)" stroke-width="0.75"/>
<circle cx="329.5" cy="331.2" r="2.21" fill="rgb(27,27,27)" stroke="rgb(154,154,154)" stroke-width="0.75"/>
<circle cx="326.6" cy="314.8" r="1.60" fill="rgb(30,30,30)" stroke="rgb(158,158,158)" stroke-width="0.75"/>
<circle cx="302.5" cy="315.6" r="2.03" fill="rgb(44,44,44)" stroke="rgb(109,109,109)" stroke-width="0.75"/>
<circle cx="307.7" cy="336.6" r="2.06" fill="rgb(28,28,28)" stroke="rgb(157,157,157)" stroke-width="0.75"/>
<circle cx="301.2" cy="302.7" r="1.69" fill="rgb(43,43,43)" stroke="rgb(177,177,177)" stroke-width="0.75"/>
<circle cx="315.5" cy="329.5" r="1.72" fill="rgb(27,27,27)" stroke="rgb(167,167,167)" stroke-width="0.75"/>
<circle cx="329.7" cy="326.1" r="1.71" fill="rgb(52,52,52)" stroke="rgb(121,121,121)" stroke-width="0.75"/>
<circle cx="335.3" cy="331.8" r="2.00" fill="rgb(24,24,24)" stroke="rgb(143,143,143)" stroke-width="0.75"/>
<circle cx="333.7" cy="303.2" r="1.71" fill="rgb(20,20,20)" stroke="rgb(178,178,178)" stroke-width="0.75"/>
<circle cx="308.9" cy="317.7" r="1.52" fill="rgb(53,53,53)" stroke="rgb(120,120,120)" stroke-width="0.75"/>
<circle cx="308.2" cy="279.3" r="2.30" fill="rgb(46,46,46)" stroke="rgb(188,188,188)" stroke-width="0.75"/>
<circle cx="337.7" cy="277.9" r="1.77" fill="rgb(24,24,24)" stroke="rgb(153,153,153)" stroke-width="0.75"/>
<circle cx="352.2" cy="280.4" r="2.08" fill="rgb(51,51,51)" stroke="rgb(150,150,150)" stroke-width="0.75"/>
<circle cx="300.3" cy="323.4" r="2.10" fill="rgb(35,35,35)" stroke="rgb(159,159,159)" stroke-width="0.75"/>
<circle cx="313.5" cy="297.3" r="2.27" fill="rgb(43,43,43)" stroke="rgb(180,180,180)" stroke-width="0.75"/>
<circle cx="304.1" cy="335.2" r="1.91" fill="rgb(49,49,49)" stroke="rgb(114,114,114)" stroke-width="0.75"/>
<path d="M299.4,287.8 q3.3,4.7 2.2,4.4" fill="none" stroke="rgb(110,110,110)" stroke-width="0.6"/>
<path d="M307.0,297.6 q0.2,1.9 -4.9,0.7" fill="none" stroke="rgb(110,110,110)" stroke-width="0.6"/>
<path d="M315.8,287.3 q4.4,1.9 5.5,6.3" fill="none" stroke="rgb(110,110,110)" stroke-width="0.6"/>
<path d="M313.0,312.1 q2.9,-4.7 6.7,-4.1" fill="none" stroke="rgb(110,110,110)" stroke-width="0.6"/>
<circle cx="283.2" cy="280.8" r="0.6" fill="rgb(59,59,59)"/>
<circle cx="300.8" cy="274.1" r="0.6" fill="rgb(105,105,105)"/>
<circle cx="342.1" cy="273.4" r="0.6" fill="rgb(78,78,78)"/>
<circle cx="332.3" cy="316.0" r="0.6" fill="rgb(99,99,99)"/>
<circle cx="317.8" cy="302.5" r="0.6" fill="rgb(86,86,86)"/>
<circle cx="312.9" cy="331.6" r="0.6" fill="rgb(108,108,108)"/>
<circle cx="302.3" cy="341.4" r="0.6" fill="rgb(91,91,91)"/>
<circle cx="338.9" cy="279.1" r="0.6" fill="rgb(77,77,77)"/>
<circle cx="318.6" cy="298.5" r="0.6" fill="rgb(107,107,107)"/>
<circle cx="288.1" cy="301.4" r="0.6" fill="rgb(103,103,103)"/>
<circle cx="328.8" cy="310.6" r="0.6" fill="rgb(104,104,104)"/>
<circle cx="355.5" cy="336.9" r="0.6" fill="rgb(102,102,102)"/>
<circle cx="288.3" cy="314.5" r="0.6" fill="rgb(70,70,70)"/>
<circle cx="355.8" cy="293.1" r="0.6" fill="rgb(82,82,82)"/>
<circle cx="290.3" cy="319.1" r="0.6" fill="rgb(107,107,107)"/>
<circle cx="305.5" cy="294.9" r="0.6" fill="rgb(104,104,104)"/>
<circle cx="354.3" cy="311.3" r="0.6" fill="rgb(79,79,79)"/>
<circle cx="354.0" cy="278.2" r="0.6" fill="rgb(98,98,98)"/>
<circle cx="296.5" cy="311.9" r="0.6" fill="rgb(90,90,90)"/>
<circle cx="335.6" cy="305.7" r="0.6" fill="rgb(56,56,56)"/>
<circle cx="327.7" cy="317.8" r="0.6" fill="rgb(87,87,87)"/>
<circle cx="312.1" cy="312.1" r="0.6" fill="rgb(58,58,58)"/>
<circle cx="340.2" cy="312.5" r="0.6" fill="rgb(104,104,104)"/>
<circle cx="329.3" cy="324.5" r="0.6" fill="rgb(74,74,74)"/>
<circle cx="299.4" cy="280.7" r="0.6" fill="rgb(59,59,59)"/>
<circle cx="318.8" cy="325.5" r="0.6" fill="rgb(81,81,81)"/>
<circle cx="334.8" cy="316.2" r="0.6" fill="rgb(55,55,55)"/>
<circle cx="328.4" cy="320.9" r="0.6" fill="rgb(89,89,89)"/>
<circle cx="322.6" cy="300.0" r="0.6" fill="rgb(99,99,99)"/>
<circle cx="336.8" cy="277.2" r="0.6" fill="rgb(83,83,83)"/>
<polygon points="326.85,271.71 330.23,271.71 330.23,271.02 333.65,272.92 330.23,274.82 330.23,274.14 326.85,274.14" fill="#f5ec12"/>
<polygon points="319.83,277.85 323.21,277.85 323.21,277.16 326.63,279.06 323.21,280.96 323.21,280.28 319.83,280.28" fill="#f5ec12"/>
<polygon points="288.54,283.40 291.92,283.40 291.92,282.72 295.34,284.62 291.92,286.52 291.92,285.84 288.54,285.84" fill="#19d6ee"/>
<polygon points="317.56,283.84 314.18,283.84 314.18,283.16 310.76,285.06 314.18,286.96 314.18,286.27 317.56,286.27" fill="#f5ec12"/>
<polygon points="330.79,282.97 334.17,282.97 334.17,282.28 337.59,284.18 334.17,286.08 334.17,285.40 330.79,285.40" fill="#a455e0"/>
<polygon points="283.28,302.41 286.66,302.41 286.66,301.73 290.08,303.63 286.66,305.53 286.66,304.84 283.28,304.84" fill="#f5ec12"/>
<polygon points="327.58,308.70 330.96,308.70 330.96,308.01 334.38,309.91 330.96,311.81 330.96,311.13 327.58,311.13" fill="#f5ec12"/>
<polygon points="291.47,312.64 294.85,312.64 294.85,311.96 298.27,313.86 294.85,315.76 294.85,315.08 291.47,315.08" fill="#f5ec12"/>
<polygon points="340.44,316.59 343.82,316.59 343.82,315.91 347.24,317.81 343.82,319.71 343.82,319.02 340.44,319.02" fill="#f5ec12"/>
<polygon points="291.76,321.12 295.14,321.12 295.14,320.44 298.56,322.34 295.14,324.24 295.14,323.56 291.76,323.56" fill="#19d6ee"/>
<polygon points="299.07,327.26 302.45,327.26 302.45,326.58 305.87,328.48 302.45,330.38 302.45,329.70 299.07,329.70" fill="#a455e0"/>
<polygon points="293.22,334.87 296.60,334.87 296.60,334.18 300.02,336.08 296.60,337.98 296.60,337.30 293.22,337.30" fill="#19d6ee"/>
<polygon points="336.86,335.74 333.48,335.74 333.48,335.06 330.06,336.96 333.48,338.86 333.48,338.18 336.86,338.18" fill="#f5ec12"/>
<polygon points="333.86,341.15 337.24,341.15 337.24,340.47 340.66,342.37 337.24,344.27 337.24,343.58 333.86,343.58" fill="#f5ec12"/>
<text x="285.00" y="280.50" font-size="8.8" text-anchor="start" fill="#fff" font-weight="normal" >ITP</text>
<rect x="284.20" y="341.30" width="5.80" height="1.50" fill="#fff"/>
<rect x="360.50" y="270.00" width="75.00" height="74.50" fill="#000"/>
<circle cx="423.9" cy="289.1" r="1.55" fill="rgb(52,52,52)" stroke="rgb(119,119,119)" stroke-width="0.75"/>
<circle cx="418.7" cy="302.1" r="1.41" fill="rgb(24,24,24)" stroke="rgb(160,160,160)" stroke-width="0.75"/>
<circle cx="370.6" cy="306.3" r="2.09" fill="rgb(29,29,29)" stroke="rgb(150,150,150)" stroke-width="0.75"/>
<circle cx="386.9" cy="320.3" r="2.11" fill="rgb(33,33,33)" stroke="rgb(108,108,108)" stroke-width="0.75"/>
<circle cx="424.8" cy="339.4" r="1.99" fill="rgb(42,42,42)" stroke="rgb(166,166,166)" stroke-width="0.75"/>
<circle cx="415.6" cy="315.1" r="2.30" fill="rgb(30,30,30)" stroke="rgb(173,173,173)" stroke-width="0.75"/>
<circle cx="364.6" cy="332.0" r="2.14" fill="rgb(21,21,21)" stroke="rgb(101,101,101)" stroke-width="0.75"/>
<circle cx="406.7" cy="282.0" r="1.86" fill="rgb(31,31,31)" stroke="rgb(167,167,167)" stroke-width="0.75"/>
<circle cx="372.2" cy="318.3" r="1.72" fill="rgb(34,34,34)" stroke="rgb(180,180,180)" stroke-width="0.75"/>
<circle cx="398.2" cy="284.8" r="1.81" fill="rgb(41,41,41)" stroke="rgb(103,103,103)" stroke-width="0.75"/>
<circle cx="432.1" cy="332.7" r="1.77" fill="rgb(159,159,159)" stroke="rgb(140,140,140)" stroke-width="0.75"/>
<circle cx="368.7" cy="313.8" r="1.77" fill="rgb(25,25,25)" stroke="rgb(179,179,179)" stroke-width="0.75"/>
<circle cx="420.3" cy="282.3" r="1.63" fill="rgb(25,25,25)" stroke="rgb(108,108,108)" stroke-width="0.75"/>
<circle cx="396.9" cy="331.2" r="1.55" fill="rgb(23,23,23)" stroke="rgb(103,103,103)" stroke-width="0.75"/>
<circle cx="431.0" cy="309.0" r="1.54" fill="rgb(41,41,41)" stroke="rgb(119,119,119)" stroke-width="0.75"/>
<circle cx="422.8" cy="306.3" r="1.67" fill="rgb(33,33,33)" stroke="rgb(101,101,101)" stroke-width="0.75"/>
<circle cx="368.0" cy="278.6" r="2.19" fill="rgb(25,25,25)" stroke="rgb(114,114,114)" stroke-width="0.75"/>
<circle cx="407.9" cy="335.1" r="2.11" fill="rgb(39,39,39)" stroke="rgb(174,174,174)" stroke-width="0.75"/>
<circle cx="422.9" cy="308.2" r="2.12" fill="rgb(21,21,21)" stroke="rgb(171,171,171)" stroke-width="0.75"/>
<circle cx="382.8" cy="332.2" r="1.87" fill="rgb(34,34,34)" stroke="rgb(134,134,134)" stroke-width="0.75"/>
<circle cx="412.1" cy="278.2" r="1.46" fill="rgb(158,158,158)" stroke="rgb(166,166,166)" stroke-width="0.75"/>
<circle cx="381.0" cy="319.6" r="1.93" fill="rgb(34,34,34)" stroke="rgb(114,114,114)" stroke-width="0.75"/>
<circle cx="377.7" cy="298.7" r="2.00" fill="rgb(22,22,22)" stroke="rgb(101,101,101)" stroke-width="0.75"/>
<circle cx="386.4" cy="309.8" r="1.70" fill="rgb(21,21,21)" stroke="rgb(166,166,166)" stroke-width="0.75"/>
<circle cx="383.7" cy="315.8" r="2.16" fill="rgb(136,136,136)" stroke="rgb(141,141,141)" stroke-width="0.75"/>
<circle cx="429.9" cy="329.6" r="1.70" fill="rgb(30,30,30)" stroke="rgb(121,121,121)" stroke-width="0.75"/>
<path d="M425.5,330.9 q-3.4,1.4 -4.8,5.3" fill="none" stroke="rgb(110,110,110)" stroke-width="0.6"/>
<path d="M409.2,283.0 q-4.8,5.2 -7.9,6.9" fill="none" stroke="rgb(110,110,110)" stroke-width="0.6"/>
<path d="M393.6,283.4 q-2.7,-5.5 -0.4,-5.3" fill="none" stroke="rgb(110,110,110)" stroke-width="0.6"/>
<path d="M392.1,293.1 q0.7,4.9 -2.6,7.4" fill="none" stroke="rgb(110,110,110)" stroke-width="0.6"/>
<circle cx="379.3" cy="343.4" r="0.6" fill="rgb(53,53,53)"/>
<circle cx="416.2" cy="283.1" r="0.6" fill="rgb(85,85,85)"/>
<circle cx="412.4" cy="313.2" r="0.6" fill="rgb(53,53,53)"/>
<circle cx="400.0" cy="275.5" r="0.6" fill="rgb(83,83,83)"/>
<circle cx="378.9" cy="342.1" r="0.6" fill="rgb(69,69,69)"/>
<circle cx="376.7" cy="272.2" r="0.6" fill="rgb(52,52,52)"/>
<circle cx="392.1" cy="320.9" r="0.6" fill="rgb(54,54,54)"/>
<circle cx="381.7" cy="332.2" r="0.6" fill="rgb(54,54,54)"/>
<circle cx="426.1" cy="292.5" r="0.6" fill="rgb(109,109,109)"/>
<circle cx="395.5" cy="271.6" r="0.6" fill="rgb(67,67,67)"/>
<circle cx="411.0" cy="273.7" r="0.6" fill="rgb(68,68,68)"/>
<circle cx="427.0" cy="275.4" r="0.6" fill="rgb(75,75,75)"/>
<circle cx="406.8" cy="325.7" r="0.6" fill="rgb(100,100,100)"/>
<circle cx="373.2" cy="309.3" r="0.6" fill="rgb(52,52,52)"/>
<circle cx="384.8" cy="336.0" r="0.6" fill="rgb(64,64,64)"/>
<circle cx="428.9" cy="316.9" r="0.6" fill="rgb(87,87,87)"/>
<circle cx="364.9" cy="314.1" r="0.6" fill="rgb(107,107,107)"/>
<circle cx="377.7" cy="285.6" r="0.6" fill="rgb(88,88,88)"/>
<circle cx="406.6" cy="287.2" r="0.6" fill="rgb(79,79,79)"/>
<circle cx="423.9" cy="341.9" r="0.6" fill="rgb(103,103,103)"/>
<circle cx="421.4" cy="340.0" r="0.6" fill="rgb(100,100,100)"/>
<circle cx="414.9" cy="302.7" r="0.6" fill="rgb(107,107,107)"/>
<circle cx="412.8" cy="328.6" r="0.6" fill="rgb(85,85,85)"/>
<circle cx="388.8" cy="323.2" r="0.6" fill="rgb(66,66,66)"/>
<circle cx="366.0" cy="291.1" r="0.6" fill="rgb(95,95,95)"/>
<circle cx="407.9" cy="285.5" r="0.6" fill="rgb(85,85,85)"/>
<circle cx="366.8" cy="325.3" r="0.6" fill="rgb(54,54,54)"/>
<circle cx="419.8" cy="340.8" r="0.6" fill="rgb(102,102,102)"/>
<circle cx="371.1" cy="342.3" r="0.6" fill="rgb(55,55,55)"/>
<circle cx="363.3" cy="296.9" r="0.6" fill="rgb(92,92,92)"/>
<polygon points="375.60,279.75 372.22,279.75 372.22,279.06 368.80,280.96 372.22,282.86 372.22,282.18 375.60,282.18" fill="#f5ec12"/>
<polygon points="415.07,276.82 411.69,276.82 411.69,276.14 408.27,278.04 411.69,279.94 411.69,279.26 415.07,279.26" fill="#f5ec12"/>
<polygon points="394.82,287.35 398.20,287.35 398.20,286.67 401.62,288.57 398.20,290.47 398.20,289.78 394.82,289.78" fill="#f5ec12"/>
<polygon points="421.43,311.62 424.81,311.62 424.81,310.94 428.23,312.84 424.81,314.74 424.81,314.05 421.43,314.05" fill="#a455e0"/>
<polygon points="397.74,319.22 401.12,319.22 401.12,318.54 404.54,320.44 401.12,322.34 401.12,321.65 397.74,321.65" fill="#a455e0"/>
<polygon points="432.91,318.93 429.53,318.93 429.53,318.25 426.11,320.15 429.53,322.05 429.53,321.36 432.91,321.36" fill="#f5ec12"/>
<polygon points="428.23,337.50 424.85,337.50 424.85,336.81 421.43,338.71 424.85,340.61 424.85,339.93 428.23,339.93" fill="#f5ec12"/>
<text x="363.50" y="280.50" font-size="8.8" text-anchor="start" fill="#fff" font-weight="normal" >ITP</text>
<rect x="362.70" y="341.30" width="5.80" height="1.50" fill="#fff"/>
<rect x="439.00" y="270.00" width="75.00" height="74.50" fill="#000"/>
<circle cx="502.6" cy="278.1" r="1.73" fill="rgb(46,46,46)" stroke="rgb(132,132,132)" stroke-width="0.75"/>
<circle cx="504.7" cy="308.7" r="2.21" fill="rgb(52,52,52)" stroke="rgb(122,122,122)" stroke-width="0.75"/>
<circle cx="491.0" cy="321.8" r="1.52" fill="rgb(27,27,27)" stroke="rgb(139,139,139)" stroke-width="0.75"/>
<circle cx="483.3" cy="295.3" r="2.27" fill="rgb(20,20,20)" stroke="rgb(187,187,187)" stroke-width="0.75"/>
<circle cx="445.4" cy="277.3" r="2.07" fill="rgb(47,47,47)" stroke="rgb(156,156,156)" stroke-width="0.75"/>
<circle cx="506.0" cy="301.6" r="1.71" fill="rgb(41,41,41)" stroke="rgb(179,179,179)" stroke-width="0.75"/>
<circle cx="487.5" cy="337.0" r="1.86" fill="rgb(46,46,46)" stroke="rgb(145,145,145)" stroke-width="0.75"/>
<circle cx="484.5" cy="323.0" r="2.15" fill="rgb(104,104,104)" stroke="rgb(172,172,172)" stroke-width="0.75"/>
<circle cx="500.1" cy="287.6" r="1.79" fill="rgb(23,23,23)" stroke="rgb(151,151,151)" stroke-width="0.75"/>
<circle cx="458.3" cy="330.9" r="2.30" fill="rgb(53,53,53)" stroke="rgb(173,173,173)" stroke-width="0.75"/>
<circle cx="484.8" cy="318.7" r="1.86" fill="rgb(49,49,49)" stroke="rgb(176,176,176)" stroke-width="0.75"/>
<circle cx="489.1" cy="292.9" r="2.10" fill="rgb(118,118,118)" stroke="rgb(149,149,149)" stroke-width="0.75"/>
<circle cx="494.2" cy="291.4" r="1.70" fill="rgb(44,44,44)" stroke="rgb(142,142,142)" stroke-width="0.75"/>
<circle cx="448.5" cy="285.1" r="1.78" fill="rgb(54,54,54)" stroke="rgb(122,122,122)" stroke-width="0.75"/>
<circle cx="492.3" cy="300.7" r="2.06" fill="rgb(35,35,35)" stroke="rgb(144,144,144)" stroke-width="0.75"/>
<circle cx="504.3" cy="297.7" r="2.00" fill="rgb(37,37,37)" stroke="rgb(174,174,174)" stroke-width="0.75"/>
<circle cx="485.4" cy="292.5" r="1.79" fill="rgb(28,28,28)" stroke="rgb(123,123,123)" stroke-width="0.75"/>
<circle cx="453.7" cy="332.9" r="1.61" fill="rgb(35,35,35)" stroke="rgb(121,121,121)" stroke-width="0.75"/>
<circle cx="505.4" cy="325.1" r="1.89" fill="rgb(128,128,128)" stroke="rgb(148,148,148)" stroke-width="0.75"/>
<circle cx="449.0" cy="306.8" r="2.27" fill="rgb(29,29,29)" stroke="rgb(189,189,189)" stroke-width="0.75"/>
<circle cx="457.9" cy="338.9" r="1.92" fill="rgb(22,22,22)" stroke="rgb(122,122,122)" stroke-width="0.75"/>
<circle cx="501.0" cy="319.1" r="1.76" fill="rgb(24,24,24)" stroke="rgb(133,133,133)" stroke-width="0.75"/>
<circle cx="482.6" cy="338.2" r="2.14" fill="rgb(38,38,38)" stroke="rgb(186,186,186)" stroke-width="0.75"/>
<circle cx="465.2" cy="329.5" r="1.53" fill="rgb(24,24,24)" stroke="rgb(128,128,128)" stroke-width="0.75"/>
<circle cx="497.4" cy="316.5" r="1.87" fill="rgb(22,22,22)" stroke="rgb(150,150,150)" stroke-width="0.75"/>
<circle cx="486.7" cy="320.5" r="2.00" fill="rgb(138,138,138)" stroke="rgb(111,111,111)" stroke-width="0.75"/>
<circle cx="450.2" cy="326.1" r="1.62" fill="rgb(34,34,34)" stroke="rgb(138,138,138)" stroke-width="0.75"/>
<circle cx="458.0" cy="324.9" r="1.52" fill="rgb(24,24,24)" stroke="rgb(146,146,146)" stroke-width="0.75"/>
<circle cx="497.9" cy="332.8" r="1.49" fill="rgb(24,24,24)" stroke="rgb(185,185,185)" stroke-width="0.75"/>
<circle cx="498.0" cy="296.3" r="1.71" fill="rgb(23,23,23)" stroke="rgb(174,174,174)" stroke-width="0.75"/>
<path d="M474.6,319.1 q-2.0,1.0 -1.9,5.6" fill="none" stroke="rgb(110,110,110)" stroke-width="0.6"/>
<path d="M455.5,314.9 q-1.7,5.0 0.9,6.4" fill="none" stroke="rgb(110,110,110)" stroke-width="0.6"/>
<path d="M502.7,321.7 q-5.6,-3.8 -6.2,-5.5" fill="none" stroke="rgb(110,110,110)" stroke-width="0.6"/>
<path d="M491.8,286.5 q0.7,-6.1 -0.8,-7.3" fill="none" stroke="rgb(110,110,110)" stroke-width="0.6"/>
<circle cx="497.9" cy="333.8" r="0.6" fill="rgb(109,109,109)"/>
<circle cx="484.7" cy="293.2" r="0.6" fill="rgb(107,107,107)"/>
<circle cx="453.9" cy="341.3" r="0.6" fill="rgb(101,101,101)"/>
<circle cx="491.0" cy="305.2" r="0.6" fill="rgb(81,81,81)"/>
<circle cx="465.5" cy="284.2" r="0.6" fill="rgb(92,92,92)"/>
<circle cx="478.2" cy="338.9" r="0.6" fill="rgb(92,92,92)"/>
<circle cx="480.6" cy="282.3" r="0.6" fill="rgb(69,69,69)"/>
<circle cx="459.8" cy="314.1" r="0.6" fill="rgb(109,109,109)"/>
<circle cx="470.4" cy="339.3" r="0.6" fill="rgb(79,79,79)"/>
<circle cx="497.4" cy="339.2" r="0.6" fill="rgb(103,103,103)"/>
<circle cx="503.1" cy="311.3" r="0.6" fill="rgb(54,54,54)"/>
<circle cx="502.0" cy="286.4" r="0.6" fill="rgb(65,65,65)"/>
<circle cx="481.5" cy="307.3" r="0.6" fill="rgb(93,93,93)"/>
<circle cx="503.7" cy="292.2" r="0.6" fill="rgb(93,93,93)"/>
<circle cx="450.2" cy="293.8" r="0.6" fill="rgb(88,88,88)"/>
<circle cx="511.8" cy="294.0" r="0.6" fill="rgb(66,66,66)"/>
<circle cx="443.3" cy="285.6" r="0.6" fill="rgb(99,99,99)"/>
<circle cx="505.6" cy="273.8" r="0.6" fill="rgb(56,56,56)"/>
<circle cx="497.8" cy="325.4" r="0.6" fill="rgb(55,55,55)"/>
<circle cx="468.5" cy="271.9" r="0.6" fill="rgb(100,100,100)"/>
<circle cx="497.7" cy="312.6" r="0.6" fill="rgb(57,57,57)"/>
<circle cx="509.9" cy="297.6" r="0.6" fill="rgb(104,104,104)"/>
<circle cx="452.0" cy="318.1" r="0.6" fill="rgb(88,88,88)"/>
<circle cx="487.4" cy="313.1" r="0.6" fill="rgb(59,59,59)"/>
<circle cx="440.3" cy="305.7" r="0.6" fill="rgb(93,93,93)"/>
<circle cx="488.5" cy="327.4" r="0.6" fill="rgb(80,80,80)"/>
<circle cx="444.5" cy="312.5" r="0.6" fill="rgb(54,54,54)"/>
<circle cx="488.7" cy="336.1" r="0.6" fill="rgb(71,71,71)"/>
<circle cx="442.0" cy="313.4" r="0.6" fill="rgb(51,51,51)"/>
<circle cx="469.4" cy="334.5" r="0.6" fill="rgb(55,55,55)"/>
<polygon points="458.99,286.77 462.37,286.77 462.37,286.08 465.79,287.98 462.37,289.88 462.37,289.20 458.99,289.20" fill="#19d6ee"/>
<polygon points="493.28,294.37 489.90,294.37 489.90,293.68 486.48,295.58 489.90,297.48 489.90,296.80 493.28,296.80" fill="#f5ec12"/>
<polygon points="480.19,310.45 483.57,310.45 483.57,309.77 486.99,311.67 483.57,313.57 483.57,312.88 480.19,312.88" fill="#19d6ee"/>
<polygon points="496.27,332.38 499.65,332.38 499.65,331.70 503.07,333.60 499.65,335.50 499.65,334.81 496.27,334.81" fill="#19d6ee"/>
<text x="442.00" y="280.50" font-size="8.8" text-anchor="start" fill="#fff" font-weight="normal" >ITP</text>
<rect x="441.20" y="341.30" width="5.80" height="1.50" fill="#fff"/>
<rect x="43.30" y="509.44" width="15.90" height="18.06" fill="#e48ca0"/>
<rect x="73.50" y="481.54" width="16.30" height="45.96" fill="#8aabcb"/>
<line x1="51.20" y1="501.50" x2="51.20" y2="517.00" stroke="#2a2a2a" stroke-width="1.2"/>
<line x1="48.20" y1="501.50" x2="54.20" y2="501.50" stroke="#2a2a2a" stroke-width="1.2"/>
<line x1="48.20" y1="517.00" x2="54.20" y2="517.00" stroke="#2a2a2a" stroke-width="1.2"/>
<line x1="81.60" y1="471.00" x2="81.60" y2="492.00" stroke="#2a2a2a" stroke-width="1.2"/>
<line x1="78.60" y1="471.00" x2="84.60" y2="471.00" stroke="#2a2a2a" stroke-width="1.2"/>
<line x1="78.60" y1="492.00" x2="84.60" y2="492.00" stroke="#2a2a2a" stroke-width="1.2"/>
<circle cx="51.00" cy="488.30" r="1.9" fill="#cf0a35"/>
<circle cx="51.00" cy="504.00" r="1.9" fill="#cf0a35"/>
<circle cx="44.60" cy="510.80" r="1.9" fill="#cf0a35"/>
<circle cx="48.00" cy="510.80" r="1.9" fill="#cf0a35"/>
<circle cx="51.50" cy="510.80" r="1.9" fill="#cf0a35"/>
<circle cx="54.80" cy="510.80" r="1.9" fill="#cf0a35"/>
<circle cx="57.70" cy="510.80" r="1.9" fill="#cf0a35"/>
<circle cx="50.40" cy="516.20" r="1.9" fill="#cf0a35"/>
<circle cx="51.00" cy="522.30" r="1.9" fill="#cf0a35"/>
<circle cx="46.20" cy="509.20" r="1.9" fill="#cf0a35"/>
<circle cx="55.80" cy="509.20" r="1.9" fill="#cf0a35"/>
<circle cx="49.00" cy="512.50" r="1.9" fill="#cf0a35"/>
<circle cx="81.70" cy="468.80" r="1.9" fill="#0f4c8c"/>
<circle cx="75.40" cy="474.60" r="1.9" fill="#0f4c8c"/>
<circle cx="79.80" cy="476.50" r="1.9" fill="#0f4c8c"/>
<circle cx="83.70" cy="477.10" r="1.9" fill="#0f4c8c"/>
<circle cx="87.50" cy="475.60" r="1.9" fill="#0f4c8c"/>
<circle cx="81.70" cy="487.30" r="1.9" fill="#0f4c8c"/>
<circle cx="78.50" cy="495.40" r="1.9" fill="#0f4c8c"/>
<circle cx="84.20" cy="497.30" r="1.9" fill="#0f4c8c"/>
<line x1="35.20" y1="439.60" x2="35.20" y2="528.10" stroke="#111" stroke-width="1.4"/>
<line x1="32.20" y1="527.30" x2="35.20" y2="527.30" stroke="#111" stroke-width="1.0"/>
<text x="29.50" y="530.02" font-size="7.6" text-anchor="end" fill="#000" font-weight="normal" stroke="#000" stroke-width="0.2" >3.0</text>
<line x1="32.20" y1="499.40" x2="35.20" y2="499.40" stroke="#111" stroke-width="1.0"/>
<text x="29.50" y="502.12" font-size="7.6" text-anchor="end" fill="#000" font-weight="normal" stroke="#000" stroke-width="0.2" >3.5</text>
<line x1="32.20" y1="471.50" x2="35.20" y2="471.50" stroke="#111" stroke-width="1.0"/>
<text x="29.50" y="474.22" font-size="7.6" text-anchor="end" fill="#000" font-weight="normal" stroke="#000" stroke-width="0.2" >4.0</text>
<line x1="32.20" y1="443.60" x2="35.20" y2="443.60" stroke="#111" stroke-width="1.0"/>
<text x="29.50" y="446.32" font-size="7.6" text-anchor="end" fill="#000" font-weight="normal" stroke="#000" stroke-width="0.2" >4.5</text>
<line x1="34.60" y1="527.50" x2="96.00" y2="527.50" stroke="#111" stroke-width="1.4"/>
<line x1="51.20" y1="527.50" x2="51.20" y2="530.00" stroke="#111" stroke-width="1.0"/>
<line x1="81.50" y1="527.50" x2="81.50" y2="530.00" stroke="#111" stroke-width="1.0"/>
<text x="80.50" y="459.51" font-size="9.2" text-anchor="middle" fill="#000" stroke="#000" stroke-width="0.45">****</text>
<text x="51.00" y="540.62" font-size="7.6" text-anchor="middle" fill="#000" font-weight="normal" stroke="#000" stroke-width="0.2" >HC</text>
<text x="81.30" y="540.62" font-size="7.6" text-anchor="middle" fill="#000" font-weight="normal" stroke="#000" stroke-width="0.2" >ITP</text>
<text transform="translate(12.50,485.85) rotate(-90)" font-size="8.3" text-anchor="middle" fill="#000" stroke="#000" stroke-width="0.3" textLength="75.7" lengthAdjust="spacingAndGlyphs">Preplatelet diameter (µm)</text>
<rect x="132.60" y="398.50" width="99.00" height="20.00" fill="#000"/>
<rect x="132.60" y="398.50" width="48.40" height="131.10" fill="#000"/>
<rect x="182.30" y="398.50" width="49.30" height="138.50" fill="#000"/>
<line x1="133.50" y1="436.00" x2="180.30" y2="436.00" stroke="#262626" stroke-width="0.9"/>
<line x1="133.50" y1="459.00" x2="180.30" y2="459.00" stroke="#262626" stroke-width="0.9"/>
<line x1="133.50" y1="483.50" x2="180.30" y2="483.50" stroke="#262626" stroke-width="0.9"/>
<line x1="133.50" y1="507.70" x2="180.30" y2="507.70" stroke="#262626" stroke-width="0.9"/>
<line x1="183.00" y1="437.00" x2="230.80" y2="437.00" stroke="#262626" stroke-width="0.9"/>
<line x1="183.00" y1="462.00" x2="230.80" y2="462.00" stroke="#262626" stroke-width="0.9"/>
<line x1="183.00" y1="487.00" x2="230.80" y2="487.00" stroke="#262626" stroke-width="0.9"/>
<line x1="183.00" y1="512.00" x2="230.80" y2="512.00" stroke="#262626" stroke-width="0.9"/>
<circle cx="156.6" cy="425.8" r="3.4" fill="url(#gc)"/>
<circle cx="156.6" cy="448.8" r="3.4" fill="url(#gc)"/>
<circle cx="156.6" cy="471.9" r="3.4" fill="url(#gc)"/>
<circle cx="156.6" cy="495.5" r="3.4" fill="url(#gc)"/>
<circle cx="156.6" cy="518" r="3.4" fill="url(#gc)"/>
<circle cx="206.5" cy="425.8" r="5.2" fill="url(#gi)"/>
<circle cx="206.5" cy="449.5" r="5.2" fill="url(#gi)"/>
<circle cx="206.5" cy="474.7" r="5.2" fill="url(#gi)"/>
<circle cx="206.5" cy="499.2" r="5.2" fill="url(#gi)"/>
<circle cx="206.5" cy="524.3" r="5.2" fill="url(#gi)"/>
<text x="158.00" y="410.38" font-size="8.6" text-anchor="middle" fill="#fff" font-weight="normal" >HC</text>
<text x="207.40" y="410.38" font-size="8.6" text-anchor="middle" fill="#fff" font-weight="normal" >ITP</text>
<rect x="134.70" y="525.30" width="9.20" height="1.70" fill="#fff"/>
<rect x="185.50" y="534.00" width="9.20" height="1.70" fill="#fff"/>
<rect x="322.00" y="501.02" width="15.70" height="26.68" fill="#e48ca0"/>
<rect x="352.00" y="485.77" width="16.50" height="41.93" fill="#8aabcb"/>
<line x1="329.60" y1="491.20" x2="329.60" y2="511.70" stroke="#2a2a2a" stroke-width="1.2"/>
<line x1="326.60" y1="491.20" x2="332.60" y2="491.20" stroke="#2a2a2a" stroke-width="1.2"/>
<line x1="326.60" y1="511.70" x2="332.60" y2="511.70" stroke="#2a2a2a" stroke-width="1.2"/>
<line x1="360.40" y1="475.80" x2="360.40" y2="496.30" stroke="#2a2a2a" stroke-width="1.2"/>
<line x1="357.40" y1="475.80" x2="363.40" y2="475.80" stroke="#2a2a2a" stroke-width="1.2"/>
<line x1="357.40" y1="496.30" x2="363.40" y2="496.30" stroke="#2a2a2a" stroke-width="1.2"/>
<circle cx="330.38" cy="484.23" r="1.9" fill="#cf0a35"/>
<circle cx="332.88" cy="482.88" r="1.9" fill="#cf0a35"/>
<circle cx="327.12" cy="491.54" r="1.9" fill="#cf0a35"/>
<circle cx="329.62" cy="491.92" r="1.9" fill="#cf0a35"/>
<circle cx="323.85" cy="499.23" r="1.9" fill="#cf0a35"/>
<circle cx="327.69" cy="498.85" r="1.9" fill="#cf0a35"/>
<circle cx="330.38" cy="499.23" r="1.9" fill="#cf0a35"/>
<circle cx="324.62" cy="503.46" r="1.9" fill="#cf0a35"/>
<circle cx="329.04" cy="503.65" r="1.9" fill="#cf0a35"/>
<circle cx="334.81" cy="503.08" r="1.9" fill="#cf0a35"/>
<circle cx="323.85" cy="507.88" r="1.9" fill="#cf0a35"/>
<circle cx="328.08" cy="507.88" r="1.9" fill="#cf0a35"/>
<circle cx="332.88" cy="507.88" r="1.9" fill="#cf0a35"/>
<circle cx="326.15" cy="512.69" r="1.9" fill="#cf0a35"/>
<circle cx="330.38" cy="513.08" r="1.9" fill="#cf0a35"/>
<circle cx="335.77" cy="506.92" r="1.9" fill="#cf0a35"/>
<circle cx="360.38" cy="465.96" r="1.9" fill="#0f4c8c"/>
<circle cx="360.38" cy="476.15" r="1.9" fill="#0f4c8c"/>
<circle cx="354.04" cy="489.62" r="1.9" fill="#0f4c8c"/>
<circle cx="357.88" cy="489.62" r="1.9" fill="#0f4c8c"/>
<circle cx="361.73" cy="489.62" r="1.9" fill="#0f4c8c"/>
<circle cx="365.58" cy="489.62" r="1.9" fill="#0f4c8c"/>
<circle cx="358.46" cy="495.00" r="1.9" fill="#0f4c8c"/>
<circle cx="363.08" cy="495.00" r="1.9" fill="#0f4c8c"/>
<line x1="314.00" y1="439.00" x2="314.00" y2="528.30" stroke="#111" stroke-width="1.4"/>
<line x1="311.00" y1="527.70" x2="314.00" y2="527.70" stroke="#111" stroke-width="1.0"/>
<text x="308.80" y="530.42" font-size="7.6" text-anchor="end" fill="#000" font-weight="normal" stroke="#000" stroke-width="0.2" >15</text>
<line x1="311.00" y1="506.53" x2="314.00" y2="506.53" stroke="#111" stroke-width="1.0"/>
<text x="308.80" y="509.25" font-size="7.6" text-anchor="end" fill="#000" font-weight="normal" stroke="#000" stroke-width="0.2" >20</text>
<line x1="311.00" y1="485.35" x2="314.00" y2="485.35" stroke="#111" stroke-width="1.0"/>
<text x="308.80" y="488.07" font-size="7.6" text-anchor="end" fill="#000" font-weight="normal" stroke="#000" stroke-width="0.2" >25</text>
<line x1="311.00" y1="464.18" x2="314.00" y2="464.18" stroke="#111" stroke-width="1.0"/>
<text x="308.80" y="466.90" font-size="7.6" text-anchor="end" fill="#000" font-weight="normal" stroke="#000" stroke-width="0.2" >30</text>
<line x1="311.00" y1="443.00" x2="314.00" y2="443.00" stroke="#111" stroke-width="1.0"/>
<text x="308.80" y="445.72" font-size="7.6" text-anchor="end" fill="#000" font-weight="normal" stroke="#000" stroke-width="0.2" >35</text>
<line x1="313.40" y1="527.70" x2="376.00" y2="527.70" stroke="#111" stroke-width="1.4"/>
<line x1="329.60" y1="527.70" x2="329.60" y2="530.20" stroke="#111" stroke-width="1.0"/>
<line x1="360.40" y1="527.70" x2="360.40" y2="530.20" stroke="#111" stroke-width="1.0"/>
<text x="359.90" y="447.41" font-size="9.2" text-anchor="middle" fill="#000" stroke="#000" stroke-width="0.45">**</text>
<text x="329.60" y="539.42" font-size="7.6" text-anchor="middle" fill="#000" font-weight="normal" stroke="#000" stroke-width="0.2" >HC</text>
<text x="360.40" y="539.42" font-size="7.6" text-anchor="middle" fill="#000" font-weight="normal" stroke="#000" stroke-width="0.2" >ITP</text>
<text transform="translate(292.40,483.35) rotate(-90)" font-size="8.2" text-anchor="middle" fill="#000" stroke="#000" stroke-width="0.3" textLength="55" lengthAdjust="spacingAndGlyphs">Barbell area [µm<tspan font-size="5" dy="-3">2</tspan><tspan dy="3">]</tspan></text>
<rect x="413.20" y="360.00" width="99.40" height="20.40" fill="#000"/>
<rect x="413.20" y="360.00" width="48.60" height="146.60" fill="#000"/>
<rect x="463.00" y="360.00" width="49.60" height="190.50" fill="#000"/>
<line x1="414.00" y1="402.30" x2="461.00" y2="402.30" stroke="#262626" stroke-width="0.9"/>
<line x1="414.00" y1="427.20" x2="461.00" y2="427.20" stroke="#262626" stroke-width="0.9"/>
<line x1="414.00" y1="452.00" x2="461.00" y2="452.00" stroke="#262626" stroke-width="0.9"/>
<line x1="414.00" y1="480.30" x2="461.00" y2="480.30" stroke="#262626" stroke-width="0.9"/>
<line x1="464.00" y1="416.00" x2="511.80" y2="416.00" stroke="#262626" stroke-width="0.9"/>
<line x1="464.00" y1="449.60" x2="511.80" y2="449.60" stroke="#262626" stroke-width="0.9"/>
<line x1="464.00" y1="484.20" x2="511.80" y2="484.20" stroke="#262626" stroke-width="0.9"/>
<line x1="464.00" y1="518.80" x2="511.80" y2="518.80" stroke="#262626" stroke-width="0.9"/>
<g transform="translate(437.00,388.50) rotate(0)" fill="#2ae42a" stroke="#1c9a1c" stroke-width="0.5" stroke-opacity="0.6"><ellipse cx="0" cy="-3.60" rx="1.20" ry="1.80"/><ellipse cx="0" cy="3.60" rx="1.90" ry="2.09"/><rect x="-0.55" y="-3.60" width="1.1" height="7.20"/></g>
<g transform="translate(437.00,413.80) rotate(-25)" fill="#2ae42a" stroke="#1c9a1c" stroke-width="0.5" stroke-opacity="0.6"><ellipse cx="0" cy="-3.60" rx="1.20" ry="1.80"/><ellipse cx="0" cy="3.60" rx="1.90" ry="2.09"/><rect x="-0.55" y="-3.60" width="1.1" height="7.20"/></g>
<g transform="translate(437.00,439.20) rotate(0)" fill="#2ae42a" stroke="#1c9a1c" stroke-width="0.5" stroke-opacity="0.6"><ellipse cx="0" cy="-3.60" rx="1.20" ry="1.80"/><ellipse cx="0" cy="3.60" rx="1.90" ry="2.09"/><rect x="-0.55" y="-3.60" width="1.1" height="7.20"/></g>
<g transform="translate(437.00,464.60) rotate(0)" fill="#2ae42a" stroke="#1c9a1c" stroke-width="0.5" stroke-opacity="0.6"><ellipse cx="0" cy="-3.60" rx="1.20" ry="1.80"/><ellipse cx="0" cy="3.60" rx="1.90" ry="2.09"/><rect x="-0.55" y="-3.60" width="1.1" height="7.20"/></g>
<g transform="translate(437.00,493.50) rotate(10)" fill="#2ae42a" stroke="#1c9a1c" stroke-width="0.5" stroke-opacity="0.6"><ellipse cx="0" cy="-3.60" rx="1.20" ry="1.80"/><ellipse cx="0" cy="3.60" rx="1.90" ry="2.09"/><rect x="-0.55" y="-3.60" width="1.1" height="7.20"/></g>
<g fill="#2ae42a" stroke="#1c9a1c" stroke-width="0.6" stroke-opacity="0.6">
<path d="M485,390 q4,-3 4.5,1 q-1,4 -3.5,6 q-1,2 1.5,4.5 q3,3 0,6 q-3,2 -5,-1 q-1,-3 1.5,-5 q1,-2 -1,-5 q-2,-4 2,-6.5z"/>
<path d="M488,425 q2,2 0,6 q-3,3 -3,4 q0,2 3,3.5 q2,2 -1,4 q-4,1 -5,-2 q0,-3 2,-5 q-2,-2 0,-5 q2,-4 4,-5.5z"/>
<ellipse cx="484.5" cy="471.5" rx="4" ry="3.8"/><ellipse cx="488.5" cy="463" rx="2.4" ry="2.4"/><rect x="485.5" y="463" width="2" height="7"/>
<ellipse cx="486.5" cy="494.5" rx="2.3" ry="3"/><ellipse cx="486.5" cy="507.5" rx="2.6" ry="3"/><rect x="485.6" y="494" width="1.8" height="12"/>
<path d="M487.5,526 q1.5,4 0.5,8 q-1,4 -2,5 q2,1 4,0 q1,2 -2,3 q-4,1 -5,-2 q-1,-3 2,-3.5 q1,-4 0.5,-8 q0,-3 2,-2.5z"/>
</g>
<text x="438.00" y="373.08" font-size="8.6" text-anchor="middle" fill="#fff" font-weight="normal" >HC</text>
<text x="487.70" y="373.08" font-size="8.6" text-anchor="middle" fill="#fff" font-weight="normal" >ITP</text>
<rect x="415.70" y="501.70" width="9.00" height="1.70" fill="#fff"/>
<rect x="465.80" y="546.80" width="9.20" height="1.70" fill="#fff"/>
<rect x="413.20" y="528.00" width="38.00" height="20.20" fill="#000"/>
<text x="431.00" y="542.08" font-size="8.6" text-anchor="middle" fill="#2ec52e" font-weight="normal" stroke="#2ec52e" stroke-width="0.2" >CD61</text>
<polyline points="37.06,588.57 47.05,580.56 57.04,583.77 67.03,589.25 77.02,597.49 87.01,597.49 97.00,598.17 106.99,602.06 116.98,607.32 126.97,617.16 136.96,625.16 146.95,629.73 156.94,635.91 166.93,641.17" fill="none" stroke="#111" stroke-width="0.9"/>
<polyline points="37.06,597.49 47.05,589.25 57.04,588.57 67.03,598.40 77.02,602.98 87.01,604.58 97.00,605.49 106.99,606.64 116.98,614.18 126.97,620.36 136.96,625.16 146.95,631.34 156.94,637.74 166.93,641.17" fill="none" stroke="#111" stroke-width="0.9"/>
<polyline points="37.06,598.86 47.05,608.24 57.04,603.43 67.03,606.18 77.02,603.43 87.01,610.07 97.00,609.15 106.99,609.61 116.98,615.78 126.97,623.56 136.96,625.16 146.95,633.62 156.94,638.88 166.93,641.17" fill="none" stroke="#111" stroke-width="0.9"/>
<polyline points="37.06,602.98 47.05,592.69 57.04,617.38 67.03,625.16 77.02,630.65 87.01,628.82 97.00,633.17 106.99,636.37" fill="none" stroke="#111" stroke-width="0.9"/>
<polyline points="37.06,597.49 47.05,590.86 57.04,589.71 67.03,613.95 77.02,618.53 87.01,620.36 97.00,623.10 106.99,630.19" fill="none" stroke="#111" stroke-width="0.9"/>
<polyline points="37.06,588.57 47.05,590.86 57.04,589.71 67.03,598.40 77.02,602.98 87.01,607.78 97.00,614.87 106.99,623.56" fill="none" stroke="#111" stroke-width="0.9"/>
<circle cx="37.06" cy="588.57" r="1.8" fill="#cf0a35"/>
<circle cx="47.05" cy="580.56" r="1.5" fill="#0f4c8c"/>
<circle cx="57.04" cy="583.77" r="1.5" fill="#0f4c8c"/>
<circle cx="67.03" cy="589.25" r="1.5" fill="#0f4c8c"/>
<circle cx="77.02" cy="597.49" r="1.5" fill="#0f4c8c"/>
<circle cx="87.01" cy="597.49" r="1.5" fill="#0f4c8c"/>
<circle cx="97.00" cy="598.17" r="1.5" fill="#0f4c8c"/>
<rect x="105.54" y="600.61" width="2.90" height="2.90" fill="#3cb54a"/>
<circle cx="116.98" cy="607.32" r="1.5" fill="#111"/>
<circle cx="126.97" cy="617.16" r="1.5" fill="#111"/>
<circle cx="136.96" cy="625.16" r="1.5" fill="#111"/>
<circle cx="146.95" cy="629.73" r="1.5" fill="#111"/>
<circle cx="156.94" cy="635.91" r="1.5" fill="#111"/>
<rect x="165.48" y="639.72" width="2.90" height="2.90" fill="#fb9410"/>
<circle cx="37.06" cy="597.49" r="1.8" fill="#cf0a35"/>
<circle cx="47.05" cy="589.25" r="1.5" fill="#0f4c8c"/>
<rect x="55.59" y="587.12" width="2.90" height="2.90" fill="#3cb54a"/>
<circle cx="67.03" cy="598.40" r="1.5" fill="#0f4c8c"/>
<circle cx="77.02" cy="602.98" r="1.5" fill="#0f4c8c"/>
<circle cx="87.01" cy="604.58" r="1.5" fill="#0f4c8c"/>
<circle cx="97.00" cy="605.49" r="1.5" fill="#0f4c8c"/>
<rect x="105.54" y="605.19" width="2.90" height="2.90" fill="#3cb54a"/>
<circle cx="116.98" cy="614.18" r="1.5" fill="#111"/>
<circle cx="126.97" cy="620.36" r="1.5" fill="#111"/>
<circle cx="136.96" cy="625.16" r="1.5" fill="#111"/>
<circle cx="146.95" cy="631.34" r="1.5" fill="#111"/>
<circle cx="156.94" cy="637.74" r="1.5" fill="#111"/>
<rect x="165.48" y="639.72" width="2.90" height="2.90" fill="#fb9410"/>
<circle cx="37.06" cy="598.86" r="1.8" fill="#cf0a35"/>
<circle cx="47.05" cy="608.24" r="1.5" fill="#0f4c8c"/>
<rect x="55.59" y="601.98" width="2.90" height="2.90" fill="#3cb54a"/>
<circle cx="67.03" cy="606.18" r="1.5" fill="#0f4c8c"/>
<circle cx="77.02" cy="603.43" r="1.5" fill="#0f4c8c"/>
<circle cx="87.01" cy="610.07" r="1.5" fill="#0f4c8c"/>
<circle cx="97.00" cy="609.15" r="1.5" fill="#0f4c8c"/>
<rect x="105.54" y="608.16" width="2.90" height="2.90" fill="#3cb54a"/>
<circle cx="116.98" cy="615.78" r="1.5" fill="#111"/>
<circle cx="126.97" cy="623.56" r="1.5" fill="#111"/>
<circle cx="136.96" cy="625.16" r="1.5" fill="#111"/>
<circle cx="146.95" cy="633.62" r="1.5" fill="#111"/>
<circle cx="156.94" cy="638.88" r="1.5" fill="#111"/>
<rect x="165.48" y="639.72" width="2.90" height="2.90" fill="#fb9410"/>
<circle cx="37.06" cy="602.98" r="1.8" fill="#cf0a35"/>
<rect x="45.60" y="591.24" width="2.90" height="2.90" fill="#0f4c8c"/>
<rect x="55.59" y="615.93" width="2.90" height="2.90" fill="#3cb54a"/>
<rect x="65.58" y="623.71" width="2.90" height="2.90" fill="#111"/>
<rect x="75.57" y="629.20" width="2.90" height="2.90" fill="#111"/>
<rect x="85.56" y="627.37" width="2.90" height="2.90" fill="#111"/>
<rect x="95.55" y="631.72" width="2.90" height="2.90" fill="#111"/>
<rect x="105.54" y="634.92" width="2.90" height="2.90" fill="#fb9410"/>
<circle cx="37.06" cy="597.49" r="1.8" fill="#cf0a35"/>
<polygon points="47.05,589.06 48.70,592.06 45.40,592.06" fill="#0f4c8c"/>
<polygon points="57.04,587.91 58.69,590.91 55.39,590.91" fill="#111"/>
<polygon points="67.03,612.15 68.68,615.15 65.38,615.15" fill="#111"/>
<polygon points="77.02,616.73 78.67,619.73 75.37,619.73" fill="#111"/>
<polygon points="87.01,618.56 88.66,621.56 85.36,621.56" fill="#111"/>
<polygon points="97.00,621.30 98.65,624.30 95.35,624.30" fill="#111"/>
<polygon points="106.99,628.39 108.64,631.39 105.34,631.39" fill="#fb9410"/>
<circle cx="37.06" cy="588.57" r="1.8" fill="#cf0a35"/>
<polygon points="47.05,592.66 48.70,589.66 45.40,589.66" fill="#0f4c8c"/>
<polygon points="57.04,591.51 58.69,588.51 55.39,588.51" fill="#111"/>
<polygon points="67.03,600.20 68.68,597.20 65.38,597.20" fill="#111"/>
<polygon points="77.02,604.78 78.67,601.78 75.37,601.78" fill="#111"/>
<polygon points="87.01,609.58 88.66,606.58 85.36,606.58" fill="#111"/>
<polygon points="97.00,616.67 98.65,613.67 95.35,613.67" fill="#111"/>
<polygon points="106.99,625.36 108.64,622.36 105.34,622.36" fill="#fb9410"/>
<line x1="37.00" y1="572.00" x2="37.00" y2="645.60" stroke="#111" stroke-width="1.4"/>
<line x1="34.00" y1="644.60" x2="37.00" y2="644.60" stroke="#111" stroke-width="1.0"/>
<text x="31.00" y="647.32" font-size="7.6" text-anchor="end" fill="#000" font-weight="normal" stroke="#000" stroke-width="0.2" >0</text>
<line x1="34.00" y1="621.73" x2="37.00" y2="621.73" stroke="#111" stroke-width="1.0"/>
<text x="31.00" y="624.45" font-size="7.6" text-anchor="end" fill="#000" font-weight="normal" stroke="#000" stroke-width="0.2" >100</text>
<line x1="34.00" y1="598.86" x2="37.00" y2="598.86" stroke="#111" stroke-width="1.0"/>
<text x="31.00" y="601.58" font-size="7.6" text-anchor="end" fill="#000" font-weight="normal" stroke="#000" stroke-width="0.2" >200</text>
<line x1="34.00" y1="575.99" x2="37.00" y2="575.99" stroke="#111" stroke-width="1.0"/>
<text x="31.00" y="578.71" font-size="7.6" text-anchor="end" fill="#000" font-weight="normal" stroke="#000" stroke-width="0.2" >300</text>
<line x1="36.40" y1="645.00" x2="200.30" y2="645.00" stroke="#111" stroke-width="1.4"/>
<line x1="37.06" y1="645.00" x2="37.06" y2="647.50" stroke="#111" stroke-width="1.0"/>
<line x1="57.04" y1="645.00" x2="57.04" y2="647.50" stroke="#111" stroke-width="1.0"/>
<line x1="77.02" y1="645.00" x2="77.02" y2="647.50" stroke="#111" stroke-width="1.0"/>
<line x1="97.00" y1="645.00" x2="97.00" y2="647.50" stroke="#111" stroke-width="1.0"/>
<line x1="116.98" y1="645.00" x2="116.98" y2="647.50" stroke="#111" stroke-width="1.0"/>
<line x1="136.96" y1="645.00" x2="136.96" y2="647.50" stroke="#111" stroke-width="1.0"/>
<line x1="156.94" y1="645.00" x2="156.94" y2="647.50" stroke="#111" stroke-width="1.0"/>
<line x1="176.92" y1="645.00" x2="176.92" y2="647.50" stroke="#111" stroke-width="1.0"/>
<line x1="196.90" y1="645.00" x2="196.90" y2="647.50" stroke="#111" stroke-width="1.0"/>
<text x="37.06" y="656.32" font-size="7.6" text-anchor="middle" fill="#000" font-weight="normal" stroke="#000" stroke-width="0.2" >−1</text>
<text x="57.04" y="656.32" font-size="7.6" text-anchor="middle" fill="#000" font-weight="normal" stroke="#000" stroke-width="0.2" >1</text>
<text x="77.02" y="656.32" font-size="7.6" text-anchor="middle" fill="#000" font-weight="normal" stroke="#000" stroke-width="0.2" >3</text>
<text x="97.00" y="656.32" font-size="7.6" text-anchor="middle" fill="#000" font-weight="normal" stroke="#000" stroke-width="0.2" >5</text>
<text x="116.98" y="656.32" font-size="7.6" text-anchor="middle" fill="#000" font-weight="normal" stroke="#000" stroke-width="0.2" >7</text>
<text x="136.96" y="656.32" font-size="7.6" text-anchor="middle" fill="#000" font-weight="normal" stroke="#000" stroke-width="0.2" >9</text>
<text x="156.94" y="656.32" font-size="7.6" text-anchor="middle" fill="#000" font-weight="normal" stroke="#000" stroke-width="0.2" >11</text>
<text x="176.92" y="656.32" font-size="7.6" text-anchor="middle" fill="#000" font-weight="normal" stroke="#000" stroke-width="0.2" >13</text>
<text x="196.90" y="656.32" font-size="7.6" text-anchor="middle" fill="#000" font-weight="normal" stroke="#000" stroke-width="0.2" >15</text>
<text x="117.00" y="667.35" font-size="8.2" text-anchor="middle" fill="#000" stroke="#000" stroke-width="0.3" textLength="54.0" lengthAdjust="spacingAndGlyphs">Day post treatment</text>
<text transform="translate(14.30,610.00) rotate(-90)" font-size="8" text-anchor="middle" fill="#000" stroke="#000" stroke-width="0.3" textLength="49" lengthAdjust="spacingAndGlyphs">Platelets × 10<tspan font-size="5.5" dy="-3">9</tspan><tspan dy="3">/L</tspan></text>
<rect x="53.60" y="564.50" width="4.50" height="4.70" fill="#cf0a35"/>
<text x="61.80" y="569.71" font-size="7.8" fill="#000" stroke="#000" stroke-width="0.2" textLength="25.9" lengthAdjust="spacingAndGlyphs">Baseline</text>
<rect x="97.40" y="564.50" width="4.50" height="4.70" fill="#0f4c8c"/>
<text x="105.60" y="569.71" font-size="7.8" fill="#000" stroke="#000" stroke-width="0.2" textLength="44.9" lengthAdjust="spacingAndGlyphs">Chemotherapy</text>
<rect x="159.80" y="564.50" width="4.50" height="4.70" fill="#fb9410"/>
<text x="168.00" y="569.71" font-size="7.8" fill="#000" stroke="#000" stroke-width="0.2" textLength="16.6" lengthAdjust="spacingAndGlyphs">Nadir</text>
<rect x="97.40" y="575.10" width="4.50" height="4.70" fill="#3cb54a"/>
<text x="105.60" y="580.31" font-size="7.8" fill="#000" stroke="#000" stroke-width="0.2" textLength="45.4" lengthAdjust="spacingAndGlyphs">Therapy ended</text>
<text x="145.40" y="619.31" font-size="7.8" fill="#000" stroke="#000" stroke-width="0.2" textLength="24.6" lengthAdjust="spacingAndGlyphs">Patients</text>
<line x1="180.00" y1="593.20" x2="188.50" y2="593.20" stroke="#111" stroke-width="0.9"/>
<circle cx="184.30" cy="593.20" r="1.75" fill="#111"/>
<text x="190.60" y="595.92" font-size="7.6" text-anchor="start" fill="#000" font-weight="normal" stroke="#000" stroke-width="0.2" >1</text>
<line x1="180.00" y1="602.60" x2="188.50" y2="602.60" stroke="#111" stroke-width="0.9"/>
<rect x="182.55" y="600.85" width="3.50" height="3.50" fill="#111"/>
<text x="190.60" y="605.32" font-size="7.6" text-anchor="start" fill="#000" font-weight="normal" stroke="#000" stroke-width="0.2" >2</text>
<line x1="180.00" y1="611.80" x2="188.50" y2="611.80" stroke="#111" stroke-width="0.9"/>
<polygon points="184.30,609.70 186.23,613.20 182.38,613.20" fill="#111"/>
<text x="190.60" y="614.52" font-size="7.6" text-anchor="start" fill="#000" font-weight="normal" stroke="#000" stroke-width="0.2" >3</text>
<line x1="180.00" y1="621.00" x2="188.50" y2="621.00" stroke="#111" stroke-width="0.9"/>
<polygon points="184.30,623.10 186.23,619.60 182.38,619.60" fill="#111"/>
<text x="190.60" y="623.72" font-size="7.6" text-anchor="start" fill="#000" font-weight="normal" stroke="#000" stroke-width="0.2" >4</text>
<line x1="180.00" y1="630.30" x2="188.50" y2="630.30" stroke="#111" stroke-width="0.9"/>
<circle cx="184.30" cy="630.30" r="1.75" fill="#111"/>
<text x="190.60" y="633.02" font-size="7.6" text-anchor="start" fill="#000" font-weight="normal" stroke="#000" stroke-width="0.2" >5</text>
<line x1="180.00" y1="639.50" x2="188.50" y2="639.50" stroke="#111" stroke-width="0.9"/>
<circle cx="184.30" cy="639.50" r="1.75" fill="#111"/>
<text x="190.60" y="642.22" font-size="7.6" text-anchor="start" fill="#000" font-weight="normal" stroke="#000" stroke-width="0.2" >6</text>
<rect x="249.80" y="591.14" width="13.10" height="53.66" fill="#dd879b"/>
<rect x="269.30" y="636.17" width="13.20" height="8.63" fill="#fdca8c"/>
<line x1="256.35" y1="583.68" x2="256.35" y2="597.21" stroke="#333" stroke-width="1.0"/>
<line x1="253.75" y1="583.68" x2="258.95" y2="583.68" stroke="#333" stroke-width="1.0"/>
<line x1="253.75" y1="597.21" x2="258.95" y2="597.21" stroke="#333" stroke-width="1.0"/>
<line x1="275.90" y1="627.30" x2="275.90" y2="644.80" stroke="#333" stroke-width="1.0"/>
<line x1="273.30" y1="627.30" x2="278.50" y2="627.30" stroke="#333" stroke-width="1.0"/>
<line x1="273.30" y1="644.80" x2="278.50" y2="644.80" stroke="#333" stroke-width="1.0"/>
<circle cx="256.35" cy="583.21" r="1.9" fill="#cf0a35"/>
<circle cx="251.35" cy="587.87" r="1.9" fill="#cf0a35"/>
<circle cx="256.35" cy="589.27" r="1.9" fill="#cf0a35"/>
<circle cx="261.35" cy="588.57" r="1.9" fill="#cf0a35"/>
<circle cx="256.35" cy="593.47" r="1.9" fill="#cf0a35"/>
<circle cx="256.35" cy="597.67" r="1.9" fill="#cf0a35"/>
<circle cx="256.35" cy="601.64" r="1.9" fill="#cf0a35"/>
<circle cx="275.90" cy="622.17" r="1.9" fill="#fb9410"/>
<circle cx="275.90" cy="628.70" r="1.9" fill="#fb9410"/>
<circle cx="275.90" cy="638.73" r="1.9" fill="#fb9410"/>
<circle cx="270.90" cy="642.70" r="1.9" fill="#fb9410"/>
<circle cx="275.90" cy="642.70" r="1.9" fill="#fb9410"/>
<circle cx="280.90" cy="642.70" r="1.9" fill="#fb9410"/>
<line x1="244.10" y1="571.30" x2="244.10" y2="645.40" stroke="#111" stroke-width="1.4"/>
<line x1="241.10" y1="644.80" x2="244.10" y2="644.80" stroke="#111" stroke-width="1.0"/>
<text x="238.60" y="647.52" font-size="7.6" text-anchor="end" fill="#000" font-weight="normal" stroke="#000" stroke-width="0.2" >0</text>
<line x1="241.10" y1="621.47" x2="244.10" y2="621.47" stroke="#111" stroke-width="1.0"/>
<text x="238.60" y="624.19" font-size="7.6" text-anchor="end" fill="#000" font-weight="normal" stroke="#000" stroke-width="0.2" >100</text>
<line x1="241.10" y1="598.14" x2="244.10" y2="598.14" stroke="#111" stroke-width="1.0"/>
<text x="238.60" y="600.86" font-size="7.6" text-anchor="end" fill="#000" font-weight="normal" stroke="#000" stroke-width="0.2" >200</text>
<line x1="241.10" y1="574.81" x2="244.10" y2="574.81" stroke="#111" stroke-width="1.0"/>
<text x="238.60" y="577.53" font-size="7.6" text-anchor="end" fill="#000" font-weight="normal" stroke="#000" stroke-width="0.2" >300</text>
<line x1="243.50" y1="644.80" x2="289.00" y2="644.80" stroke="#111" stroke-width="1.4"/>
<line x1="256.35" y1="644.80" x2="256.35" y2="647.30" stroke="#111" stroke-width="1.0"/>
<line x1="275.90" y1="644.80" x2="275.90" y2="647.30" stroke="#111" stroke-width="1.0"/>
<text transform="translate(258.95,652.80) rotate(-45)" font-size="7.8" text-anchor="end" fill="#000" stroke="#000" stroke-width="0.2">Baseline</text>
<text transform="translate(278.50,652.80) rotate(-45)" font-size="7.8" text-anchor="end" fill="#000" stroke="#000" stroke-width="0.2">Nadir</text>
<line x1="256.30" y1="577.40" x2="276.00" y2="577.40" stroke="#111" stroke-width="1.0"/>
<text x="266.15" y="577.81" font-size="9.2" text-anchor="middle" fill="#000" stroke="#000" stroke-width="0.45">****</text>
<text transform="translate(219.30,609.20) rotate(-90)" font-size="8" text-anchor="middle" fill="#000" stroke="#000" stroke-width="0.3" textLength="48.5" lengthAdjust="spacingAndGlyphs">Platelets × 10<tspan font-size="5.5" dy="-3">9</tspan><tspan dy="3">/L</tspan></text>
<rect x="327.20" y="593.14" width="13.40" height="51.66" fill="#dd879b"/>
<rect x="347.20" y="635.41" width="13.60" height="9.39" fill="#fdca8c"/>
<line x1="333.90" y1="586.10" x2="333.90" y2="599.01" stroke="#333" stroke-width="1.0"/>
<line x1="331.30" y1="586.10" x2="336.50" y2="586.10" stroke="#333" stroke-width="1.0"/>
<line x1="331.30" y1="599.01" x2="336.50" y2="599.01" stroke="#333" stroke-width="1.0"/>
<line x1="354.00" y1="627.19" x2="354.00" y2="644.80" stroke="#333" stroke-width="1.0"/>
<line x1="351.40" y1="627.19" x2="356.60" y2="627.19" stroke="#333" stroke-width="1.0"/>
<line x1="351.40" y1="644.80" x2="356.60" y2="644.80" stroke="#333" stroke-width="1.0"/>
<circle cx="328.90" cy="586.10" r="1.9" fill="#cf0a35"/>
<circle cx="338.90" cy="588.45" r="1.9" fill="#cf0a35"/>
<circle cx="333.90" cy="590.80" r="1.9" fill="#cf0a35"/>
<circle cx="331.90" cy="595.49" r="1.9" fill="#cf0a35"/>
<circle cx="335.90" cy="597.84" r="1.9" fill="#cf0a35"/>
<circle cx="333.90" cy="601.36" r="1.9" fill="#cf0a35"/>
<circle cx="349.00" cy="631.89" r="1.9" fill="#fb9410"/>
<circle cx="354.00" cy="629.54" r="1.9" fill="#fb9410"/>
<circle cx="359.00" cy="627.19" r="1.9" fill="#fb9410"/>
<circle cx="358.00" cy="633.06" r="1.9" fill="#fb9410"/>
<circle cx="352.00" cy="643.63" r="1.9" fill="#fb9410"/>
<circle cx="356.00" cy="644.80" r="1.9" fill="#fb9410"/>
<line x1="322.00" y1="571.30" x2="322.00" y2="645.40" stroke="#111" stroke-width="1.4"/>
<line x1="319.00" y1="644.80" x2="322.00" y2="644.80" stroke="#111" stroke-width="1.0"/>
<text x="316.50" y="647.52" font-size="7.6" text-anchor="end" fill="#000" font-weight="normal" stroke="#000" stroke-width="0.2" >0.0</text>
<line x1="319.00" y1="621.32" x2="322.00" y2="621.32" stroke="#111" stroke-width="1.0"/>
<text x="316.50" y="624.04" font-size="7.6" text-anchor="end" fill="#000" font-weight="normal" stroke="#000" stroke-width="0.2" >0.2</text>
<line x1="319.00" y1="597.84" x2="322.00" y2="597.84" stroke="#111" stroke-width="1.0"/>
<text x="316.50" y="600.56" font-size="7.6" text-anchor="end" fill="#000" font-weight="normal" stroke="#000" stroke-width="0.2" >0.4</text>
<line x1="319.00" y1="574.36" x2="322.00" y2="574.36" stroke="#111" stroke-width="1.0"/>
<text x="316.50" y="577.08" font-size="7.6" text-anchor="end" fill="#000" font-weight="normal" stroke="#000" stroke-width="0.2" >0.6</text>
<line x1="321.40" y1="644.80" x2="366.40" y2="644.80" stroke="#111" stroke-width="1.4"/>
<line x1="333.90" y1="644.80" x2="333.90" y2="647.30" stroke="#111" stroke-width="1.0"/>
<line x1="354.00" y1="644.80" x2="354.00" y2="647.30" stroke="#111" stroke-width="1.0"/>
<text transform="translate(336.50,652.80) rotate(-45)" font-size="7.8" text-anchor="end" fill="#000" stroke="#000" stroke-width="0.2">Baseline</text>
<text transform="translate(356.60,652.80) rotate(-45)" font-size="7.8" text-anchor="end" fill="#000" stroke="#000" stroke-width="0.2">Nadir</text>
<line x1="334.70" y1="581.40" x2="353.80" y2="581.40" stroke="#111" stroke-width="1.0"/>
<text x="344.25" y="581.81" font-size="9.2" text-anchor="middle" fill="#000" stroke="#000" stroke-width="0.45">****</text>
<text transform="translate(301.30,609.35) rotate(-90)" font-size="8.5" text-anchor="middle" fill="#000" stroke="#000" stroke-width="0.3" textLength="27.3" lengthAdjust="spacingAndGlyphs">Barbell %</text>
<rect x="401.10" y="600.45" width="12.70" height="44.35" fill="#dd879b"/>
<rect x="421.10" y="605.71" width="12.70" height="39.09" fill="#fdca8c"/>
<line x1="407.45" y1="582.95" x2="407.45" y2="617.38" stroke="#333" stroke-width="1.0"/>
<line x1="404.85" y1="582.95" x2="410.05" y2="582.95" stroke="#333" stroke-width="1.0"/>
<line x1="404.85" y1="617.38" x2="410.05" y2="617.38" stroke="#333" stroke-width="1.0"/>
<line x1="427.45" y1="589.37" x2="427.45" y2="622.63" stroke="#333" stroke-width="1.0"/>
<line x1="424.85" y1="589.37" x2="430.05" y2="589.37" stroke="#333" stroke-width="1.0"/>
<line x1="424.85" y1="622.63" x2="430.05" y2="622.63" stroke="#333" stroke-width="1.0"/>
<circle cx="407.45" cy="578.28" r="1.9" fill="#cf0a35"/>
<circle cx="407.45" cy="587.62" r="1.9" fill="#cf0a35"/>
<circle cx="407.45" cy="591.12" r="1.9" fill="#cf0a35"/>
<circle cx="407.45" cy="607.46" r="1.9" fill="#cf0a35"/>
<circle cx="402.45" cy="619.13" r="1.9" fill="#cf0a35"/>
<circle cx="412.45" cy="617.96" r="1.9" fill="#cf0a35"/>
<circle cx="427.45" cy="579.45" r="1.9" fill="#fb9410"/>
<circle cx="427.45" cy="600.45" r="1.9" fill="#fb9410"/>
<circle cx="422.45" cy="602.79" r="1.9" fill="#fb9410"/>
<circle cx="432.45" cy="603.95" r="1.9" fill="#fb9410"/>
<circle cx="424.95" cy="623.79" r="1.9" fill="#fb9410"/>
<circle cx="429.95" cy="623.79" r="1.9" fill="#fb9410"/>
<line x1="395.50" y1="571.30" x2="395.50" y2="645.40" stroke="#111" stroke-width="1.4"/>
<line x1="392.50" y1="644.80" x2="395.50" y2="644.80" stroke="#111" stroke-width="1.0"/>
<text x="390.00" y="647.52" font-size="7.6" text-anchor="end" fill="#000" font-weight="normal" stroke="#000" stroke-width="0.2" >0</text>
<line x1="392.50" y1="621.46" x2="395.50" y2="621.46" stroke="#111" stroke-width="1.0"/>
<text x="390.00" y="624.18" font-size="7.6" text-anchor="end" fill="#000" font-weight="normal" stroke="#000" stroke-width="0.2" >2</text>
<line x1="392.50" y1="598.12" x2="395.50" y2="598.12" stroke="#111" stroke-width="1.0"/>
<text x="390.00" y="600.84" font-size="7.6" text-anchor="end" fill="#000" font-weight="normal" stroke="#000" stroke-width="0.2" >4</text>
<line x1="392.50" y1="574.78" x2="395.50" y2="574.78" stroke="#111" stroke-width="1.0"/>
<text x="390.00" y="577.50" font-size="7.6" text-anchor="end" fill="#000" font-weight="normal" stroke="#000" stroke-width="0.2" >6</text>
<line x1="394.90" y1="644.80" x2="440.30" y2="644.80" stroke="#111" stroke-width="1.4"/>
<line x1="407.45" y1="644.80" x2="407.45" y2="647.30" stroke="#111" stroke-width="1.0"/>
<line x1="427.45" y1="644.80" x2="427.45" y2="647.30" stroke="#111" stroke-width="1.0"/>
<text transform="translate(410.05,652.80) rotate(-45)" font-size="7.8" text-anchor="end" fill="#000" stroke="#000" stroke-width="0.2">Baseline</text>
<text transform="translate(430.05,652.80) rotate(-45)" font-size="7.8" text-anchor="end" fill="#000" stroke="#000" stroke-width="0.2">Nadir</text>
<text transform="translate(378.30,609.40) rotate(-90)" font-size="8.3" text-anchor="middle" fill="#000" stroke="#000" stroke-width="0.3" textLength="37.6" lengthAdjust="spacingAndGlyphs">Preplatelet %</text>
<rect x="474.40" y="600.70" width="13.00" height="44.10" fill="#dd879b"/>
<rect x="494.40" y="616.80" width="13.40" height="28.00" fill="#fdca8c"/>
<line x1="480.90" y1="588.80" x2="480.90" y2="611.20" stroke="#333" stroke-width="1.0"/>
<line x1="478.30" y1="588.80" x2="483.50" y2="588.80" stroke="#333" stroke-width="1.0"/>
<line x1="478.30" y1="611.20" x2="483.50" y2="611.20" stroke="#333" stroke-width="1.0"/>
<line x1="501.10" y1="600.00" x2="501.10" y2="633.60" stroke="#333" stroke-width="1.0"/>
<line x1="498.50" y1="600.00" x2="503.70" y2="600.00" stroke="#333" stroke-width="1.0"/>
<line x1="498.50" y1="633.60" x2="503.70" y2="633.60" stroke="#333" stroke-width="1.0"/>
<circle cx="480.90" cy="579.00" r="1.9" fill="#cf0a35"/>
<circle cx="475.90" cy="598.60" r="1.9" fill="#cf0a35"/>
<circle cx="485.90" cy="600.00" r="1.9" fill="#cf0a35"/>
<circle cx="480.90" cy="602.10" r="1.9" fill="#cf0a35"/>
<circle cx="480.90" cy="609.10" r="1.9" fill="#cf0a35"/>
<circle cx="478.40" cy="611.90" r="1.9" fill="#cf0a35"/>
<circle cx="501.10" cy="590.20" r="1.9" fill="#fb9410"/>
<circle cx="501.10" cy="604.20" r="1.9" fill="#fb9410"/>
<circle cx="501.10" cy="615.40" r="1.9" fill="#fb9410"/>
<circle cx="496.10" cy="625.20" r="1.9" fill="#fb9410"/>
<circle cx="506.10" cy="628.70" r="1.9" fill="#fb9410"/>
<circle cx="501.10" cy="635.00" r="1.9" fill="#fb9410"/>
<line x1="468.30" y1="571.30" x2="468.30" y2="645.40" stroke="#111" stroke-width="1.4"/>
<line x1="465.30" y1="644.80" x2="468.30" y2="644.80" stroke="#111" stroke-width="1.0"/>
<text x="462.80" y="647.52" font-size="7.6" text-anchor="end" fill="#000" font-weight="normal" stroke="#000" stroke-width="0.2" >0</text>
<line x1="465.30" y1="630.80" x2="468.30" y2="630.80" stroke="#111" stroke-width="1.0"/>
<text x="462.80" y="633.52" font-size="7.6" text-anchor="end" fill="#000" font-weight="normal" stroke="#000" stroke-width="0.2" >1</text>
<line x1="465.30" y1="616.80" x2="468.30" y2="616.80" stroke="#111" stroke-width="1.0"/>
<text x="462.80" y="619.52" font-size="7.6" text-anchor="end" fill="#000" font-weight="normal" stroke="#000" stroke-width="0.2" >2</text>
<line x1="465.30" y1="602.80" x2="468.30" y2="602.80" stroke="#111" stroke-width="1.0"/>
<text x="462.80" y="605.52" font-size="7.6" text-anchor="end" fill="#000" font-weight="normal" stroke="#000" stroke-width="0.2" >3</text>
<line x1="465.30" y1="588.80" x2="468.30" y2="588.80" stroke="#111" stroke-width="1.0"/>
<text x="462.80" y="591.52" font-size="7.6" text-anchor="end" fill="#000" font-weight="normal" stroke="#000" stroke-width="0.2" >4</text>
<line x1="465.30" y1="574.80" x2="468.30" y2="574.80" stroke="#111" stroke-width="1.0"/>
<text x="462.80" y="577.52" font-size="7.6" text-anchor="end" fill="#000" font-weight="normal" stroke="#000" stroke-width="0.2" >5</text>
<line x1="467.70" y1="644.80" x2="513.90" y2="644.80" stroke="#111" stroke-width="1.4"/>
<line x1="480.90" y1="644.80" x2="480.90" y2="647.30" stroke="#111" stroke-width="1.0"/>
<line x1="501.10" y1="644.80" x2="501.10" y2="647.30" stroke="#111" stroke-width="1.0"/>
<text transform="translate(483.50,652.80) rotate(-45)" font-size="7.8" text-anchor="end" fill="#000" stroke="#000" stroke-width="0.2">Baseline</text>
<text transform="translate(503.70,652.80) rotate(-45)" font-size="7.8" text-anchor="end" fill="#000" stroke="#000" stroke-width="0.2">Nadir</text>
<text transform="translate(452.60,609.45) rotate(-90)" font-size="8.4" text-anchor="middle" fill="#000" stroke="#000" stroke-width="0.3" textLength="17.7" lengthAdjust="spacingAndGlyphs">IPF %</text></svg>
</body></html>
